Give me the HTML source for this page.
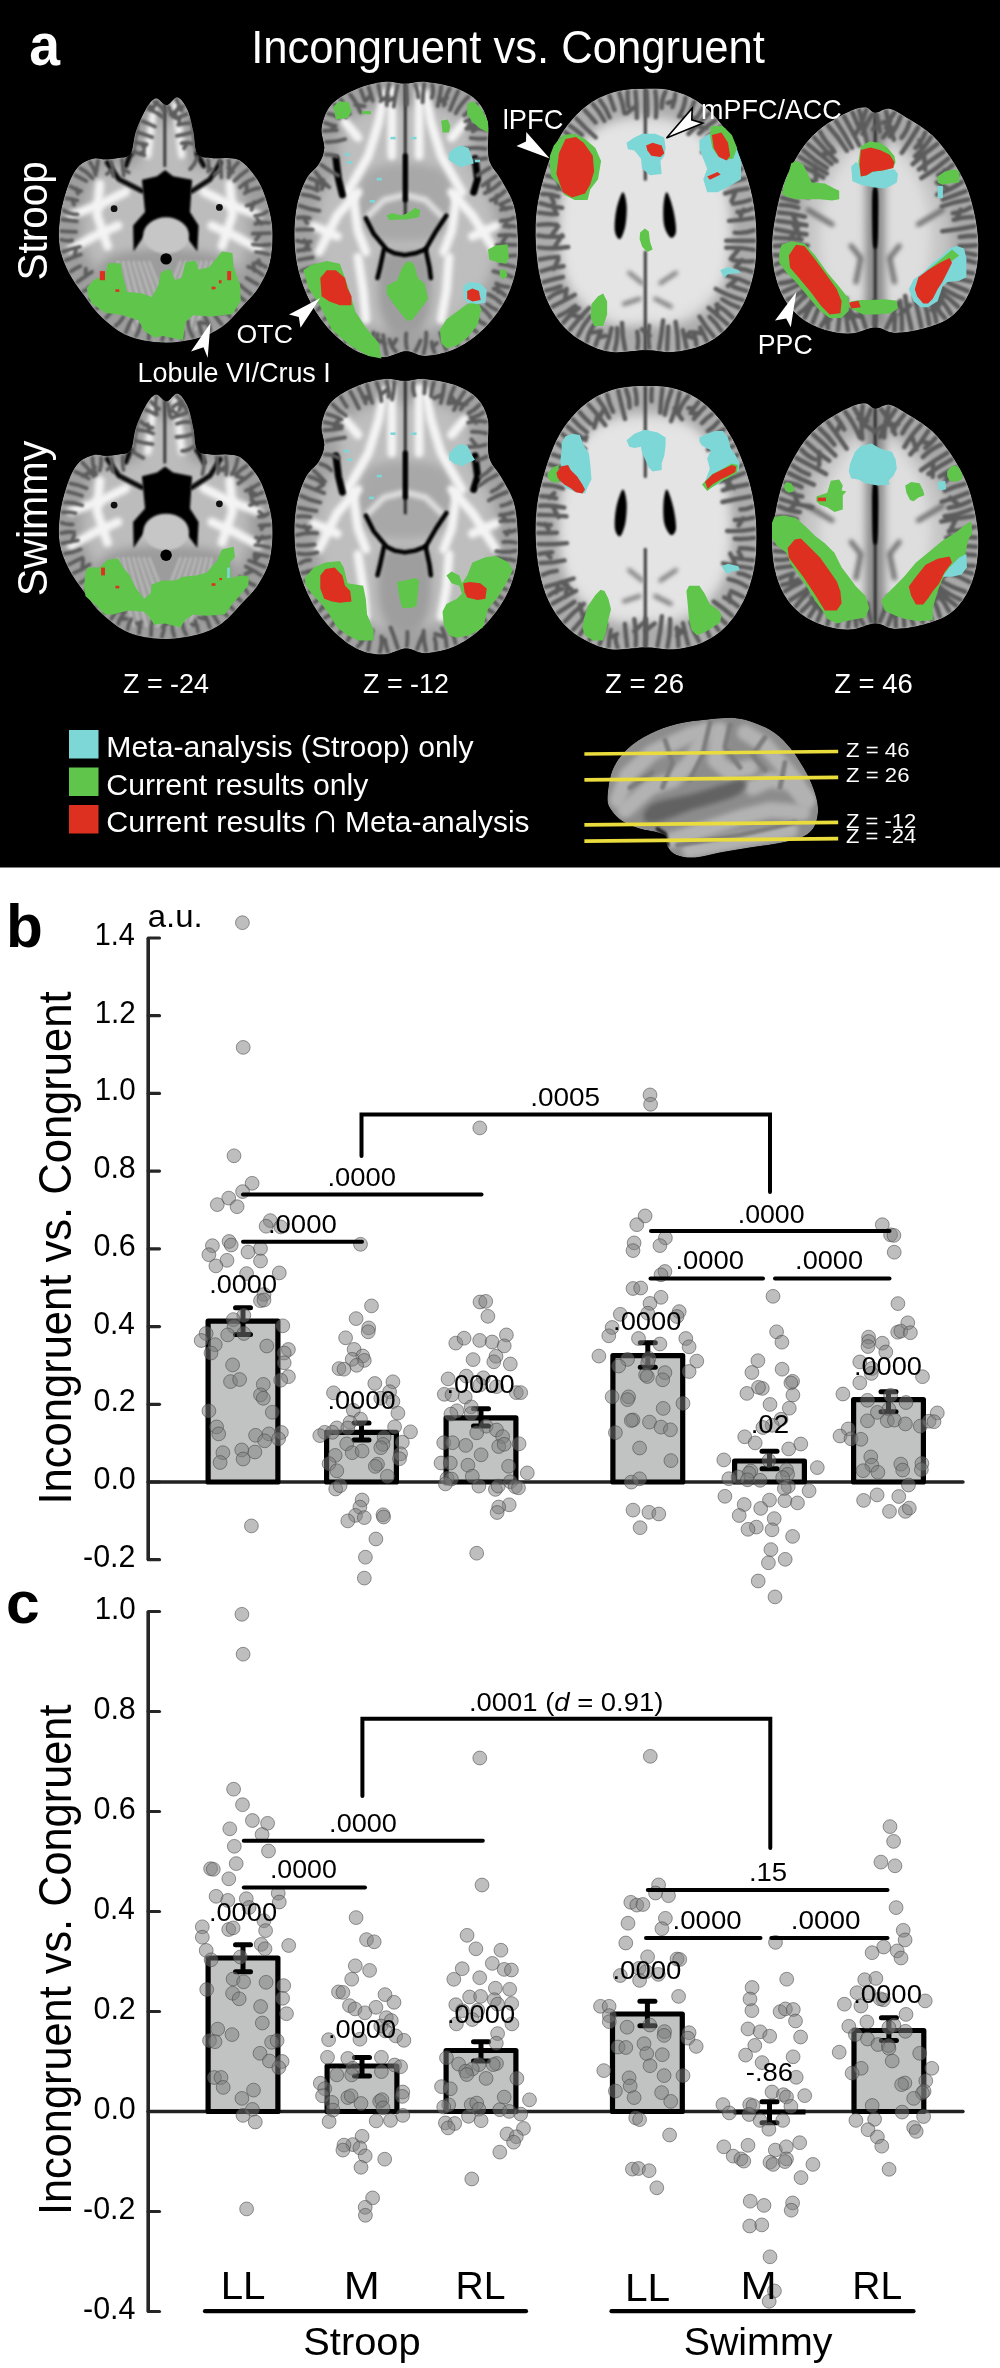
<!DOCTYPE html>
<html><head><meta charset="utf-8">
<style>
html,body{margin:0;padding:0;background:#fff;}
body{width:1000px;height:2368px;overflow:hidden;}
svg{display:block;font-family:"Liberation Sans", sans-serif;}
text{opacity:0.999;}
</style></head><body>
<svg width="1000" height="2368" viewBox="0 0 1000 2368">
<rect x="0" y="0" width="1000" height="867.5" fill="#000"/>
<defs><filter id="blur1" filterUnits="userSpaceOnUse" x="0" y="0" width="1000" height="900"><feGaussianBlur stdDeviation="1"/></filter>
<filter id="blur2" filterUnits="userSpaceOnUse" x="0" y="0" width="1000" height="900"><feGaussianBlur stdDeviation="2"/></filter>
<filter id="blur4" filterUnits="userSpaceOnUse" x="0" y="0" width="1000" height="900"><feGaussianBlur stdDeviation="4"/></filter>
<filter id="blur5" filterUnits="userSpaceOnUse" x="0" y="0" width="1000" height="900"><feGaussianBlur stdDeviation="6"/></filter></defs>
<clipPath id="clip1_0"><path d="M155.7,98.2 C159.3,97.4 163.0,105.1 166.6,105.0 C170.3,104.8 174.0,96.3 177.5,97.2 C181.1,98.0 185.0,104.1 187.7,109.9 C190.3,115.7 191.8,124.7 193.4,132.0 C195.0,139.3 194.3,149.5 197.3,153.8 C200.3,158.2 206.6,157.3 211.6,158.0 C216.6,158.7 222.4,157.6 227.2,158.0 C232.0,158.4 235.9,158.0 240.2,160.6 C244.5,163.2 249.3,168.4 253.2,173.6 C257.1,178.8 260.4,183.1 263.6,191.8 C266.8,200.5 271.1,213.9 272.2,225.6 C273.3,237.3 272.4,251.6 270.1,262.0 C267.8,272.4 263.0,280.6 258.4,288.0 C253.9,295.4 248.9,299.7 242.8,306.2 C236.7,312.7 229.8,321.6 222.0,327.0 C214.2,332.4 206.0,336.1 196.0,338.7 C186.0,341.3 173.5,343.0 162.2,342.6 C150.9,342.2 138.4,340.2 128.4,336.1 C118.4,332.0 109.8,324.6 102.4,317.9 C95.0,311.2 89.8,303.4 84.2,295.8 C78.6,288.2 72.7,280.6 68.6,272.4 C64.5,264.2 60.9,255.9 59.5,246.4 C58.1,236.9 58.8,225.6 60.3,215.2 C61.8,204.8 65.5,192.2 68.6,184.0 C71.7,175.8 74.8,170.1 79.0,165.8 C83.2,161.6 89.2,159.6 93.6,158.5 C97.9,157.4 100.9,159.4 105.0,159.3 C109.1,159.2 113.8,158.9 118.0,158.0 C122.2,157.1 127.5,158.2 130.5,153.8 C133.4,149.5 133.2,139.3 135.7,132.0 C138.2,124.7 142.0,115.5 145.3,109.9 C148.6,104.3 152.2,99.0 155.7,98.2 Z"/></clipPath>
<g clip-path="url(#clip1_0)">
<path d="M155.7,98.2 C159.3,97.4 163.0,105.1 166.6,105.0 C170.3,104.8 174.0,96.3 177.5,97.2 C181.1,98.0 185.0,104.1 187.7,109.9 C190.3,115.7 191.8,124.7 193.4,132.0 C195.0,139.3 194.3,149.5 197.3,153.8 C200.3,158.2 206.6,157.3 211.6,158.0 C216.6,158.7 222.4,157.6 227.2,158.0 C232.0,158.4 235.9,158.0 240.2,160.6 C244.5,163.2 249.3,168.4 253.2,173.6 C257.1,178.8 260.4,183.1 263.6,191.8 C266.8,200.5 271.1,213.9 272.2,225.6 C273.3,237.3 272.4,251.6 270.1,262.0 C267.8,272.4 263.0,280.6 258.4,288.0 C253.9,295.4 248.9,299.7 242.8,306.2 C236.7,312.7 229.8,321.6 222.0,327.0 C214.2,332.4 206.0,336.1 196.0,338.7 C186.0,341.3 173.5,343.0 162.2,342.6 C150.9,342.2 138.4,340.2 128.4,336.1 C118.4,332.0 109.8,324.6 102.4,317.9 C95.0,311.2 89.8,303.4 84.2,295.8 C78.6,288.2 72.7,280.6 68.6,272.4 C64.5,264.2 60.9,255.9 59.5,246.4 C58.1,236.9 58.8,225.6 60.3,215.2 C61.8,204.8 65.5,192.2 68.6,184.0 C71.7,175.8 74.8,170.1 79.0,165.8 C83.2,161.6 89.2,159.6 93.6,158.5 C97.9,157.4 100.9,159.4 105.0,159.3 C109.1,159.2 113.8,158.9 118.0,158.0 C122.2,157.1 127.5,158.2 130.5,153.8 C133.4,149.5 133.2,139.3 135.7,132.0 C138.2,124.7 142.0,115.5 145.3,109.9 C148.6,104.3 152.2,99.0 155.7,98.2 Z" fill="#9e9e9e"/>
<path d="M157.7,119.4 C160.5,118.7 163.4,124.9 166.2,124.8 C169.1,124.7 172.0,117.9 174.8,118.6 C177.5,119.2 180.6,124.1 182.7,128.8 C184.7,133.4 185.9,140.6 187.1,146.4 C188.4,152.3 187.8,160.4 190.2,163.9 C192.5,167.4 197.4,166.7 201.3,167.2 C205.2,167.8 209.8,166.9 213.5,167.2 C217.2,167.6 220.3,167.2 223.6,169.3 C227.0,171.4 230.7,175.6 233.8,179.7 C236.8,183.9 239.4,187.3 241.9,194.3 C244.4,201.2 247.7,212.0 248.6,221.3 C249.4,230.7 248.8,242.1 247.0,250.4 C245.2,258.8 241.4,265.3 237.8,271.2 C234.3,277.1 230.4,280.6 225.7,285.8 C220.9,291.0 215.5,298.1 209.4,302.4 C203.4,306.8 196.9,309.7 189.2,311.8 C181.4,313.9 171.6,315.3 162.8,314.9 C154.0,314.6 144.2,313.0 136.4,309.7 C128.7,306.4 121.9,300.5 116.2,295.2 C110.4,289.8 106.4,283.5 102.0,277.5 C97.6,271.4 93.0,265.3 89.8,258.8 C86.6,252.2 83.8,245.6 82.7,238.0 C81.6,230.3 82.1,221.3 83.3,213.0 C84.5,204.7 87.4,194.6 89.8,188.0 C92.2,181.5 94.7,176.9 97.9,173.5 C101.1,170.1 105.9,168.5 109.3,167.7 C112.6,166.8 115.0,168.3 118.2,168.3 C121.4,168.2 125.0,168.0 128.3,167.2 C131.6,166.5 135.8,167.4 138.1,163.9 C140.4,160.4 140.2,152.3 142.1,146.4 C144.0,140.6 147.0,133.3 149.6,128.8 C152.2,124.2 155.0,120.1 157.7,119.4 Z" fill="#bcbcbc" filter="url(#blur5)"/>
<polyline points="154.4,104.7 150.5,132.0 147.9,155.4" fill="none" stroke="#f4f4f4" stroke-width="7" stroke-linecap="round" stroke-linejoin="round" opacity="1.0" filter="url(#blur2)"/>
<polyline points="175.2,104.7 179.1,132.0 181.7,155.4" fill="none" stroke="#f4f4f4" stroke-width="7" stroke-linecap="round" stroke-linejoin="round" opacity="1.0" filter="url(#blur2)"/>
<polyline points="164.8,100.8 164.8,165.8" fill="none" stroke="#3a3a3a" stroke-width="3" stroke-linecap="round" stroke-linejoin="round" opacity="1.0" filter="url(#blur1)"/>
<polyline points="138.8,119.0 133.6,155.4" fill="none" stroke="#6a6a6a" stroke-width="3" stroke-linecap="round" stroke-linejoin="round" opacity="1.0" filter="url(#blur1)"/>
<polyline points="190.8,119.0 196.0,155.4" fill="none" stroke="#6a6a6a" stroke-width="3" stroke-linecap="round" stroke-linejoin="round" opacity="1.0" filter="url(#blur1)"/>
<polyline points="125.8,191.8 99.8,204.8 71.2,215.2" fill="none" stroke="#f4f4f4" stroke-width="9" stroke-linecap="round" stroke-linejoin="round" opacity="1.0" filter="url(#blur2)"/>
<polyline points="118.0,225.6 94.6,236.0 71.2,249.0" fill="none" stroke="#f4f4f4" stroke-width="9" stroke-linecap="round" stroke-linejoin="round" opacity="1.0" filter="url(#blur2)"/>
<polyline points="99.8,184.0 97.2,215.2 107.6,246.4" fill="none" stroke="#f4f4f4" stroke-width="9" stroke-linecap="round" stroke-linejoin="round" opacity="1.0" filter="url(#blur2)"/>
<polyline points="203.8,191.8 229.8,204.8 258.4,215.2" fill="none" stroke="#f4f4f4" stroke-width="9" stroke-linecap="round" stroke-linejoin="round" opacity="1.0" filter="url(#blur2)"/>
<polyline points="211.6,225.6 235.0,236.0 258.4,249.0" fill="none" stroke="#f4f4f4" stroke-width="9" stroke-linecap="round" stroke-linejoin="round" opacity="1.0" filter="url(#blur2)"/>
<polyline points="229.8,184.0 232.4,215.2 222.0,246.4" fill="none" stroke="#f4f4f4" stroke-width="9" stroke-linecap="round" stroke-linejoin="round" opacity="1.0" filter="url(#blur2)"/>
<path d="M105.0,259.4 C117.6,250.3 144.4,249.0 164.8,249.0 C185.2,249.0 214.6,250.7 227.2,259.4 C239.8,268.1 244.5,288.4 240.2,301.0 C235.9,313.6 214.2,328.3 201.2,334.8 C188.2,341.3 174.8,340.2 162.2,340.0 C149.6,339.8 137.9,339.6 125.8,333.5 C113.7,327.4 92.9,316.0 89.4,303.6 C85.9,291.3 92.4,268.5 105.0,259.4 Z" fill="#9c9c9c" filter="url(#blur4)"/>
<polyline points="118.0,262.0 125.8,301.0 133.6,329.6" fill="none" stroke="#bdbdbd" stroke-width="3" stroke-linecap="round" stroke-linejoin="round" opacity="0.8" filter="url(#blur1)"/>
<polyline points="211.6,262.0 203.8,301.0 196.0,329.6" fill="none" stroke="#bdbdbd" stroke-width="3" stroke-linecap="round" stroke-linejoin="round" opacity="0.8" filter="url(#blur1)"/>
<polyline points="123.2,262.0 132.3,301.0 140.1,329.6" fill="none" stroke="#bdbdbd" stroke-width="3" stroke-linecap="round" stroke-linejoin="round" opacity="0.8" filter="url(#blur1)"/>
<polyline points="206.4,262.0 197.3,301.0 189.5,329.6" fill="none" stroke="#bdbdbd" stroke-width="3" stroke-linecap="round" stroke-linejoin="round" opacity="0.8" filter="url(#blur1)"/>
<polyline points="128.4,262.0 138.8,301.0 146.6,329.6" fill="none" stroke="#bdbdbd" stroke-width="3" stroke-linecap="round" stroke-linejoin="round" opacity="0.8" filter="url(#blur1)"/>
<polyline points="201.2,262.0 190.8,301.0 183.0,329.6" fill="none" stroke="#bdbdbd" stroke-width="3" stroke-linecap="round" stroke-linejoin="round" opacity="0.8" filter="url(#blur1)"/>
<polyline points="133.6,262.0 145.3,301.0 153.1,329.6" fill="none" stroke="#bdbdbd" stroke-width="3" stroke-linecap="round" stroke-linejoin="round" opacity="0.8" filter="url(#blur1)"/>
<polyline points="196.0,262.0 184.3,301.0 176.5,329.6" fill="none" stroke="#bdbdbd" stroke-width="3" stroke-linecap="round" stroke-linejoin="round" opacity="0.8" filter="url(#blur1)"/>
<polyline points="138.8,262.0 151.8,301.0 159.6,329.6" fill="none" stroke="#bdbdbd" stroke-width="3" stroke-linecap="round" stroke-linejoin="round" opacity="0.8" filter="url(#blur1)"/>
<polyline points="190.8,262.0 177.8,301.0 170.0,329.6" fill="none" stroke="#bdbdbd" stroke-width="3" stroke-linecap="round" stroke-linejoin="round" opacity="0.8" filter="url(#blur1)"/>
<polyline points="144.0,262.0 158.3,301.0 166.1,329.6" fill="none" stroke="#bdbdbd" stroke-width="3" stroke-linecap="round" stroke-linejoin="round" opacity="0.8" filter="url(#blur1)"/>
<polyline points="185.6,262.0 171.3,301.0 163.5,329.6" fill="none" stroke="#bdbdbd" stroke-width="3" stroke-linecap="round" stroke-linejoin="round" opacity="0.8" filter="url(#blur1)"/>
<polyline points="149.2,262.0 164.8,301.0 172.6,329.6" fill="none" stroke="#bdbdbd" stroke-width="3" stroke-linecap="round" stroke-linejoin="round" opacity="0.8" filter="url(#blur1)"/>
<polyline points="180.4,262.0 164.8,301.0 157.0,329.6" fill="none" stroke="#bdbdbd" stroke-width="3" stroke-linecap="round" stroke-linejoin="round" opacity="0.8" filter="url(#blur1)"/>
<polygon points="141.9,179.8 157.0,176.2 165.1,170.0 173.1,176.2 192.1,179.8 190.0,212.1 198.6,225.6 197.3,251.6 185.6,236.0 166.1,225.6 144.0,236.0 133.6,251.6 133.1,225.6 145.0,212.1" fill="#050505" filter="url(#blur1)"/>
<ellipse cx="166.1" cy="235.5" rx="22.9" ry="18.2" fill="#c6c6c6" filter="url(#blur1)"/>
<circle cx="166.1" cy="258.9" r="5.7" fill="#000"/>
<circle cx="114.1" cy="208.7" r="3.4" fill="#111"/>
<circle cx="219.4" cy="207.4" r="3.4" fill="#111"/>
<polyline points="107.3,162.7 119.0,179.3 141.9,191.0" fill="none" stroke="#111" stroke-width="5" stroke-linecap="round" stroke-linejoin="round" opacity="1.0" filter="url(#blur1)"/>
<polyline points="220.2,162.7 210.0,179.3 192.1,191.0" fill="none" stroke="#111" stroke-width="5" stroke-linecap="round" stroke-linejoin="round" opacity="1.0" filter="url(#blur1)"/>
<polyline points="130.5,153.8 125.8,165.8" fill="none" stroke="#111" stroke-width="5" stroke-linecap="round" stroke-linejoin="round" opacity="1.0" filter="url(#blur1)"/>
<polyline points="197.3,153.8 203.8,165.8" fill="none" stroke="#111" stroke-width="5" stroke-linecap="round" stroke-linejoin="round" opacity="1.0" filter="url(#blur1)"/>
<path d="M157.5,101.4 Q154.9,106.4 151.2,110.6 M153.8,106.3 L148.8,106.3 M168.5,107.0 Q170.6,111.8 172.6,116.7 M170.8,112.3 L175.3,113.5 M176.6,99.8 Q179.4,105.1 181.7,110.6 M179.3,105.8 L176.8,110.5 M183.1,106.5 Q176.9,110.7 170.3,114.3 M176.0,110.7 L175.2,117.4 M186.7,114.3 Q181.2,116.5 175.6,118.3 M180.6,116.4 L179.0,121.4 M189.0,123.2 Q183.4,123.2 178.2,124.9 M191.0,132.6 Q183.9,134.8 176.7,135.8 M192.3,143.8 Q186.8,141.6 181.7,143.4 M186.5,144.3 L184.1,148.4 M197.2,157.3 Q195.2,164.3 190.1,169.1 M208.0,160.2 Q209.3,166.0 208.2,171.7 M207.6,166.5 L211.6,169.8 M219.7,160.6 Q221.5,169.0 221.3,177.5 M220.2,169.9 L214.3,174.8 M228.8,160.6 Q229.9,167.4 228.7,174.0 M228.3,167.9 L232.8,171.9 M238.3,162.4 Q231.8,168.9 228.5,177.2 M247.2,170.2 Q240.4,174.9 234.5,180.8 M254.0,178.8 Q245.8,181.5 240.0,187.4 M246.7,184.1 L246.6,191.5 M259.4,188.0 Q251.3,188.9 244.9,193.3 M263.5,199.0 Q255.6,203.6 246.7,205.6 M254.1,202.1 L251.5,209.8 M267.1,211.5 Q261.5,215.6 255.0,215.8 M269.3,222.8 Q262.2,222.1 255.4,223.9 M261.7,223.8 L257.3,219.4 M270.1,233.2 Q261.4,233.4 252.8,233.6 M260.6,233.4 L256.0,239.8 M269.9,244.5 Q261.3,245.9 252.8,244.4 M268.9,254.5 Q262.4,252.7 255.8,252.2 M266.1,267.2 Q261.4,263.5 255.8,262.6 M260.2,265.2 L258.7,260.4 M262.8,275.1 Q256.2,269.7 248.3,266.8 M254.6,271.0 L253.3,263.7 M257.7,284.4 Q251.9,281.4 246.5,277.9 M250.9,294.0 Q245.1,289.9 240.0,285.0 M244.8,300.6 Q237.4,295.8 231.8,289.2 M236.0,310.0 Q231.5,305.2 226.4,301.0 M230.6,305.2 L224.8,306.4 M229.9,316.7 Q227.3,311.8 222.9,308.8 M225.7,312.7 L221.1,313.5 M221.6,324.2 Q218.1,320.1 215.0,315.6 M210.3,330.9 Q209.4,323.1 204.9,317.0 M206.7,323.6 L200.1,322.3 M201.8,334.4 Q200.8,328.4 198.4,322.8 M193.0,336.9 Q188.2,329.4 187.8,320.9 M182.2,338.9 Q183.8,333.3 181.8,328.2 M181.4,333.1 L177.1,330.8 M171.3,340.0 Q170.8,332.3 170.4,324.5 M170.8,331.5 L165.0,327.6 M162.1,340.1 Q165.2,333.1 164.1,325.8 M148.7,338.9 Q148.8,330.3 150.7,322.0 M150.1,329.7 L144.8,324.2 M136.1,336.1 Q139.5,330.4 140.5,324.0 M125.9,332.2 Q128.6,325.1 132.2,318.5 M115.7,325.8 Q120.5,322.2 123.3,317.1 M106.1,317.8 Q109.9,313.5 113.8,309.2 M96.8,308.3 Q103.2,303.3 109.5,298.0 M103.7,302.6 L103.4,295.3 M90.1,299.7 Q95.5,292.2 103.4,288.2 M83.8,291.1 Q89.5,288.9 93.8,284.8 M89.0,287.3 L94.1,288.8 M77.4,282.1 Q84.4,276.6 91.9,271.8 M85.5,276.6 L85.8,268.6 M70.9,271.5 Q75.2,268.2 80.2,266.2 M65.8,260.2 Q73.3,257.5 80.8,254.6 M74.0,257.1 L76.0,250.1 M63.1,251.7 Q71.3,248.3 80.0,246.8 M61.4,239.8 Q66.8,241.6 72.1,240.3 M61.3,231.2 Q68.7,231.7 76.0,231.9 M62.2,219.5 Q69.5,220.5 76.9,221.3 M63.7,210.3 Q70.2,214.5 77.5,214.4 M66.5,198.4 Q72.1,198.5 77.2,200.6 M72.3,200.0 L74.0,204.6 M70.4,186.4 Q75.4,189.8 81.1,191.1 M76.4,188.6 L77.9,193.6 M75.3,175.2 Q80.9,178.0 86.4,181.1 M80.1,168.3 Q87.6,172.0 92.5,178.3 M89.9,162.2 Q94.2,168.2 95.7,175.1 M97.9,160.8 Q97.2,166.4 96.3,171.9 M111.1,161.5 Q113.4,168.8 113.2,176.2 M111.8,169.6 L106.8,174.1 M122.1,160.0 Q123.1,167.9 123.6,175.8 M122.8,168.7 L128.8,172.5 M134.1,152.0 Q139.3,153.5 144.4,155.4 M139.7,154.0 L143.8,151.3 M136.0,142.7 Q141.3,143.8 146.6,144.5 M141.9,143.6 L144.1,147.9 M138.2,132.4 Q145.2,134.8 152.3,137.2 M142.5,121.2 Q148.8,123.7 155.0,126.6 M148.5,109.5 Q156.3,111.6 162.4,116.7 M154.1,102.0 Q161.0,105.3 165.1,111.5" fill="none" stroke="#5c5c5c" stroke-width="3.8" stroke-linecap="round" stroke-linejoin="round" filter="url(#blur1)"/>
</g>
<clipPath id="clip1_296"><path d="M155.7,394.6 C159.3,393.8 163.0,401.5 166.6,401.4 C170.3,401.2 174.0,392.7 177.5,393.6 C181.1,394.4 185.0,400.5 187.7,406.3 C190.3,412.1 191.8,421.1 193.4,428.4 C195.0,435.7 194.3,445.9 197.3,450.2 C200.3,454.6 206.6,453.7 211.6,454.4 C216.6,455.1 222.4,454.0 227.2,454.4 C232.0,454.8 235.9,454.4 240.2,457.0 C244.5,459.6 249.3,464.8 253.2,470.0 C257.1,475.2 260.4,479.5 263.6,488.2 C266.8,496.9 271.1,510.3 272.2,522.0 C273.3,533.7 272.4,548.0 270.1,558.4 C267.8,568.8 263.0,577.0 258.4,584.4 C253.9,591.8 248.9,596.1 242.8,602.6 C236.7,609.1 229.8,618.0 222.0,623.4 C214.2,628.8 206.0,632.5 196.0,635.1 C186.0,637.7 173.5,639.4 162.2,639.0 C150.9,638.6 138.4,636.6 128.4,632.5 C118.4,628.4 109.8,621.0 102.4,614.3 C95.0,607.6 89.8,599.8 84.2,592.2 C78.6,584.6 72.7,577.0 68.6,568.8 C64.5,560.6 60.9,552.3 59.5,542.8 C58.1,533.3 58.8,522.0 60.3,511.6 C61.8,501.2 65.5,488.6 68.6,480.4 C71.7,472.2 74.8,466.5 79.0,462.2 C83.2,458.0 89.2,456.0 93.6,454.9 C97.9,453.8 100.9,455.8 105.0,455.7 C109.1,455.6 113.8,455.3 118.0,454.4 C122.2,453.5 127.5,454.6 130.5,450.2 C133.4,445.9 133.2,435.7 135.7,428.4 C138.2,421.1 142.0,411.9 145.3,406.3 C148.6,400.7 152.2,395.4 155.7,394.6 Z"/></clipPath>
<g clip-path="url(#clip1_296)">
<path d="M155.7,394.6 C159.3,393.8 163.0,401.5 166.6,401.4 C170.3,401.2 174.0,392.7 177.5,393.6 C181.1,394.4 185.0,400.5 187.7,406.3 C190.3,412.1 191.8,421.1 193.4,428.4 C195.0,435.7 194.3,445.9 197.3,450.2 C200.3,454.6 206.6,453.7 211.6,454.4 C216.6,455.1 222.4,454.0 227.2,454.4 C232.0,454.8 235.9,454.4 240.2,457.0 C244.5,459.6 249.3,464.8 253.2,470.0 C257.1,475.2 260.4,479.5 263.6,488.2 C266.8,496.9 271.1,510.3 272.2,522.0 C273.3,533.7 272.4,548.0 270.1,558.4 C267.8,568.8 263.0,577.0 258.4,584.4 C253.9,591.8 248.9,596.1 242.8,602.6 C236.7,609.1 229.8,618.0 222.0,623.4 C214.2,628.8 206.0,632.5 196.0,635.1 C186.0,637.7 173.5,639.4 162.2,639.0 C150.9,638.6 138.4,636.6 128.4,632.5 C118.4,628.4 109.8,621.0 102.4,614.3 C95.0,607.6 89.8,599.8 84.2,592.2 C78.6,584.6 72.7,577.0 68.6,568.8 C64.5,560.6 60.9,552.3 59.5,542.8 C58.1,533.3 58.8,522.0 60.3,511.6 C61.8,501.2 65.5,488.6 68.6,480.4 C71.7,472.2 74.8,466.5 79.0,462.2 C83.2,458.0 89.2,456.0 93.6,454.9 C97.9,453.8 100.9,455.8 105.0,455.7 C109.1,455.6 113.8,455.3 118.0,454.4 C122.2,453.5 127.5,454.6 130.5,450.2 C133.4,445.9 133.2,435.7 135.7,428.4 C138.2,421.1 142.0,411.9 145.3,406.3 C148.6,400.7 152.2,395.4 155.7,394.6 Z" fill="#9e9e9e"/>
<path d="M157.7,415.8 C160.5,415.1 163.4,421.3 166.2,421.2 C169.1,421.1 172.0,414.3 174.8,415.0 C177.5,415.6 180.6,420.5 182.7,425.2 C184.7,429.8 185.9,437.0 187.1,442.8 C188.4,448.7 187.8,456.8 190.2,460.3 C192.5,463.8 197.4,463.1 201.3,463.6 C205.2,464.2 209.8,463.3 213.5,463.6 C217.2,464.0 220.3,463.6 223.6,465.7 C227.0,467.8 230.7,472.0 233.8,476.1 C236.8,480.3 239.4,483.7 241.9,490.7 C244.4,497.6 247.7,508.4 248.6,517.7 C249.4,527.1 248.8,538.5 247.0,546.8 C245.2,555.2 241.4,561.7 237.8,567.6 C234.3,573.5 230.4,577.0 225.7,582.2 C220.9,587.4 215.5,594.5 209.4,598.8 C203.4,603.2 196.9,606.1 189.2,608.2 C181.4,610.3 171.6,611.7 162.8,611.3 C154.0,611.0 144.2,609.4 136.4,606.1 C128.7,602.8 121.9,596.9 116.2,591.6 C110.4,586.2 106.4,579.9 102.0,573.9 C97.6,567.8 93.0,561.7 89.8,555.2 C86.6,548.6 83.8,542.0 82.7,534.4 C81.6,526.7 82.1,517.7 83.3,509.4 C84.5,501.1 87.4,491.0 89.8,484.4 C92.2,477.9 94.7,473.3 97.9,469.9 C101.1,466.5 105.9,464.9 109.3,464.1 C112.6,463.2 115.0,464.7 118.2,464.7 C121.4,464.6 125.0,464.4 128.3,463.6 C131.6,462.9 135.8,463.8 138.1,460.3 C140.4,456.8 140.2,448.7 142.1,442.8 C144.0,437.0 147.0,429.7 149.6,425.2 C152.2,420.6 155.0,416.5 157.7,415.8 Z" fill="#bcbcbc" filter="url(#blur5)"/>
<polyline points="154.4,401.1 150.5,428.4 147.9,451.8" fill="none" stroke="#f4f4f4" stroke-width="7" stroke-linecap="round" stroke-linejoin="round" opacity="1.0" filter="url(#blur2)"/>
<polyline points="175.2,401.1 179.1,428.4 181.7,451.8" fill="none" stroke="#f4f4f4" stroke-width="7" stroke-linecap="round" stroke-linejoin="round" opacity="1.0" filter="url(#blur2)"/>
<polyline points="164.8,397.2 164.8,462.2" fill="none" stroke="#3a3a3a" stroke-width="3" stroke-linecap="round" stroke-linejoin="round" opacity="1.0" filter="url(#blur1)"/>
<polyline points="138.8,415.4 133.6,451.8" fill="none" stroke="#6a6a6a" stroke-width="3" stroke-linecap="round" stroke-linejoin="round" opacity="1.0" filter="url(#blur1)"/>
<polyline points="190.8,415.4 196.0,451.8" fill="none" stroke="#6a6a6a" stroke-width="3" stroke-linecap="round" stroke-linejoin="round" opacity="1.0" filter="url(#blur1)"/>
<polyline points="125.8,488.2 99.8,501.2 71.2,511.6" fill="none" stroke="#f4f4f4" stroke-width="9" stroke-linecap="round" stroke-linejoin="round" opacity="1.0" filter="url(#blur2)"/>
<polyline points="118.0,522.0 94.6,532.4 71.2,545.4" fill="none" stroke="#f4f4f4" stroke-width="9" stroke-linecap="round" stroke-linejoin="round" opacity="1.0" filter="url(#blur2)"/>
<polyline points="99.8,480.4 97.2,511.6 107.6,542.8" fill="none" stroke="#f4f4f4" stroke-width="9" stroke-linecap="round" stroke-linejoin="round" opacity="1.0" filter="url(#blur2)"/>
<polyline points="203.8,488.2 229.8,501.2 258.4,511.6" fill="none" stroke="#f4f4f4" stroke-width="9" stroke-linecap="round" stroke-linejoin="round" opacity="1.0" filter="url(#blur2)"/>
<polyline points="211.6,522.0 235.0,532.4 258.4,545.4" fill="none" stroke="#f4f4f4" stroke-width="9" stroke-linecap="round" stroke-linejoin="round" opacity="1.0" filter="url(#blur2)"/>
<polyline points="229.8,480.4 232.4,511.6 222.0,542.8" fill="none" stroke="#f4f4f4" stroke-width="9" stroke-linecap="round" stroke-linejoin="round" opacity="1.0" filter="url(#blur2)"/>
<path d="M105.0,555.8 C117.6,546.7 144.4,545.4 164.8,545.4 C185.2,545.4 214.6,547.1 227.2,555.8 C239.8,564.5 244.5,584.8 240.2,597.4 C235.9,610.0 214.2,624.7 201.2,631.2 C188.2,637.7 174.8,636.6 162.2,636.4 C149.6,636.2 137.9,636.0 125.8,629.9 C113.7,623.8 92.9,612.4 89.4,600.0 C85.9,587.7 92.4,564.9 105.0,555.8 Z" fill="#9c9c9c" filter="url(#blur4)"/>
<polyline points="118.0,558.4 125.8,597.4 133.6,626.0" fill="none" stroke="#bdbdbd" stroke-width="3" stroke-linecap="round" stroke-linejoin="round" opacity="0.8" filter="url(#blur1)"/>
<polyline points="211.6,558.4 203.8,597.4 196.0,626.0" fill="none" stroke="#bdbdbd" stroke-width="3" stroke-linecap="round" stroke-linejoin="round" opacity="0.8" filter="url(#blur1)"/>
<polyline points="123.2,558.4 132.3,597.4 140.1,626.0" fill="none" stroke="#bdbdbd" stroke-width="3" stroke-linecap="round" stroke-linejoin="round" opacity="0.8" filter="url(#blur1)"/>
<polyline points="206.4,558.4 197.3,597.4 189.5,626.0" fill="none" stroke="#bdbdbd" stroke-width="3" stroke-linecap="round" stroke-linejoin="round" opacity="0.8" filter="url(#blur1)"/>
<polyline points="128.4,558.4 138.8,597.4 146.6,626.0" fill="none" stroke="#bdbdbd" stroke-width="3" stroke-linecap="round" stroke-linejoin="round" opacity="0.8" filter="url(#blur1)"/>
<polyline points="201.2,558.4 190.8,597.4 183.0,626.0" fill="none" stroke="#bdbdbd" stroke-width="3" stroke-linecap="round" stroke-linejoin="round" opacity="0.8" filter="url(#blur1)"/>
<polyline points="133.6,558.4 145.3,597.4 153.1,626.0" fill="none" stroke="#bdbdbd" stroke-width="3" stroke-linecap="round" stroke-linejoin="round" opacity="0.8" filter="url(#blur1)"/>
<polyline points="196.0,558.4 184.3,597.4 176.5,626.0" fill="none" stroke="#bdbdbd" stroke-width="3" stroke-linecap="round" stroke-linejoin="round" opacity="0.8" filter="url(#blur1)"/>
<polyline points="138.8,558.4 151.8,597.4 159.6,626.0" fill="none" stroke="#bdbdbd" stroke-width="3" stroke-linecap="round" stroke-linejoin="round" opacity="0.8" filter="url(#blur1)"/>
<polyline points="190.8,558.4 177.8,597.4 170.0,626.0" fill="none" stroke="#bdbdbd" stroke-width="3" stroke-linecap="round" stroke-linejoin="round" opacity="0.8" filter="url(#blur1)"/>
<polyline points="144.0,558.4 158.3,597.4 166.1,626.0" fill="none" stroke="#bdbdbd" stroke-width="3" stroke-linecap="round" stroke-linejoin="round" opacity="0.8" filter="url(#blur1)"/>
<polyline points="185.6,558.4 171.3,597.4 163.5,626.0" fill="none" stroke="#bdbdbd" stroke-width="3" stroke-linecap="round" stroke-linejoin="round" opacity="0.8" filter="url(#blur1)"/>
<polyline points="149.2,558.4 164.8,597.4 172.6,626.0" fill="none" stroke="#bdbdbd" stroke-width="3" stroke-linecap="round" stroke-linejoin="round" opacity="0.8" filter="url(#blur1)"/>
<polyline points="180.4,558.4 164.8,597.4 157.0,626.0" fill="none" stroke="#bdbdbd" stroke-width="3" stroke-linecap="round" stroke-linejoin="round" opacity="0.8" filter="url(#blur1)"/>
<polygon points="141.9,476.2 157.0,472.6 165.1,466.4 173.1,472.6 192.1,476.2 190.0,508.5 198.6,522.0 197.3,548.0 185.6,532.4 166.1,522.0 144.0,532.4 133.6,548.0 133.1,522.0 145.0,508.5" fill="#050505" filter="url(#blur1)"/>
<ellipse cx="166.1" cy="531.9" rx="22.9" ry="18.2" fill="#c6c6c6" filter="url(#blur1)"/>
<circle cx="166.1" cy="555.3" r="5.7" fill="#000"/>
<circle cx="114.1" cy="505.1" r="3.4" fill="#111"/>
<circle cx="219.4" cy="503.8" r="3.4" fill="#111"/>
<polyline points="107.3,459.1 119.0,475.7 141.9,487.4" fill="none" stroke="#111" stroke-width="5" stroke-linecap="round" stroke-linejoin="round" opacity="1.0" filter="url(#blur1)"/>
<polyline points="220.2,459.1 210.0,475.7 192.1,487.4" fill="none" stroke="#111" stroke-width="5" stroke-linecap="round" stroke-linejoin="round" opacity="1.0" filter="url(#blur1)"/>
<polyline points="130.5,450.2 125.8,462.2" fill="none" stroke="#111" stroke-width="5" stroke-linecap="round" stroke-linejoin="round" opacity="1.0" filter="url(#blur1)"/>
<polyline points="197.3,450.2 203.8,462.2" fill="none" stroke="#111" stroke-width="5" stroke-linecap="round" stroke-linejoin="round" opacity="1.0" filter="url(#blur1)"/>
<path d="M156.3,397.1 Q155.2,406.1 156.9,414.8 M167.6,403.7 Q168.8,409.6 169.9,415.6 M176.6,396.2 Q182.8,402.0 186.5,409.3 M181.6,403.7 L179.1,410.6 M182.1,401.2 Q177.2,403.7 172.8,407.0 M187.3,412.6 Q179.6,416.0 171.5,417.8 M178.5,415.2 L172.6,410.7 M189.5,422.1 Q182.9,421.4 176.9,423.7 M191.8,434.4 Q184.2,437.2 176.3,437.0 M193.2,446.7 Q188.1,450.9 182.0,451.0 M203.8,456.2 Q204.8,465.4 202.5,474.2 M216.7,457.1 Q218.1,465.3 217.8,473.6 M217.0,466.2 L223.1,470.5 M225.7,456.8 Q227.7,465.8 226.2,474.7 M225.4,466.6 L218.8,471.2 M237.6,458.5 Q236.6,467.3 231.7,474.2 M246.7,466.0 Q240.3,469.3 235.8,474.7 M252.2,472.8 Q245.6,478.7 238.3,483.6 M244.4,478.6 L236.8,476.3 M259.1,483.8 Q252.8,488.1 245.7,490.7 M251.6,487.3 L250.2,493.9 M262.4,492.4 Q257.1,495.3 251.3,496.8 M256.2,494.6 L251.7,491.6 M265.5,501.9 Q257.2,501.6 250.0,505.1 M257.2,504.3 L251.5,500.1 M268.4,513.5 Q263.9,517.2 258.6,516.9 M262.8,514.6 L259.3,511.6 M269.9,525.0 Q264.7,525.2 259.4,525.6 M264.1,525.3 L261.5,529.3 M270.1,536.9 Q263.0,538.9 256.0,537.5 M262.4,536.6 L258.4,541.6 M269.3,547.5 Q262.4,545.5 255.3,545.2 M268.0,556.4 Q261.3,555.0 254.6,553.6 M260.6,554.9 L256.0,558.9 M264.9,566.9 Q256.9,563.9 249.1,560.6 M256.2,563.4 L254.3,556.0 M260.9,575.3 Q253.7,570.3 245.9,566.6 M252.5,570.7 L245.4,574.0 M254.8,585.4 Q246.4,582.5 240.0,576.8 M247.0,580.1 L239.8,582.6 M248.0,593.6 Q243.9,586.0 237.0,581.3 M241.0,600.9 Q235.7,597.3 231.4,592.6 M233.3,609.5 Q229.0,604.8 224.2,600.8 M227.2,615.8 Q223.1,612.7 219.9,608.7 M223.4,611.7 L218.8,612.2 M218.2,623.0 Q214.6,616.5 210.3,610.4 M209.9,627.5 Q207.5,619.4 203.4,612.0 M206.0,619.1 L198.6,617.5 M198.1,631.9 Q197.5,626.2 195.4,620.8 M196.3,625.9 L191.5,624.1 M186.3,634.7 Q182.5,629.1 182.8,622.9 M174.3,636.2 Q171.7,629.7 172.2,622.9 M162.0,636.5 Q165.0,628.0 164.1,619.3 M162.4,627.0 L168.9,622.6 M151.0,635.6 Q150.9,627.3 152.6,619.4 M139.1,633.3 Q138.9,627.3 141.0,621.7 M140.6,627.1 L137.2,623.0 M127.6,629.4 Q128.4,623.7 131.3,619.0 M118.2,624.0 Q119.5,618.2 123.6,614.2 M121.7,619.0 L126.7,618.8 M111.3,618.8 Q115.7,611.0 121.9,604.6 M117.4,611.2 L125.4,611.5 M104.4,612.7 Q108.6,609.2 112.0,604.9 M97.4,605.4 Q105.5,601.5 111.5,595.0 M91.8,598.3 Q97.8,592.9 104.4,588.4 M98.9,593.0 L98.9,585.8 M85.8,590.2 Q92.4,586.5 98.2,581.6 M92.5,585.3 L98.9,587.2 M80.4,582.9 Q87.7,578.9 94.1,573.6 M87.8,577.6 L94.9,579.8 M73.8,573.0 Q82.3,569.9 89.6,564.5 M82.2,567.9 L83.1,559.9 M69.2,564.3 Q75.8,560.7 82.6,557.7 M64.8,553.7 Q73.2,552.9 80.7,549.4 M62.1,543.3 Q69.9,541.2 77.9,540.3 M70.9,541.9 L74.2,535.5 M61.3,533.1 Q67.7,531.5 74.1,532.2 M61.6,522.8 Q67.1,524.9 72.7,524.4 M62.7,512.4 Q69.3,511.4 75.5,513.2 M64.6,502.6 Q73.8,502.0 82.2,505.2 M67.4,491.7 Q74.8,493.4 81.9,495.8 M70.2,483.3 Q78.8,484.5 86.6,488.2 M75.2,471.7 Q82.3,474.5 88.7,478.5 M82.5,475.7 L88.7,472.9 M82.4,462.5 Q88.7,468.8 93.6,476.2 M92.5,457.8 Q92.5,466.7 96.1,474.6 M95.1,466.9 L90.5,473.1 M101.1,457.8 Q101.5,464.4 99.6,470.6 M111.4,457.9 Q112.5,464.7 112.8,471.7 M112.0,465.5 L107.4,469.6 M122.9,456.4 Q122.2,463.3 123.5,470.0 M132.7,451.4 Q137.8,455.2 143.3,458.0 M135.7,440.8 Q144.0,443.5 152.6,444.2 M137.9,429.8 Q146.1,430.2 153.3,433.5 M140.9,421.6 Q146.0,426.8 152.7,427.9 M147.7,424.3 L149.2,430.1 M146.1,410.0 Q151.0,411.5 155.3,414.3 M151.2,401.8 Q154.4,406.4 159.2,408.9" fill="none" stroke="#5c5c5c" stroke-width="3.8" stroke-linecap="round" stroke-linejoin="round" filter="url(#blur1)"/>
</g>
<clipPath id="clip2_0"><path d="M404.8,83.5 C411.7,83.5 416.9,80.9 425.6,81.7 C434.3,82.5 448.1,85.0 456.8,88.2 C465.5,91.5 472.4,95.6 477.6,101.2 C482.8,106.8 486.3,114.2 488.0,122.0 C489.7,129.8 487.6,141.1 488.0,148.0 C488.4,154.9 488.4,158.4 490.6,163.6 C492.8,168.8 497.1,172.3 501.0,179.2 C504.9,186.1 511.2,195.7 514.0,205.2 C516.8,214.7 517.5,226.0 517.9,236.4 C518.3,246.8 518.6,257.2 516.6,267.6 C514.7,278.0 511.4,288.8 506.2,298.8 C501.0,308.8 493.6,319.2 485.4,327.4 C477.2,335.6 466.8,343.4 456.8,348.2 C446.8,353.0 434.1,355.5 425.6,356.0 C417.2,356.5 413.0,351.1 406.1,351.3 C399.2,351.5 392.0,357.2 384.0,357.3 C376.0,357.4 366.7,356.2 358.0,352.1 C349.3,348.0 339.8,340.6 332.0,332.6 C324.2,324.6 316.8,314.4 311.2,304.0 C305.6,293.6 301.0,281.5 298.2,270.2 C295.4,258.9 294.5,247.2 294.3,236.4 C294.1,225.6 295.0,214.7 296.9,205.2 C298.9,195.7 302.3,186.1 306.0,179.2 C309.7,172.3 316.0,168.8 319.0,163.6 C322.0,158.4 323.8,154.1 324.2,148.0 C324.6,141.9 320.3,134.6 321.6,127.2 C322.9,119.8 325.9,110.3 332.0,103.8 C338.1,97.3 349.3,91.9 358.0,88.2 C366.7,84.5 376.2,82.5 384.0,81.7 C391.8,80.9 397.9,83.5 404.8,83.5 Z"/></clipPath>
<g clip-path="url(#clip2_0)">
<path d="M404.8,83.5 C411.7,83.5 416.9,80.9 425.6,81.7 C434.3,82.5 448.1,85.0 456.8,88.2 C465.5,91.5 472.4,95.6 477.6,101.2 C482.8,106.8 486.3,114.2 488.0,122.0 C489.7,129.8 487.6,141.1 488.0,148.0 C488.4,154.9 488.4,158.4 490.6,163.6 C492.8,168.8 497.1,172.3 501.0,179.2 C504.9,186.1 511.2,195.7 514.0,205.2 C516.8,214.7 517.5,226.0 517.9,236.4 C518.3,246.8 518.6,257.2 516.6,267.6 C514.7,278.0 511.4,288.8 506.2,298.8 C501.0,308.8 493.6,319.2 485.4,327.4 C477.2,335.6 466.8,343.4 456.8,348.2 C446.8,353.0 434.1,355.5 425.6,356.0 C417.2,356.5 413.0,351.1 406.1,351.3 C399.2,351.5 392.0,357.2 384.0,357.3 C376.0,357.4 366.7,356.2 358.0,352.1 C349.3,348.0 339.8,340.6 332.0,332.6 C324.2,324.6 316.8,314.4 311.2,304.0 C305.6,293.6 301.0,281.5 298.2,270.2 C295.4,258.9 294.5,247.2 294.3,236.4 C294.1,225.6 295.0,214.7 296.9,205.2 C298.9,195.7 302.3,186.1 306.0,179.2 C309.7,172.3 316.0,168.8 319.0,163.6 C322.0,158.4 323.8,154.1 324.2,148.0 C324.6,141.9 320.3,134.6 321.6,127.2 C322.9,119.8 325.9,110.3 332.0,103.8 C338.1,97.3 349.3,91.9 358.0,88.2 C366.7,84.5 376.2,82.5 384.0,81.7 C391.8,80.9 397.9,83.5 404.8,83.5 Z" fill="#a2a2a2"/>
<path d="M405.0,106.3 C410.6,106.3 414.8,104.2 421.7,104.8 C428.6,105.5 439.7,107.5 446.6,110.2 C453.6,112.8 459.1,116.2 463.3,120.8 C467.5,125.5 470.2,131.5 471.6,137.9 C473.0,144.3 471.3,153.5 471.6,159.2 C472.0,164.9 472.0,167.7 473.7,172.0 C475.4,176.3 478.9,179.1 482.0,184.8 C485.1,190.5 490.2,198.3 492.4,206.1 C494.7,213.9 495.2,223.2 495.5,231.7 C495.9,240.2 496.1,248.8 494.5,257.3 C492.9,265.8 490.3,274.7 486.2,282.9 C482.0,291.0 476.1,299.6 469.5,306.3 C462.9,313.1 454.6,319.5 446.6,323.4 C438.7,327.3 428.4,329.4 421.7,329.8 C414.9,330.2 411.6,325.8 406.1,325.9 C400.5,326.1 394.8,330.7 388.4,330.8 C382.0,331.0 374.5,330.0 367.6,326.6 C360.7,323.2 353.0,317.2 346.8,310.6 C340.6,304.0 334.7,295.7 330.2,287.1 C325.7,278.6 322.0,268.7 319.8,259.4 C317.5,250.2 316.8,240.6 316.6,231.7 C316.5,222.8 317.2,213.9 318.7,206.1 C320.3,198.3 323.1,190.5 326.0,184.8 C329.0,179.1 334.0,176.3 336.4,172.0 C338.8,167.7 340.2,164.2 340.6,159.2 C340.9,154.2 337.4,148.2 338.5,142.2 C339.5,136.1 342.0,128.3 346.8,123.0 C351.7,117.6 360.7,113.2 367.6,110.2 C374.5,107.2 382.2,105.5 388.4,104.8 C394.6,104.2 399.5,106.3 405.0,106.3 Z" fill="#bebebe" filter="url(#blur5)"/>
<path d="M365.8,174.0 C373.6,165.3 391.4,163.6 404.8,163.6 C418.2,163.6 438.6,165.3 446.4,174.0 C454.2,182.7 453.3,205.2 451.6,215.6 C449.9,226.0 443.8,232.1 436.0,236.4 C428.2,240.7 415.2,241.6 404.8,241.6 C394.4,241.6 381.4,240.7 373.6,236.4 C365.8,232.1 359.3,226.0 358.0,215.6 C356.7,205.2 358.0,182.7 365.8,174.0 Z" fill="#a8a8a8" filter="url(#blur4)"/>
<path d="M381.4,257.2 C385.7,248.5 397.0,252.0 404.8,252.0 C412.6,252.0 423.9,248.5 428.2,257.2 C432.5,265.9 432.1,291.9 430.8,304.0 C429.5,316.1 424.7,324.8 420.4,330.0 C416.1,335.2 410.0,335.2 404.8,335.2 C399.6,335.2 393.5,335.2 389.2,330.0 C384.9,324.8 380.1,316.1 378.8,304.0 C377.5,291.9 377.1,265.9 381.4,257.2 Z" fill="#9e9e9e" filter="url(#blur4)"/>
<polyline points="384.0,93.4 378.8,122.0 368.4,155.8 347.6,192.2" fill="none" stroke="#f4f4f4" stroke-width="9" stroke-linecap="round" stroke-linejoin="round" opacity="1.0" filter="url(#blur2)"/>
<polyline points="425.6,93.4 430.8,122.0 441.2,155.8 462.0,192.2" fill="none" stroke="#f4f4f4" stroke-width="9" stroke-linecap="round" stroke-linejoin="round" opacity="1.0" filter="url(#blur2)"/>
<polyline points="391.8,90.8 391.8,155.8" fill="none" stroke="#f4f4f4" stroke-width="9" stroke-linecap="round" stroke-linejoin="round" opacity="1.0" filter="url(#blur2)"/>
<polyline points="419.1,90.8 419.1,155.8" fill="none" stroke="#f4f4f4" stroke-width="9" stroke-linecap="round" stroke-linejoin="round" opacity="1.0" filter="url(#blur2)"/>
<polyline points="358.0,192.2 337.2,215.6 319.0,252.0" fill="none" stroke="#f4f4f4" stroke-width="9" stroke-linecap="round" stroke-linejoin="round" opacity="1.0" filter="url(#blur2)"/>
<polyline points="451.6,192.2 472.4,215.6 495.8,252.0" fill="none" stroke="#f4f4f4" stroke-width="9" stroke-linecap="round" stroke-linejoin="round" opacity="1.0" filter="url(#blur2)"/>
<polyline points="352.8,194.8 358.0,231.2 365.8,252.0" fill="none" stroke="#f4f4f4" stroke-width="9" stroke-linecap="round" stroke-linejoin="round" opacity="1.0" filter="url(#blur2)"/>
<polyline points="456.8,194.8 451.6,231.2 443.8,252.0" fill="none" stroke="#f4f4f4" stroke-width="9" stroke-linecap="round" stroke-linejoin="round" opacity="1.0" filter="url(#blur2)"/>
<polyline points="358.0,257.2 363.2,291.0 365.8,319.6" fill="none" stroke="#f4f4f4" stroke-width="9" stroke-linecap="round" stroke-linejoin="round" opacity="1.0" filter="url(#blur2)"/>
<polyline points="449.0,257.2 446.4,291.0 441.2,319.6" fill="none" stroke="#f4f4f4" stroke-width="9" stroke-linecap="round" stroke-linejoin="round" opacity="1.0" filter="url(#blur2)"/>
<polyline points="345.0,122.0 358.0,137.6" fill="none" stroke="#f4f4f4" stroke-width="9" stroke-linecap="round" stroke-linejoin="round" opacity="1.0" filter="url(#blur2)"/>
<polyline points="464.6,122.0 451.6,137.6" fill="none" stroke="#f4f4f4" stroke-width="9" stroke-linecap="round" stroke-linejoin="round" opacity="1.0" filter="url(#blur2)"/>
<polyline points="313.8,226.0 337.2,236.4" fill="none" stroke="#f4f4f4" stroke-width="9" stroke-linecap="round" stroke-linejoin="round" opacity="1.0" filter="url(#blur2)"/>
<polyline points="495.8,226.0 472.4,236.4" fill="none" stroke="#f4f4f4" stroke-width="9" stroke-linecap="round" stroke-linejoin="round" opacity="1.0" filter="url(#blur2)"/>
<polyline points="368.4,215.6 384.0,200.0 404.8,194.8 425.6,200.0 441.2,215.6" fill="none" stroke="#e0e0e0" stroke-width="6" stroke-linecap="round" stroke-linejoin="round" opacity="1.0" filter="url(#blur2)"/>
<polyline points="405.3,84.3 405.3,215.6" fill="none" stroke="#2a2a2a" stroke-width="3" stroke-linecap="round" stroke-linejoin="round" opacity="1.0" filter="url(#blur1)"/>
<polyline points="405.3,155.8 405.3,200.0" fill="none" stroke="#000" stroke-width="5" stroke-linecap="round" stroke-linejoin="round" opacity="1.0" filter="url(#blur1)"/>
<polyline points="365.8,218.2 373.6,233.8 386.6,249.4 394.4,253.3 404.8,255.1 415.2,253.3 425.6,249.4 436.0,231.2 446.4,215.6" fill="none" stroke="#000" stroke-width="4.5" stroke-linecap="round" stroke-linejoin="round" opacity="1.0" filter="url(#blur1)"/>
<polyline points="384.0,249.4 380.1,267.6 377.5,278.0" fill="none" stroke="#000" stroke-width="4.5" stroke-linecap="round" stroke-linejoin="round" opacity="1.0" filter="url(#blur1)"/>
<polyline points="425.6,249.4 429.5,267.6 430.8,278.0" fill="none" stroke="#000" stroke-width="4.5" stroke-linecap="round" stroke-linejoin="round" opacity="1.0" filter="url(#blur1)"/>
<polyline points="335.9,158.4 338.5,179.2 342.4,194.8" fill="none" stroke="#000" stroke-width="7" stroke-linecap="round" stroke-linejoin="round" opacity="1.0" filter="url(#blur1)"/>
<polyline points="475.0,158.4 477.6,179.2 473.7,192.2" fill="none" stroke="#000" stroke-width="7" stroke-linecap="round" stroke-linejoin="round" opacity="1.0" filter="url(#blur1)"/>
<path d="M405.9,86.0 Q407.1,95.2 406.8,104.4 M415.4,84.7 Q417.8,90.9 418.2,97.5 M424.2,84.1 Q422.9,93.1 422.6,102.3 M432.4,85.0 Q433.9,91.7 431.9,97.8 M441.3,86.6 Q440.1,96.4 437.7,105.9 M439.1,97.2 L445.0,103.8 M449.7,88.6 Q445.1,96.6 443.9,105.5 M447.1,98.0 L439.6,101.0 M458.1,91.4 Q453.6,100.5 450.1,110.0 M468.5,96.8 Q460.6,104.0 455.8,113.2 M476.9,104.2 Q470.9,110.2 464.1,115.3 M482.7,113.7 Q474.0,117.4 465.3,121.3 M485.5,122.1 Q476.9,124.0 468.4,126.1 M476.1,124.3 L473.0,131.5 M486.2,129.9 Q476.3,127.5 466.4,128.8 M475.3,130.0 L469.9,122.9 M485.8,138.4 Q478.3,139.1 470.8,138.0 M485.5,148.7 Q474.6,147.3 463.8,149.0 M486.4,158.3 Q478.7,159.2 471.1,160.8 M489.9,167.7 Q483.6,171.4 477.4,175.5 M496.0,176.1 Q489.1,180.8 482.2,185.7 M488.4,181.4 L488.2,188.9 M500.2,182.7 Q493.5,189.7 484.9,193.2 M504.9,191.0 Q498.8,197.3 490.8,200.3 M496.8,195.4 L495.8,202.9 M509.5,200.0 Q504.8,202.5 499.9,204.4 M512.1,207.7 Q506.2,207.4 501.1,209.8 M506.2,209.3 L502.2,206.3 M514.0,217.8 Q507.7,221.2 500.9,220.8 M514.9,226.7 Q509.5,224.9 504.4,226.3 M509.2,227.1 L506.1,223.5 M515.4,235.8 Q507.3,234.2 499.3,235.5 M506.6,236.1 L502.5,242.1 M515.7,245.0 Q506.1,244.4 496.5,244.9 M515.5,255.5 Q504.8,256.5 494.2,255.2 M514.2,266.9 Q507.2,265.0 500.1,264.1 M511.9,276.9 Q503.0,273.2 493.5,271.2 M508.7,286.9 Q501.8,287.0 496.2,283.5 M505.1,295.5 Q500.2,290.5 493.7,288.7 M498.6,292.3 L497.4,286.5 M500.9,303.2 Q495.2,297.2 487.8,294.2 M496.6,309.9 Q491.2,307.8 486.9,304.1 M490.8,317.7 Q486.5,310.9 479.8,306.9 M485.1,324.1 Q479.7,322.4 476.8,318.1 M476.7,332.0 Q468.0,326.4 462.8,317.8 M467.6,339.0 Q462.0,331.7 456.9,323.9 M457.3,345.2 Q456.5,337.8 452.3,332.2 M446.1,349.6 Q442.6,341.5 440.3,332.9 M434.6,352.4 Q431.7,347.4 431.7,341.9 M433.6,346.5 L436.9,343.0 M423.6,353.5 Q426.8,343.1 426.2,332.5 M415.4,351.1 Q418.4,346.1 420.4,340.6 M406.8,348.8 Q405.3,341.1 406.2,333.4 M395.9,351.5 Q390.7,346.3 389.5,339.4 M393.1,344.6 L396.3,339.4 M386.5,354.6 Q383.9,345.1 383.2,335.3 M385.1,343.9 L377.4,339.6 M375.1,354.4 Q376.8,344.4 377.7,334.3 M366.2,352.5 Q371.9,343.1 373.5,332.6 M369.5,341.3 L363.7,333.7 M355.4,347.9 Q357.7,339.8 362.6,333.3 M345.6,341.4 Q349.3,337.4 352.4,333.0 M337.0,334.1 Q341.4,327.8 346.9,322.7 M330.3,327.1 Q336.8,325.1 340.6,320.0 M324.1,319.4 Q329.9,315.0 335.8,310.7 M330.5,314.6 L336.9,316.5 M317.6,309.9 Q321.7,304.9 327.5,302.5 M323.3,306.4 L328.5,308.4 M312.6,301.4 Q321.8,299.6 329.1,294.2 M321.4,296.8 L322.6,288.8 M307.8,291.2 Q315.4,289.7 322.0,286.0 M304.1,281.2 Q313.4,280.1 321.8,276.2 M300.9,270.8 Q307.9,268.4 315.0,266.8 M298.7,259.9 Q305.7,258.7 312.7,257.6 M297.6,250.7 Q303.5,249.4 309.6,249.3 M304.2,250.2 L307.1,245.5 M296.9,240.7 Q303.9,243.1 310.6,241.5 M304.4,240.4 L308.3,245.2 M296.8,229.8 Q304.7,229.2 312.6,229.8 M297.5,217.7 Q303.7,216.5 309.7,218.1 M304.2,218.4 L307.0,223.1 M299.4,205.6 Q309.1,209.4 319.3,210.7 M302.3,194.5 Q311.1,195.3 318.9,198.8 M305.3,186.4 Q312.2,186.9 317.7,190.5 M309.4,178.3 Q317.8,180.4 323.9,186.0 M316.9,183.2 L317.4,190.5 M315.3,171.8 Q321.2,180.5 329.2,187.2 M323.3,179.9 L321.9,189.1 M321.2,164.8 Q329.2,171.2 338.3,175.5 M325.7,154.4 Q331.6,154.2 336.9,156.4 M326.1,141.9 Q336.0,142.4 345.1,139.2 M323.9,130.9 Q330.3,130.2 336.8,130.3 M331.0,130.7 L334.3,126.0 M325.1,122.9 Q330.2,125.0 335.6,126.0 M328.4,113.8 Q334.2,114.7 339.1,117.9 M334.6,104.7 Q339.5,111.8 346.1,117.2 M341.0,99.7 Q344.6,107.3 349.6,114.0 M350.2,94.5 Q356.9,102.7 360.5,112.4 M355.3,104.7 L364.5,106.3 M360.8,89.8 Q362.8,95.4 365.0,101.0 M368.6,87.2 Q370.8,93.9 372.7,100.8 M370.8,94.7 L366.9,99.8 M378.4,85.0 Q379.6,91.1 380.5,97.2 M389.0,84.1 Q386.4,94.6 386.8,105.2 M388.3,95.8 L380.4,101.1 M397.5,85.3 Q395.3,95.9 393.8,106.6 M395.5,97.0 L387.0,101.5" fill="none" stroke="#5c5c5c" stroke-width="4.0" stroke-linecap="round" stroke-linejoin="round" filter="url(#blur1)"/>
</g>
<clipPath id="clip2_297"><path d="M404.8,380.8 C411.7,380.8 416.9,378.2 425.6,379.0 C434.3,379.8 448.1,382.3 456.8,385.5 C465.5,388.8 472.4,392.9 477.6,398.5 C482.8,404.1 486.3,411.5 488.0,419.3 C489.7,427.1 487.6,438.4 488.0,445.3 C488.4,452.2 488.4,455.7 490.6,460.9 C492.8,466.1 497.1,469.6 501.0,476.5 C504.9,483.4 511.2,493.0 514.0,502.5 C516.8,512.0 517.5,523.3 517.9,533.7 C518.3,544.1 518.6,554.5 516.6,564.9 C514.7,575.3 511.4,586.1 506.2,596.1 C501.0,606.1 493.6,616.5 485.4,624.7 C477.2,632.9 466.8,640.7 456.8,645.5 C446.8,650.3 434.1,652.8 425.6,653.3 C417.2,653.8 413.0,648.4 406.1,648.6 C399.2,648.8 392.0,654.5 384.0,654.6 C376.0,654.7 366.7,653.5 358.0,649.4 C349.3,645.3 339.8,637.9 332.0,629.9 C324.2,621.9 316.8,611.7 311.2,601.3 C305.6,590.9 301.0,578.8 298.2,567.5 C295.4,556.2 294.5,544.5 294.3,533.7 C294.1,522.9 295.0,512.0 296.9,502.5 C298.9,493.0 302.3,483.4 306.0,476.5 C309.7,469.6 316.0,466.1 319.0,460.9 C322.0,455.7 323.8,451.4 324.2,445.3 C324.6,439.2 320.3,431.9 321.6,424.5 C322.9,417.1 325.9,407.6 332.0,401.1 C338.1,394.6 349.3,389.2 358.0,385.5 C366.7,381.8 376.2,379.8 384.0,379.0 C391.8,378.2 397.9,380.8 404.8,380.8 Z"/></clipPath>
<g clip-path="url(#clip2_297)">
<path d="M404.8,380.8 C411.7,380.8 416.9,378.2 425.6,379.0 C434.3,379.8 448.1,382.3 456.8,385.5 C465.5,388.8 472.4,392.9 477.6,398.5 C482.8,404.1 486.3,411.5 488.0,419.3 C489.7,427.1 487.6,438.4 488.0,445.3 C488.4,452.2 488.4,455.7 490.6,460.9 C492.8,466.1 497.1,469.6 501.0,476.5 C504.9,483.4 511.2,493.0 514.0,502.5 C516.8,512.0 517.5,523.3 517.9,533.7 C518.3,544.1 518.6,554.5 516.6,564.9 C514.7,575.3 511.4,586.1 506.2,596.1 C501.0,606.1 493.6,616.5 485.4,624.7 C477.2,632.9 466.8,640.7 456.8,645.5 C446.8,650.3 434.1,652.8 425.6,653.3 C417.2,653.8 413.0,648.4 406.1,648.6 C399.2,648.8 392.0,654.5 384.0,654.6 C376.0,654.7 366.7,653.5 358.0,649.4 C349.3,645.3 339.8,637.9 332.0,629.9 C324.2,621.9 316.8,611.7 311.2,601.3 C305.6,590.9 301.0,578.8 298.2,567.5 C295.4,556.2 294.5,544.5 294.3,533.7 C294.1,522.9 295.0,512.0 296.9,502.5 C298.9,493.0 302.3,483.4 306.0,476.5 C309.7,469.6 316.0,466.1 319.0,460.9 C322.0,455.7 323.8,451.4 324.2,445.3 C324.6,439.2 320.3,431.9 321.6,424.5 C322.9,417.1 325.9,407.6 332.0,401.1 C338.1,394.6 349.3,389.2 358.0,385.5 C366.7,381.8 376.2,379.8 384.0,379.0 C391.8,378.2 397.9,380.8 404.8,380.8 Z" fill="#a2a2a2"/>
<path d="M405.0,403.6 C410.6,403.6 414.8,401.5 421.7,402.1 C428.6,402.8 439.7,404.8 446.6,407.5 C453.6,410.1 459.1,413.5 463.3,418.1 C467.5,422.8 470.2,428.8 471.6,435.2 C473.0,441.6 471.3,450.8 471.6,456.5 C472.0,462.2 472.0,465.0 473.7,469.3 C475.4,473.6 478.9,476.4 482.0,482.1 C485.1,487.8 490.2,495.6 492.4,503.4 C494.7,511.2 495.2,520.5 495.5,529.0 C495.9,537.5 496.1,546.1 494.5,554.6 C492.9,563.1 490.3,572.0 486.2,580.2 C482.0,588.3 476.1,596.9 469.5,603.6 C462.9,610.4 454.6,616.8 446.6,620.7 C438.7,624.6 428.4,626.7 421.7,627.1 C414.9,627.5 411.6,623.1 406.1,623.2 C400.5,623.4 394.8,628.0 388.4,628.1 C382.0,628.3 374.5,627.3 367.6,623.9 C360.7,620.5 353.0,614.5 346.8,607.9 C340.6,601.3 334.7,593.0 330.2,584.4 C325.7,575.9 322.0,566.0 319.8,556.7 C317.5,547.5 316.8,537.9 316.6,529.0 C316.5,520.1 317.2,511.2 318.7,503.4 C320.3,495.6 323.1,487.8 326.0,482.1 C329.0,476.4 334.0,473.6 336.4,469.3 C338.8,465.0 340.2,461.5 340.6,456.5 C340.9,451.5 337.4,445.5 338.5,439.5 C339.5,433.4 342.0,425.6 346.8,420.3 C351.7,414.9 360.7,410.5 367.6,407.5 C374.5,404.5 382.2,402.8 388.4,402.1 C394.6,401.5 399.5,403.6 405.0,403.6 Z" fill="#bebebe" filter="url(#blur5)"/>
<path d="M365.8,471.3 C373.6,462.6 391.4,460.9 404.8,460.9 C418.2,460.9 438.6,462.6 446.4,471.3 C454.2,480.0 453.3,502.5 451.6,512.9 C449.9,523.3 443.8,529.4 436.0,533.7 C428.2,538.0 415.2,538.9 404.8,538.9 C394.4,538.9 381.4,538.0 373.6,533.7 C365.8,529.4 359.3,523.3 358.0,512.9 C356.7,502.5 358.0,480.0 365.8,471.3 Z" fill="#a8a8a8" filter="url(#blur4)"/>
<path d="M381.4,554.5 C385.7,545.8 397.0,549.3 404.8,549.3 C412.6,549.3 423.9,545.8 428.2,554.5 C432.5,563.2 432.1,589.2 430.8,601.3 C429.5,613.4 424.7,622.1 420.4,627.3 C416.1,632.5 410.0,632.5 404.8,632.5 C399.6,632.5 393.5,632.5 389.2,627.3 C384.9,622.1 380.1,613.4 378.8,601.3 C377.5,589.2 377.1,563.2 381.4,554.5 Z" fill="#9e9e9e" filter="url(#blur4)"/>
<polyline points="384.0,390.7 378.8,419.3 368.4,453.1 347.6,489.5" fill="none" stroke="#f4f4f4" stroke-width="9" stroke-linecap="round" stroke-linejoin="round" opacity="1.0" filter="url(#blur2)"/>
<polyline points="425.6,390.7 430.8,419.3 441.2,453.1 462.0,489.5" fill="none" stroke="#f4f4f4" stroke-width="9" stroke-linecap="round" stroke-linejoin="round" opacity="1.0" filter="url(#blur2)"/>
<polyline points="391.8,388.1 391.8,453.1" fill="none" stroke="#f4f4f4" stroke-width="9" stroke-linecap="round" stroke-linejoin="round" opacity="1.0" filter="url(#blur2)"/>
<polyline points="419.1,388.1 419.1,453.1" fill="none" stroke="#f4f4f4" stroke-width="9" stroke-linecap="round" stroke-linejoin="round" opacity="1.0" filter="url(#blur2)"/>
<polyline points="358.0,489.5 337.2,512.9 319.0,549.3" fill="none" stroke="#f4f4f4" stroke-width="9" stroke-linecap="round" stroke-linejoin="round" opacity="1.0" filter="url(#blur2)"/>
<polyline points="451.6,489.5 472.4,512.9 495.8,549.3" fill="none" stroke="#f4f4f4" stroke-width="9" stroke-linecap="round" stroke-linejoin="round" opacity="1.0" filter="url(#blur2)"/>
<polyline points="352.8,492.1 358.0,528.5 365.8,549.3" fill="none" stroke="#f4f4f4" stroke-width="9" stroke-linecap="round" stroke-linejoin="round" opacity="1.0" filter="url(#blur2)"/>
<polyline points="456.8,492.1 451.6,528.5 443.8,549.3" fill="none" stroke="#f4f4f4" stroke-width="9" stroke-linecap="round" stroke-linejoin="round" opacity="1.0" filter="url(#blur2)"/>
<polyline points="358.0,554.5 363.2,588.3 365.8,616.9" fill="none" stroke="#f4f4f4" stroke-width="9" stroke-linecap="round" stroke-linejoin="round" opacity="1.0" filter="url(#blur2)"/>
<polyline points="449.0,554.5 446.4,588.3 441.2,616.9" fill="none" stroke="#f4f4f4" stroke-width="9" stroke-linecap="round" stroke-linejoin="round" opacity="1.0" filter="url(#blur2)"/>
<polyline points="345.0,419.3 358.0,434.9" fill="none" stroke="#f4f4f4" stroke-width="9" stroke-linecap="round" stroke-linejoin="round" opacity="1.0" filter="url(#blur2)"/>
<polyline points="464.6,419.3 451.6,434.9" fill="none" stroke="#f4f4f4" stroke-width="9" stroke-linecap="round" stroke-linejoin="round" opacity="1.0" filter="url(#blur2)"/>
<polyline points="313.8,523.3 337.2,533.7" fill="none" stroke="#f4f4f4" stroke-width="9" stroke-linecap="round" stroke-linejoin="round" opacity="1.0" filter="url(#blur2)"/>
<polyline points="495.8,523.3 472.4,533.7" fill="none" stroke="#f4f4f4" stroke-width="9" stroke-linecap="round" stroke-linejoin="round" opacity="1.0" filter="url(#blur2)"/>
<polyline points="368.4,512.9 384.0,497.3 404.8,492.1 425.6,497.3 441.2,512.9" fill="none" stroke="#e0e0e0" stroke-width="6" stroke-linecap="round" stroke-linejoin="round" opacity="1.0" filter="url(#blur2)"/>
<polyline points="405.3,381.6 405.3,512.9" fill="none" stroke="#2a2a2a" stroke-width="3" stroke-linecap="round" stroke-linejoin="round" opacity="1.0" filter="url(#blur1)"/>
<polyline points="405.3,453.1 405.3,497.3" fill="none" stroke="#000" stroke-width="5" stroke-linecap="round" stroke-linejoin="round" opacity="1.0" filter="url(#blur1)"/>
<polyline points="365.8,515.5 373.6,531.1 386.6,546.7 394.4,550.6 404.8,552.4 415.2,550.6 425.6,546.7 436.0,528.5 446.4,512.9" fill="none" stroke="#000" stroke-width="4.5" stroke-linecap="round" stroke-linejoin="round" opacity="1.0" filter="url(#blur1)"/>
<polyline points="384.0,546.7 380.1,564.9 377.5,575.3" fill="none" stroke="#000" stroke-width="4.5" stroke-linecap="round" stroke-linejoin="round" opacity="1.0" filter="url(#blur1)"/>
<polyline points="425.6,546.7 429.5,564.9 430.8,575.3" fill="none" stroke="#000" stroke-width="4.5" stroke-linecap="round" stroke-linejoin="round" opacity="1.0" filter="url(#blur1)"/>
<polyline points="335.9,455.7 338.5,476.5 342.4,492.1" fill="none" stroke="#000" stroke-width="7" stroke-linecap="round" stroke-linejoin="round" opacity="1.0" filter="url(#blur1)"/>
<polyline points="475.0,455.7 477.6,476.5 473.7,489.5" fill="none" stroke="#000" stroke-width="7" stroke-linecap="round" stroke-linejoin="round" opacity="1.0" filter="url(#blur1)"/>
<path d="M413.4,382.4 Q412.0,389.3 414.4,395.5 M425.1,381.5 Q425.0,387.4 424.4,393.3 M433.8,382.6 Q431.6,389.2 431.1,396.2 M444.2,384.5 Q443.4,393.9 440.8,403.0 M442.0,394.6 L434.3,398.1 M454.2,387.2 Q450.2,395.0 448.2,403.5 M451.3,396.3 L455.8,402.6 M464.4,391.6 Q458.2,400.2 454.0,409.9 M459.0,401.8 L449.7,403.3 M472.5,397.1 Q465.3,402.0 460.8,409.3 M466.6,404.2 L459.0,403.8 M479.4,404.9 Q474.8,410.3 468.6,413.1 M483.3,412.4 Q479.0,415.9 473.7,417.1 M485.9,421.7 Q476.9,420.2 468.3,422.6 M476.3,422.9 L470.8,417.3 M486.0,433.2 Q479.0,431.5 471.9,431.7 M485.5,444.9 Q477.2,447.5 468.7,446.7 M476.2,445.3 L471.5,439.4 M486.6,456.7 Q482.0,459.6 476.7,459.8 M491.8,467.7 Q487.0,473.3 480.7,476.8 M497.0,474.8 Q487.6,479.1 479.5,485.5 M502.6,484.2 Q497.9,489.2 491.7,491.7 M506.9,492.0 Q497.4,495.3 488.9,500.4 M511.3,502.2 Q506.6,504.7 501.4,505.8 M513.6,512.5 Q506.9,514.6 500.0,515.1 M514.6,520.6 Q507.5,520.0 500.6,521.2 M507.0,521.2 L502.8,516.5 M515.3,530.4 Q510.0,532.7 504.6,531.9 M509.4,530.7 L506.7,534.7 M515.7,542.6 Q509.5,541.3 503.4,542.1 M515.6,550.7 Q505.9,552.9 496.3,551.3 M514.8,560.7 Q506.0,558.6 497.0,557.9 M505.0,559.4 L499.3,565.2 M512.5,572.2 Q505.8,573.2 500.1,570.5 M509.9,581.0 Q505.4,576.8 499.8,576.2 M506.6,589.6 Q498.8,586.8 491.4,583.1 M498.3,585.9 L491.8,589.4 M502.2,598.2 Q495.7,594.8 489.2,591.1 M497.9,605.3 Q490.4,596.9 480.5,592.2 M487.9,598.8 L487.3,589.0 M492.9,612.3 Q486.5,609.5 481.7,604.8 M485.6,620.9 Q477.9,614.1 470.5,607.0 M477.4,613.2 L478.4,604.0 M479.9,626.5 Q472.0,621.2 466.6,613.6 M473.0,619.0 L474.6,610.8 M472.7,632.5 Q471.8,626.9 467.6,623.7 M465.9,637.4 Q464.4,630.7 459.9,626.1 M455.5,643.4 Q453.6,633.1 448.2,624.3 M450.8,633.2 L455.2,625.2 M446.6,646.8 Q446.3,636.8 442.0,628.0 M443.4,636.7 L435.2,633.8 M435.9,649.4 Q436.3,643.5 434.6,638.0 M426.0,650.8 Q423.4,640.9 423.6,630.8 M417.1,649.1 Q419.9,640.6 423.7,632.5 M406.9,646.1 Q407.6,639.1 407.4,632.1 M397.8,648.1 Q394.6,637.7 390.6,627.6 M387.8,651.6 Q385.8,645.6 384.9,639.5 M379.9,652.1 Q382.2,644.3 381.5,636.5 M368.2,650.4 Q369.3,640.1 372.6,630.4 M357.7,646.5 Q363.0,642.1 364.5,635.8 M360.8,640.3 L358.2,635.2 M347.7,640.3 Q351.4,632.9 356.9,626.7 M339.2,633.3 Q345.5,626.2 351.9,619.2 M346.2,625.5 L344.5,617.1 M331.5,625.8 Q334.8,620.3 339.9,616.9 M336.5,621.2 L341.9,622.2 M324.9,617.8 Q330.8,615.0 335.5,610.5 M319.9,610.8 Q322.8,605.3 328.1,603.5 M324.8,607.5 L325.1,602.6 M314.7,602.4 Q322.3,595.2 331.7,591.2 M309.3,591.9 Q314.9,586.2 322.2,584.6 M304.9,580.9 Q313.1,579.3 320.6,575.9 M313.4,577.9 L315.6,570.8 M302.3,572.9 Q307.9,572.6 313.1,570.4 M308.1,571.2 L312.1,574.1 M299.8,563.5 Q304.6,560.0 310.1,560.0 M298.2,553.6 Q308.0,555.1 317.3,552.5 M297.3,545.3 Q306.0,545.8 314.5,544.6 M296.8,535.2 Q306.9,532.1 317.0,533.3 M296.8,525.5 Q303.4,528.1 310.1,527.2 M304.2,525.8 L307.6,530.7 M297.4,516.5 Q304.0,515.6 310.3,516.9 M298.5,507.8 Q307.4,509.7 316.4,510.9 M301.1,495.9 Q310.3,500.6 320.3,502.5 M304.7,485.3 Q314.4,489.2 324.1,493.1 M315.4,489.6 L323.4,484.7 M308.9,476.5 Q317.3,478.6 323.4,484.3 M313.7,470.6 Q319.6,475.8 324.9,481.5 M320.2,463.7 Q326.9,465.5 331.4,470.4 M324.9,454.4 Q332.4,454.3 338.5,458.0 M326.4,440.9 Q335.6,438.7 345.0,437.4 M324.1,430.3 Q332.9,430.1 341.5,428.3 M333.6,429.0 L337.4,422.1 M324.6,422.2 Q333.2,424.0 341.8,426.1 M334.1,424.4 L340.2,419.3 M327.1,414.1 Q334.6,415.9 341.6,419.2 M332.6,404.3 Q338.6,410.8 345.9,415.6 M340.8,397.1 Q343.4,402.1 346.7,406.6 M350.3,391.8 Q354.8,399.9 358.8,408.3 M358.6,388.0 Q363.0,395.3 365.8,403.3 M362.3,396.5 L369.7,398.3 M367.0,384.9 Q369.5,393.9 372.1,402.8 M369.9,394.7 L364.9,401.4 M376.6,382.6 Q380.7,391.5 381.4,401.1 M386.6,381.4 Q389.6,389.0 388.4,396.8 M386.8,389.9 L381.3,394.2 M394.3,382.1 Q394.2,390.9 392.1,399.4" fill="none" stroke="#5c5c5c" stroke-width="4.0" stroke-linecap="round" stroke-linejoin="round" filter="url(#blur1)"/>
</g>
<clipPath id="clip3_0"><path d="M644.8,88.7 C653.5,88.6 662.1,88.3 670.8,90.3 C679.5,92.3 689.0,95.8 696.8,100.7 C704.6,105.5 711.5,112.4 717.6,119.4 C723.7,126.4 728.4,133.7 733.2,142.8 C738.0,151.9 742.7,163.6 746.2,174.0 C749.7,184.4 752.3,194.4 754.0,205.2 C755.7,216.0 756.6,227.7 756.6,239.0 C756.6,250.3 756.2,262.0 754.0,272.8 C751.8,283.6 748.4,294.5 743.6,304.0 C738.8,313.5 732.3,323.1 725.4,330.0 C718.5,336.9 710.7,341.9 702.0,345.6 C693.3,349.3 682.7,351.3 673.4,352.1 C664.1,352.9 656.5,350.3 646.1,350.3 C635.7,350.3 621.2,353.3 611.0,352.1 C600.8,350.9 592.8,347.1 585.0,343.0 C577.2,338.9 570.3,333.9 564.2,327.4 C558.1,320.9 552.7,312.7 548.6,304.0 C544.5,295.3 541.7,285.8 539.5,275.4 C537.3,265.0 536.0,252.9 535.6,241.6 C535.2,230.3 535.4,219.1 536.9,207.8 C538.4,196.5 541.5,184.8 544.7,174.0 C548.0,163.2 551.9,151.9 556.4,142.8 C561.0,133.7 565.9,126.3 572.0,119.4 C578.1,112.5 585.0,106.0 592.8,101.2 C600.6,96.4 610.1,92.9 618.8,90.8 C627.5,88.7 636.1,88.8 644.8,88.7 Z"/></clipPath>
<g clip-path="url(#clip3_0)">
<path d="M644.8,88.7 C653.5,88.6 662.1,88.3 670.8,90.3 C679.5,92.3 689.0,95.8 696.8,100.7 C704.6,105.5 711.5,112.4 717.6,119.4 C723.7,126.4 728.4,133.7 733.2,142.8 C738.0,151.9 742.7,163.6 746.2,174.0 C749.7,184.4 752.3,194.4 754.0,205.2 C755.7,216.0 756.6,227.7 756.6,239.0 C756.6,250.3 756.2,262.0 754.0,272.8 C751.8,283.6 748.4,294.5 743.6,304.0 C738.8,313.5 732.3,323.1 725.4,330.0 C718.5,336.9 710.7,341.9 702.0,345.6 C693.3,349.3 682.7,351.3 673.4,352.1 C664.1,352.9 656.5,350.3 646.1,350.3 C635.7,350.3 621.2,353.3 611.0,352.1 C600.8,350.9 592.8,347.1 585.0,343.0 C577.2,338.9 570.3,333.9 564.2,327.4 C558.1,320.9 552.7,312.7 548.6,304.0 C544.5,295.3 541.7,285.8 539.5,275.4 C537.3,265.0 536.0,252.9 535.6,241.6 C535.2,230.3 535.4,219.1 536.9,207.8 C538.4,196.5 541.5,184.8 544.7,174.0 C548.0,163.2 551.9,151.9 556.4,142.8 C561.0,133.7 565.9,126.3 572.0,119.4 C578.1,112.5 585.0,106.0 592.8,101.2 C600.6,96.4 610.1,92.9 618.8,90.8 C627.5,88.7 636.1,88.8 644.8,88.7 Z" fill="#acacac"/>
<path d="M644.9,116.9 C651.4,116.8 658.0,116.5 664.6,118.1 C671.2,119.7 678.4,122.5 684.4,126.3 C690.3,130.2 695.6,135.6 700.2,141.1 C704.8,146.7 708.4,152.4 712.0,159.6 C715.7,166.8 719.3,176.0 721.9,184.3 C724.6,192.5 726.5,200.4 727.8,208.9 C729.2,217.5 729.8,226.7 729.8,235.6 C729.8,244.5 729.5,253.8 727.8,262.3 C726.2,270.9 723.6,279.4 719.9,287.0 C716.3,294.5 711.4,302.0 706.1,307.5 C700.8,313.0 694.9,316.9 688.3,319.8 C681.7,322.7 673.7,324.4 666.6,325.0 C659.5,325.6 653.7,323.5 645.8,323.5 C637.9,323.5 626.9,325.9 619.2,325.0 C611.4,324.0 605.3,321.0 599.4,317.8 C593.5,314.5 588.2,310.6 583.6,305.5 C579.0,300.3 574.9,293.8 571.7,287.0 C568.6,280.1 566.5,272.6 564.8,264.4 C563.2,256.2 562.2,246.6 561.9,237.7 C561.5,228.8 561.7,219.9 562.8,211.0 C564.0,202.1 566.3,192.8 568.8,184.3 C571.2,175.7 574.2,166.8 577.7,159.6 C581.1,152.4 584.9,146.6 589.5,141.1 C594.1,135.7 599.4,130.5 605.3,126.8 C611.3,123.0 618.5,120.2 625.1,118.5 C631.7,116.9 638.3,117.0 644.9,116.9 Z" fill="#dadada" filter="url(#blur5)"/>
<path d="M644.8,124.6 C663.0,124.6 686.0,125.0 699.4,137.6 C712.8,150.2 721.9,176.6 725.4,200.0 C728.9,223.4 728.4,258.5 720.2,278.0 C712.0,297.5 688.6,310.1 676.0,317.0 C663.4,323.9 655.2,319.6 644.8,319.6 C634.4,319.6 626.2,323.9 613.6,317.0 C601.0,310.1 577.6,297.5 569.4,278.0 C561.2,258.5 560.7,223.4 564.2,200.0 C567.7,176.6 576.8,150.2 590.2,137.6 C603.6,125.0 626.6,124.6 644.8,124.6 Z" fill="#e4e4e4" filter="url(#blur5)"/>
<polyline points="645.3,89.5 645.3,179.2" fill="none" stroke="#3c3c3c" stroke-width="3" stroke-linecap="round" stroke-linejoin="round" opacity="1.0" filter="url(#blur1)"/>
<polyline points="645.3,252.0 645.3,350.8" fill="none" stroke="#3c3c3c" stroke-width="3" stroke-linecap="round" stroke-linejoin="round" opacity="1.0" filter="url(#blur1)"/>
<path d="M622.7,192.2 C624.4,191.3 626.2,199.6 626.6,205.2 C627.0,210.8 626.4,220.4 625.3,226.0 C624.2,231.6 621.8,238.1 620.1,239.0 C618.4,239.9 615.6,236.0 614.9,231.2 C614.3,226.4 614.9,216.9 616.2,210.4 C617.5,203.9 621.0,193.1 622.7,192.2 Z" fill="#000" filter="url(#blur1)"/>
<path d="M666.9,192.2 C668.6,193.1 671.9,203.9 673.4,210.4 C674.9,216.9 676.4,226.7 676.0,231.2 C675.6,235.8 672.8,238.6 670.8,237.7 C668.9,236.8 665.5,231.4 664.3,226.0 C663.1,220.6 663.1,210.8 663.5,205.2 C664.0,199.6 665.3,191.3 666.9,192.2 Z" fill="#000" filter="url(#blur1)"/>
<polyline points="629.2,272.8 642.2,283.2" fill="none" stroke="#777" stroke-width="4" stroke-linecap="round" stroke-linejoin="round" opacity="1.0" filter="url(#blur2)"/>
<polyline points="660.4,283.2 676.0,272.8" fill="none" stroke="#777" stroke-width="4" stroke-linecap="round" stroke-linejoin="round" opacity="1.0" filter="url(#blur2)"/>
<polyline points="624.0,304.0 639.6,298.8" fill="none" stroke="#777" stroke-width="4" stroke-linecap="round" stroke-linejoin="round" opacity="1.0" filter="url(#blur2)"/>
<polyline points="655.2,298.8 670.8,306.6" fill="none" stroke="#777" stroke-width="4" stroke-linecap="round" stroke-linejoin="round" opacity="1.0" filter="url(#blur2)"/>
<path d="M646.5,91.2 Q647.5,103.4 647.2,115.6 M655.4,91.2 Q657.0,104.3 655.9,117.4 M665.4,91.8 Q661.4,99.5 661.8,107.8 M675.3,94.0 Q675.1,100.9 672.4,107.0 M673.2,101.0 L667.6,103.1 M685.5,97.7 Q684.4,108.0 679.1,116.5 M694.1,101.9 Q691.5,112.0 685.4,120.0 M702.8,108.1 Q697.2,118.9 688.6,127.1 M694.4,118.1 L683.8,117.6 M708.9,113.7 Q698.6,123.7 688.5,133.9 M715.3,120.6 Q706.3,126.0 699.1,133.5 M706.7,128.1 L697.6,126.1 M720.4,126.9 Q714.8,132.4 708.3,136.6 M726.4,135.8 Q715.3,145.4 702.2,152.0 M730.4,142.9 Q720.9,148.4 711.0,153.4 M734.6,151.3 Q728.0,154.6 721.3,157.5 M727.3,154.7 L725.9,161.1 M738.6,160.7 Q730.4,163.9 722.2,167.3 M729.6,164.3 L722.8,160.3 M741.7,168.7 Q731.0,175.7 718.9,178.7 M728.9,173.4 L719.5,167.4 M745.0,178.5 Q732.4,180.8 720.5,185.5 M747.9,188.5 Q736.2,189.5 725.2,193.4 M735.6,191.7 L731.6,201.3 M750.5,199.8 Q742.0,203.0 733.0,203.9 M752.0,208.6 Q744.9,212.2 737.3,212.0 M743.8,209.8 L740.6,215.7 M753.1,218.1 Q741.1,220.3 729.0,220.9 M753.9,230.3 Q744.4,233.6 734.7,232.6 M754.1,240.8 Q740.2,240.8 726.2,240.7 M753.9,249.9 Q740.1,247.3 726.2,247.7 M738.7,249.3 L730.8,258.9 M753.2,261.2 Q742.7,262.1 732.5,260.1 M741.9,260.0 L735.6,266.9 M751.7,271.8 Q745.7,269.1 739.4,268.7 M748.9,283.2 Q738.2,277.9 726.5,275.6 M736.4,279.6 L728.0,286.0 M746.5,290.8 Q739.3,289.2 732.7,286.4 M742.7,300.0 Q728.5,296.1 715.8,288.9 M738.9,307.6 Q729.9,304.5 722.2,299.2 M732.6,317.6 Q725.4,309.8 716.4,304.8 M727.4,324.2 Q718.3,315.6 708.5,307.8 M716.9,315.4 L717.5,304.1 M721.2,330.6 Q716.2,323.0 709.6,316.9 M713.7,336.4 Q705.7,327.2 699.5,316.7 M706.6,340.7 Q703.8,333.9 700.2,327.6 M702.9,333.6 L696.4,332.5 M696.3,345.1 Q696.3,338.1 693.1,332.1 M693.9,338.2 L688.2,336.3 M686.6,347.7 Q684.8,338.9 682.9,330.2 M684.6,338.1 L689.9,332.1 M678.1,349.1 Q678.2,335.3 675.6,321.8 M667.1,349.7 Q667.6,338.2 668.2,326.8 M659.1,348.8 Q661.6,334.7 663.1,320.4 M649.2,347.9 Q647.5,336.7 649.1,325.6 M649.7,335.7 L642.0,329.3 M637.5,348.3 Q638.9,339.9 637.2,331.8 M625.1,349.5 Q622.2,336.3 622.0,322.9 M614.9,349.9 Q618.0,339.1 617.1,328.1 M606.0,348.7 Q609.6,338.6 611.5,328.1 M595.5,345.3 Q597.8,337.9 601.1,331.0 M598.8,337.5 L605.5,335.8 M587.1,341.3 Q588.5,332.0 594.0,324.9 M591.6,332.6 L599.4,331.3 M577.9,335.9 Q583.0,325.2 590.4,316.2 M570.1,329.7 Q579.1,318.2 589.3,307.9 M563.4,322.7 Q570.1,314.1 578.9,308.2 M572.3,315.2 L581.6,317.4 M558.5,316.3 Q567.6,312.0 575.4,305.8 M552.7,306.5 Q563.8,300.9 574.8,294.9 M564.8,300.1 L566.6,289.0 M548.8,298.2 Q555.2,292.8 563.1,290.8 M546.0,290.7 Q553.5,289.1 560.6,286.4 M543.6,282.2 Q553.2,279.0 563.0,277.0 M541.3,271.3 Q552.2,267.3 563.6,266.2 M553.6,269.0 L558.2,259.8 M539.5,259.5 Q548.8,257.7 558.3,256.9 M538.4,247.4 Q553.5,249.4 568.2,247.0 M554.8,246.4 L562.1,235.2 M537.9,235.5 Q550.4,237.8 562.8,236.3 M551.6,235.3 L558.2,226.2 M538.0,224.9 Q547.4,223.7 556.8,224.7 M538.8,212.6 Q546.3,213.8 553.7,214.3 M540.1,203.2 Q550.9,207.0 562.1,207.9 M552.3,205.3 L556.9,214.3 M542.0,194.1 Q550.5,193.8 558.4,196.6 M550.9,196.0 L553.9,202.8 M544.1,185.3 Q556.2,187.2 567.8,190.9 M557.1,188.7 L565.7,181.9 M546.8,175.7 Q556.5,177.9 565.9,181.0 M557.3,178.8 L560.4,187.2 M550.1,165.3 Q560.3,171.2 571.7,173.7 M553.0,156.9 Q561.9,159.4 570.3,163.0 M556.7,148.1 Q562.9,150.4 568.9,153.4 M561.0,139.4 Q571.3,141.6 579.4,147.7 M565.4,132.1 Q576.7,141.8 589.6,149.1 M570.0,125.8 Q576.1,130.1 581.9,134.9 M576.3,118.4 Q585.4,128.5 595.7,137.4 M584.7,110.3 Q590.4,116.1 595.6,122.5 M592.9,104.1 Q599.8,111.8 604.5,120.9 M599.9,100.2 Q606.1,108.1 609.7,117.5 M609.7,96.1 Q612.1,103.1 614.5,110.0 M619.4,93.2 Q622.8,103.2 624.5,113.4 M627.7,91.8 Q627.2,99.3 628.5,106.6 M635.5,91.4 Q636.9,104.6 636.8,117.9 M636.0,105.9 L626.6,113.4" fill="none" stroke="#5c5c5c" stroke-width="4.4" stroke-linecap="round" stroke-linejoin="round" filter="url(#blur1)"/>
</g>
<clipPath id="clip3_297"><path d="M644.8,386.0 C653.5,385.9 662.1,385.6 670.8,387.6 C679.5,389.6 689.0,393.1 696.8,398.0 C704.6,402.8 711.5,409.7 717.6,416.7 C723.7,423.7 728.4,431.0 733.2,440.1 C738.0,449.2 742.7,460.9 746.2,471.3 C749.7,481.7 752.3,491.7 754.0,502.5 C755.7,513.3 756.6,525.0 756.6,536.3 C756.6,547.6 756.2,559.3 754.0,570.1 C751.8,580.9 748.4,591.8 743.6,601.3 C738.8,610.8 732.3,620.4 725.4,627.3 C718.5,634.2 710.7,639.2 702.0,642.9 C693.3,646.6 682.7,648.6 673.4,649.4 C664.1,650.2 656.5,647.6 646.1,647.6 C635.7,647.6 621.2,650.6 611.0,649.4 C600.8,648.2 592.8,644.4 585.0,640.3 C577.2,636.2 570.3,631.2 564.2,624.7 C558.1,618.2 552.7,610.0 548.6,601.3 C544.5,592.6 541.7,583.1 539.5,572.7 C537.3,562.3 536.0,550.2 535.6,538.9 C535.2,527.6 535.4,516.4 536.9,505.1 C538.4,493.8 541.5,482.1 544.7,471.3 C548.0,460.5 551.9,449.2 556.4,440.1 C561.0,431.0 565.9,423.6 572.0,416.7 C578.1,409.8 585.0,403.3 592.8,398.5 C600.6,393.7 610.1,390.2 618.8,388.1 C627.5,386.0 636.1,386.1 644.8,386.0 Z"/></clipPath>
<g clip-path="url(#clip3_297)">
<path d="M644.8,386.0 C653.5,385.9 662.1,385.6 670.8,387.6 C679.5,389.6 689.0,393.1 696.8,398.0 C704.6,402.8 711.5,409.7 717.6,416.7 C723.7,423.7 728.4,431.0 733.2,440.1 C738.0,449.2 742.7,460.9 746.2,471.3 C749.7,481.7 752.3,491.7 754.0,502.5 C755.7,513.3 756.6,525.0 756.6,536.3 C756.6,547.6 756.2,559.3 754.0,570.1 C751.8,580.9 748.4,591.8 743.6,601.3 C738.8,610.8 732.3,620.4 725.4,627.3 C718.5,634.2 710.7,639.2 702.0,642.9 C693.3,646.6 682.7,648.6 673.4,649.4 C664.1,650.2 656.5,647.6 646.1,647.6 C635.7,647.6 621.2,650.6 611.0,649.4 C600.8,648.2 592.8,644.4 585.0,640.3 C577.2,636.2 570.3,631.2 564.2,624.7 C558.1,618.2 552.7,610.0 548.6,601.3 C544.5,592.6 541.7,583.1 539.5,572.7 C537.3,562.3 536.0,550.2 535.6,538.9 C535.2,527.6 535.4,516.4 536.9,505.1 C538.4,493.8 541.5,482.1 544.7,471.3 C548.0,460.5 551.9,449.2 556.4,440.1 C561.0,431.0 565.9,423.6 572.0,416.7 C578.1,409.8 585.0,403.3 592.8,398.5 C600.6,393.7 610.1,390.2 618.8,388.1 C627.5,386.0 636.1,386.1 644.8,386.0 Z" fill="#acacac"/>
<path d="M644.9,414.2 C651.4,414.1 658.0,413.8 664.6,415.4 C671.2,417.0 678.4,419.8 684.4,423.6 C690.3,427.5 695.6,432.9 700.2,438.4 C704.8,444.0 708.4,449.7 712.0,456.9 C715.7,464.1 719.3,473.3 721.9,481.6 C724.6,489.8 726.5,497.7 727.8,506.2 C729.2,514.8 729.8,524.0 729.8,532.9 C729.8,541.8 729.5,551.1 727.8,559.6 C726.2,568.2 723.6,576.7 719.9,584.3 C716.3,591.8 711.4,599.3 706.1,604.8 C700.8,610.3 694.9,614.2 688.3,617.1 C681.7,620.0 673.7,621.7 666.6,622.3 C659.5,622.9 653.7,620.8 645.8,620.8 C637.9,620.8 626.9,623.2 619.2,622.3 C611.4,621.3 605.3,618.3 599.4,615.1 C593.5,611.8 588.2,607.9 583.6,602.8 C579.0,597.6 574.9,591.1 571.7,584.3 C568.6,577.4 566.5,569.9 564.8,561.7 C563.2,553.5 562.2,543.9 561.9,535.0 C561.5,526.1 561.7,517.2 562.8,508.3 C564.0,499.4 566.3,490.1 568.8,481.6 C571.2,473.0 574.2,464.1 577.7,456.9 C581.1,449.7 584.9,443.9 589.5,438.4 C594.1,433.0 599.4,427.8 605.3,424.1 C611.3,420.3 618.5,417.5 625.1,415.8 C631.7,414.2 638.3,414.3 644.9,414.2 Z" fill="#dadada" filter="url(#blur5)"/>
<path d="M644.8,421.9 C663.0,421.9 686.0,422.3 699.4,434.9 C712.8,447.5 721.9,473.9 725.4,497.3 C728.9,520.7 728.4,555.8 720.2,575.3 C712.0,594.8 688.6,607.4 676.0,614.3 C663.4,621.2 655.2,616.9 644.8,616.9 C634.4,616.9 626.2,621.2 613.6,614.3 C601.0,607.4 577.6,594.8 569.4,575.3 C561.2,555.8 560.7,520.7 564.2,497.3 C567.7,473.9 576.8,447.5 590.2,434.9 C603.6,422.3 626.6,421.9 644.8,421.9 Z" fill="#e4e4e4" filter="url(#blur5)"/>
<polyline points="645.3,386.8 645.3,476.5" fill="none" stroke="#3c3c3c" stroke-width="3" stroke-linecap="round" stroke-linejoin="round" opacity="1.0" filter="url(#blur1)"/>
<polyline points="645.3,549.3 645.3,648.1" fill="none" stroke="#3c3c3c" stroke-width="3" stroke-linecap="round" stroke-linejoin="round" opacity="1.0" filter="url(#blur1)"/>
<path d="M622.7,489.5 C624.4,488.6 626.2,496.9 626.6,502.5 C627.0,508.1 626.4,517.7 625.3,523.3 C624.2,528.9 621.8,535.4 620.1,536.3 C618.4,537.2 615.6,533.3 614.9,528.5 C614.3,523.7 614.9,514.2 616.2,507.7 C617.5,501.2 621.0,490.4 622.7,489.5 Z" fill="#000" filter="url(#blur1)"/>
<path d="M666.9,489.5 C668.6,490.4 671.9,501.2 673.4,507.7 C674.9,514.2 676.4,524.0 676.0,528.5 C675.6,533.1 672.8,535.9 670.8,535.0 C668.9,534.1 665.5,528.7 664.3,523.3 C663.1,517.9 663.1,508.1 663.5,502.5 C664.0,496.9 665.3,488.6 666.9,489.5 Z" fill="#000" filter="url(#blur1)"/>
<polyline points="629.2,570.1 642.2,580.5" fill="none" stroke="#777" stroke-width="4" stroke-linecap="round" stroke-linejoin="round" opacity="1.0" filter="url(#blur2)"/>
<polyline points="660.4,580.5 676.0,570.1" fill="none" stroke="#777" stroke-width="4" stroke-linecap="round" stroke-linejoin="round" opacity="1.0" filter="url(#blur2)"/>
<polyline points="624.0,601.3 639.6,596.1" fill="none" stroke="#777" stroke-width="4" stroke-linecap="round" stroke-linejoin="round" opacity="1.0" filter="url(#blur2)"/>
<polyline points="655.2,596.1 670.8,603.9" fill="none" stroke="#777" stroke-width="4" stroke-linecap="round" stroke-linejoin="round" opacity="1.0" filter="url(#blur2)"/>
<path d="M651.8,388.4 Q651.2,394.9 651.5,401.3 M662.4,388.8 Q660.9,400.7 660.2,412.6 M671.5,390.3 Q666.8,402.2 664.8,414.7 M679.7,392.7 Q676.8,407.4 671.1,421.1 M674.5,408.2 L682.0,419.2 M688.3,396.2 Q681.2,404.1 678.2,413.8 M698.4,402.1 Q694.5,407.5 690.6,412.9 M694.1,408.0 L688.1,408.1 M704.7,407.1 Q698.8,412.5 693.9,418.8 M699.0,413.7 L691.8,413.2 M712.0,414.2 Q706.4,418.1 701.8,423.2 M718.4,421.6 Q713.9,427.3 707.8,431.1 M724.0,429.3 Q713.8,434.5 704.5,441.3 M713.5,436.2 L712.8,446.4 M729.5,438.5 Q718.5,443.6 708.1,449.7 M717.9,444.9 L716.3,455.6 M733.4,446.1 Q724.4,450.2 715.5,454.6 M737.4,454.9 Q731.4,458.5 724.8,460.7 M730.4,457.8 L728.8,463.8 M741.4,465.3 Q730.6,470.1 719.3,473.8 M744.1,473.0 Q732.4,478.3 720.0,481.6 M730.7,477.4 L727.0,488.3 M747.6,484.5 Q734.8,486.2 722.8,490.3 M734.1,488.1 L725.0,481.1 M750.4,496.5 Q736.4,499.1 722.4,502.0 M752.1,506.9 Q746.4,509.6 740.3,509.5 M753.3,517.6 Q744.2,520.2 734.8,520.0 M743.1,518.4 L738.6,525.5 M754.0,529.1 Q740.6,531.6 727.1,531.0 M754.1,537.9 Q744.4,539.5 734.8,538.7 M753.8,549.3 Q746.9,548.1 739.8,548.2 M753.0,560.3 Q743.8,559.1 734.5,558.1 M742.8,559.1 L738.6,551.9 M751.8,568.4 Q737.3,566.4 723.0,563.3 M736.0,565.4 L730.2,553.6 M749.9,577.0 Q744.4,574.0 738.4,573.3 M746.9,586.8 Q738.4,581.0 728.6,579.1 M743.0,596.9 Q737.1,593.7 730.9,591.1 M738.0,606.4 Q731.9,600.7 724.3,597.4 M730.2,601.9 L729.3,594.6 M732.0,615.6 Q723.3,608.0 713.8,601.6 M725.7,623.3 Q718.6,617.2 711.8,610.7 M718.6,630.1 Q712.1,620.4 704.3,611.9 M710.5,620.3 L700.1,620.9 M709.5,636.4 Q706.6,628.1 701.5,621.0 M704.8,628.1 L707.8,620.9 M699.0,641.4 Q693.3,632.4 690.6,622.2 M688.2,644.6 Q685.0,634.0 683.0,623.2 M685.5,632.8 L676.5,628.8 M678.4,646.4 Q678.6,636.9 676.8,627.6 M677.1,636.1 L683.2,630.3 M667.5,647.0 Q670.6,633.0 670.1,618.9 M657.5,645.9 Q660.6,631.2 661.9,616.3 M645.6,645.1 Q646.7,632.0 645.8,618.9 M645.4,630.7 L654.7,623.5 M635.7,645.7 Q636.6,632.3 634.3,619.2 M634.3,631.2 L643.2,623.1 M627.1,646.6 Q625.8,635.2 624.9,623.9 M617.5,647.2 Q614.9,641.2 616.0,635.0 M608.7,646.5 Q608.6,638.1 610.7,630.0 M610.2,637.5 L616.9,634.1 M599.7,644.2 Q602.9,634.3 606.3,624.5 M589.5,639.8 Q595.4,632.8 598.4,624.4 M580.0,634.5 Q587.1,624.3 593.6,613.7 M573.2,629.7 Q583.2,619.0 591.8,607.2 M583.1,617.1 L579.8,604.4 M564.9,621.7 Q573.4,611.7 583.8,603.9 M558.0,612.8 Q566.4,607.7 574.4,601.9 M552.6,603.6 Q564.1,596.9 576.1,590.9 M565.5,596.7 L567.4,584.9 M548.8,595.6 Q554.7,590.7 562.0,588.9 M556.3,592.5 L557.9,586.1 M545.7,586.8 Q559.7,583.0 573.6,578.5 M561.0,582.1 L571.6,589.8 M542.6,575.0 Q549.4,571.7 556.8,570.9 M540.3,563.0 Q552.6,563.1 564.5,560.4 M539.2,554.0 Q545.6,552.7 552.2,552.3 M546.3,553.3 L550.4,557.6 M538.4,544.1 Q552.7,544.7 566.9,543.1 M537.9,533.0 Q547.4,533.1 556.9,532.8 M538.0,523.9 Q544.4,525.3 550.9,524.9 M545.1,524.1 L548.5,528.9 M538.4,514.9 Q552.4,514.8 566.4,516.4 M539.3,505.7 Q552.0,504.9 564.3,507.6 M553.0,507.4 L558.5,517.2 M540.9,496.2 Q548.8,496.0 556.1,498.3 M549.2,497.8 L554.3,493.2 M543.5,485.0 Q553.8,484.7 563.1,488.5 M546.4,474.5 Q557.3,478.2 568.4,481.2 M549.5,464.4 Q562.3,467.8 574.8,472.2 M552.9,454.6 Q564.6,457.9 575.8,462.6 M557.6,443.3 Q562.9,448.2 569.5,450.1 M562.5,434.2 Q572.9,443.1 585.1,448.9 M575.3,441.7 L586.5,437.0 M567.5,426.5 Q576.0,434.2 585.7,440.2 M573.0,419.4 Q579.2,426.5 586.8,432.2 M579.7,412.2 Q584.9,418.3 590.9,423.8 M588.5,404.5 Q597.7,414.2 605.3,425.2 M597.4,416.1 L594.2,427.7 M597.8,398.6 Q604.8,407.4 609.1,417.7 M603.5,409.4 L599.2,418.4 M607.1,394.4 Q609.2,403.4 613.1,411.8 M618.2,390.8 Q621.4,404.9 625.0,418.9 M626.0,389.3 Q629.8,398.4 629.6,407.8 M635.1,388.7 Q637.1,396.4 636.5,404.3" fill="none" stroke="#5c5c5c" stroke-width="4.4" stroke-linecap="round" stroke-linejoin="round" filter="url(#blur1)"/>
</g>
<clipPath id="clip4_0"><path d="M875.2,112.8 C879.2,113.0 884.0,107.7 889.6,108.7 C895.2,109.7 901.6,114.3 908.8,118.8 C916.0,123.3 925.6,128.8 932.8,135.6 C940.0,142.4 946.4,151.2 952.0,159.6 C957.6,168.0 962.6,176.8 966.4,186.0 C970.2,195.2 972.8,205.2 974.8,214.8 C976.8,224.4 978.2,234.0 978.4,243.6 C978.6,253.2 978.0,263.2 976.0,272.4 C974.0,281.6 970.8,291.2 966.4,298.8 C962.0,306.4 956.8,313.0 949.6,318.0 C942.4,323.0 932.4,326.3 923.2,328.8 C914.0,331.3 902.4,333.1 894.4,332.9 C886.4,332.7 882.4,327.5 875.2,327.6 C868.0,327.7 859.6,333.2 851.2,333.6 C842.8,334.0 833.2,332.6 824.8,330.0 C816.4,327.4 807.6,323.2 800.8,318.0 C794.0,312.8 788.4,306.4 784.0,298.8 C779.6,291.2 776.4,281.6 774.4,272.4 C772.4,263.2 771.8,253.2 772.0,243.6 C772.2,234.0 773.8,224.4 775.6,214.8 C777.4,205.2 779.8,194.8 782.8,186.0 C785.8,177.2 789.4,169.6 793.6,162.0 C797.8,154.4 802.4,146.8 808.0,140.4 C813.6,134.0 820.0,128.6 827.2,123.6 C834.4,118.6 844.8,113.1 851.2,110.4 C857.6,107.7 861.6,106.9 865.6,107.3 C869.6,107.7 871.2,112.6 875.2,112.8 Z"/></clipPath>
<g clip-path="url(#clip4_0)">
<path d="M875.2,112.8 C879.2,113.0 884.0,107.7 889.6,108.7 C895.2,109.7 901.6,114.3 908.8,118.8 C916.0,123.3 925.6,128.8 932.8,135.6 C940.0,142.4 946.4,151.2 952.0,159.6 C957.6,168.0 962.6,176.8 966.4,186.0 C970.2,195.2 972.8,205.2 974.8,214.8 C976.8,224.4 978.2,234.0 978.4,243.6 C978.6,253.2 978.0,263.2 976.0,272.4 C974.0,281.6 970.8,291.2 966.4,298.8 C962.0,306.4 956.8,313.0 949.6,318.0 C942.4,323.0 932.4,326.3 923.2,328.8 C914.0,331.3 902.4,333.1 894.4,332.9 C886.4,332.7 882.4,327.5 875.2,327.6 C868.0,327.7 859.6,333.2 851.2,333.6 C842.8,334.0 833.2,332.6 824.8,330.0 C816.4,327.4 807.6,323.2 800.8,318.0 C794.0,312.8 788.4,306.4 784.0,298.8 C779.6,291.2 776.4,281.6 774.4,272.4 C772.4,263.2 771.8,253.2 772.0,243.6 C772.2,234.0 773.8,224.4 775.6,214.8 C777.4,205.2 779.8,194.8 782.8,186.0 C785.8,177.2 789.4,169.6 793.6,162.0 C797.8,154.4 802.4,146.8 808.0,140.4 C813.6,134.0 820.0,128.6 827.2,123.6 C834.4,118.6 844.8,113.1 851.2,110.4 C857.6,107.7 861.6,106.9 865.6,107.3 C869.6,107.7 871.2,112.6 875.2,112.8 Z" fill="#a8a8a8"/>
<path d="M874.6,139.1 C877.6,139.2 881.2,135.2 885.3,136.0 C889.4,136.7 894.2,140.2 899.5,143.6 C904.8,147.0 911.9,151.2 917.3,156.4 C922.6,161.5 927.3,168.2 931.5,174.6 C935.6,181.0 939.3,187.7 942.1,194.7 C944.9,201.7 946.9,209.3 948.3,216.6 C949.8,223.9 950.9,231.2 951.0,238.5 C951.2,245.7 950.7,253.3 949.2,260.3 C947.8,267.3 945.4,274.6 942.1,280.4 C938.9,286.2 935.0,291.2 929.7,295.0 C924.4,298.8 917.0,301.3 910.2,303.2 C903.4,305.1 894.8,306.5 888.9,306.3 C882.9,306.1 880.0,302.2 874.6,302.3 C869.3,302.4 863.1,306.5 856.9,306.8 C850.7,307.1 843.6,306.1 837.4,304.1 C831.1,302.1 824.6,298.9 819.6,295.0 C814.6,291.0 810.4,286.2 807.2,280.4 C803.9,274.6 801.5,267.3 800.1,260.3 C798.6,253.3 798.1,245.7 798.3,238.5 C798.4,231.2 799.6,223.9 800.9,216.6 C802.3,209.3 804.1,201.4 806.3,194.7 C808.5,188.0 811.2,182.2 814.3,176.4 C817.4,170.7 820.8,164.9 824.9,160.0 C829.1,155.2 833.8,151.1 839.1,147.3 C844.5,143.5 852.2,139.3 856.9,137.2 C861.6,135.2 864.6,134.6 867.5,134.9 C870.5,135.2 871.7,138.9 874.6,139.1 Z" fill="#c6c6c6" filter="url(#blur5)"/>
<path d="M865.6,152.4 C860.8,131.6 844.4,160.0 836.8,171.6 C829.2,183.2 822.0,204.4 820.0,222.0 C818.0,239.6 820.4,264.0 824.8,277.2 C829.2,290.4 839.6,298.0 846.4,301.2 C853.2,304.4 862.4,321.2 865.6,296.4 C868.8,271.6 870.4,173.2 865.6,152.4 Z" fill="#dedede" filter="url(#blur5)"/>
<path d="M884.8,152.4 C889.6,131.6 906.0,160.0 913.6,171.6 C921.2,183.2 928.4,204.4 930.4,222.0 C932.4,239.6 930.0,264.0 925.6,277.2 C921.2,290.4 910.8,298.0 904.0,301.2 C897.2,304.4 888.0,321.2 884.8,296.4 C881.6,271.6 880.0,173.2 884.8,152.4 Z" fill="#dedede" filter="url(#blur5)"/>
<polyline points="875.2,121.2 875.2,318.0" fill="none" stroke="#8a8a8a" stroke-width="18" stroke-linecap="round" stroke-linejoin="round" opacity="1.0" filter="url(#blur4)"/>
<polyline points="875.2,112.8 875.2,327.6" fill="none" stroke="#2e2e2e" stroke-width="3" stroke-linecap="round" stroke-linejoin="round" opacity="1.0" filter="url(#blur1)"/>
<path d="M872.8,190.8 C873.7,185.6 876.7,185.6 877.6,190.8 C878.5,196.0 878.2,212.8 878.1,222.0 C878.0,231.2 877.9,242.0 877.1,246.0 C876.3,250.0 874.1,250.0 873.3,246.0 C872.5,242.0 872.4,231.2 872.3,222.0 C872.2,212.8 871.9,196.0 872.8,190.8 Z" fill="#000" filter="url(#blur1)"/>
<polyline points="851.2,246.0 860.8,258.0 856.0,282.0" fill="none" stroke="#6e6e6e" stroke-width="5" stroke-linecap="round" stroke-linejoin="round" opacity="1.0" filter="url(#blur2)"/>
<polyline points="899.2,246.0 889.6,258.0 894.4,282.0" fill="none" stroke="#6e6e6e" stroke-width="5" stroke-linecap="round" stroke-linejoin="round" opacity="1.0" filter="url(#blur2)"/>
<polyline points="808.0,210.0 832.0,224.4" fill="none" stroke="#6e6e6e" stroke-width="5" stroke-linecap="round" stroke-linejoin="round" opacity="1.0" filter="url(#blur2)"/>
<polyline points="942.4,210.0 918.4,224.4" fill="none" stroke="#6e6e6e" stroke-width="5" stroke-linecap="round" stroke-linejoin="round" opacity="1.0" filter="url(#blur2)"/>
<path d="M876.6,115.2 Q878.6,123.3 879.6,131.5 M878.1,124.2 L873.0,129.6 M886.0,111.4 Q888.7,125.9 893.9,139.6 M890.8,126.8 L883.1,137.5 M894.3,113.0 Q889.0,119.6 886.1,127.5 M890.3,121.2 L882.9,122.6 M900.6,116.6 Q896.7,127.4 889.8,136.3 M909.5,122.2 Q907.2,131.0 901.5,137.8 M918.1,127.5 Q910.4,140.4 901.9,152.8 M925.3,132.6 Q922.0,141.4 915.6,147.8 M919.4,140.5 L921.7,148.3 M930.9,137.3 Q924.4,148.0 915.2,156.3 M937.3,144.0 Q924.2,153.1 912.8,164.2 M924.1,155.4 L925.2,169.7 M943.5,151.9 Q930.9,160.2 919.0,169.4 M948.3,158.5 Q935.8,169.7 921.5,178.1 M952.6,165.1 Q946.0,171.1 938.2,175.1 M944.4,170.2 L943.8,178.0 M958.1,174.4 Q948.7,176.5 941.2,182.1 M961.9,182.0 Q950.2,190.0 937.1,194.7 M948.0,188.4 L936.9,182.4 M965.7,191.2 Q954.3,195.6 942.8,199.7 M968.4,199.5 Q954.8,201.8 941.9,206.4 M970.6,207.5 Q962.2,212.4 952.8,213.3 M960.6,209.9 L957.3,217.6 M972.7,217.1 Q962.9,216.8 953.8,219.7 M974.3,226.2 Q958.4,229.4 942.3,231.3 M975.5,235.9 Q967.6,236.0 959.8,237.0 M975.9,245.4 Q967.7,246.4 959.6,246.1 M975.7,254.9 Q964.4,252.2 952.9,252.6 M975.1,262.6 Q963.2,258.7 950.9,258.6 M973.2,273.2 Q961.4,272.0 950.0,268.7 M971.0,281.5 Q956.4,279.2 942.7,273.9 M955.6,276.8 L951.1,264.4 M967.5,291.0 Q957.8,287.2 948.3,282.9 M963.4,298.9 Q949.0,292.9 936.5,283.8 M958.0,306.7 Q950.0,299.2 941.3,292.5 M950.8,313.9 Q943.5,301.3 933.4,291.0 M940.7,301.8 L943.7,289.2 M944.8,318.0 Q936.6,309.1 932.0,298.1 M938.4,306.7 L942.7,296.9 M936.3,322.0 Q934.6,310.0 928.9,299.6 M931.5,309.9 L937.0,300.9 M929.3,324.4 Q926.9,307.4 920.6,291.7 M921.4,326.7 Q918.5,311.5 914.1,296.8 M911.5,328.8 Q907.1,312.6 905.2,296.0 M901.8,330.1 Q902.4,315.4 900.2,300.9 M900.4,314.1 L910.2,305.3 M894.5,330.4 Q894.4,322.6 895.2,314.9 M886.3,328.2 Q892.5,315.8 897.9,303.1 M874.6,325.1 Q875.8,312.9 874.1,300.8 M865.5,327.2 Q863.0,318.0 859.6,309.1 M862.0,317.3 L853.9,314.7 M856.8,330.1 Q852.9,320.0 850.3,309.6 M853.5,318.8 L844.4,315.4 M848.3,331.1 Q845.3,314.9 846.6,298.6 M848.1,313.3 L836.4,304.6 M838.0,330.4 Q839.2,315.5 841.9,300.9 M827.8,328.2 Q827.5,319.2 831.1,311.2 M830.3,319.1 L825.6,312.9 M821.1,326.1 Q827.6,316.9 829.9,306.3 M812.8,322.5 Q816.5,311.0 822.8,300.8 M804.8,317.8 Q811.1,303.7 821.0,292.2 M814.4,304.2 L810.2,291.2 M799.1,313.4 Q806.7,308.6 811.4,301.2 M793.4,307.7 Q802.6,297.2 813.5,288.6 M804.7,297.5 L803.6,285.1 M787.5,299.7 Q795.7,296.2 802.8,291.0 M783.3,291.8 Q793.5,287.3 803.7,282.5 M780.0,283.4 Q790.0,282.6 799.0,278.4 M777.3,273.7 Q785.3,268.7 794.5,268.0 M786.9,271.4 L790.1,263.9 M775.6,264.5 Q784.4,260.5 793.7,260.7 M774.7,255.1 Q786.9,256.0 799.0,254.6 M774.5,246.1 Q791.1,244.6 807.6,245.5 M774.8,237.8 Q788.2,238.3 801.6,239.6 M789.5,239.0 L797.5,229.9 M775.7,229.3 Q790.9,232.9 806.5,234.4 M777.1,220.7 Q791.8,222.3 806.4,225.3 M793.1,223.5 L799.2,235.4 M778.6,212.5 Q792.0,213.2 804.8,216.7 M792.9,215.3 L798.1,226.0 M780.2,205.0 Q789.6,204.5 798.2,207.7 M781.9,197.7 Q789.9,199.5 797.8,201.7 M784.0,190.4 Q796.5,192.7 808.4,197.1 M786.9,182.1 Q800.1,190.0 814.7,194.1 M802.4,188.0 L813.9,180.7 M790.9,172.7 Q802.1,176.9 812.6,182.4 M795.4,163.8 Q810.3,169.0 823.3,177.6 M799.5,156.7 Q812.8,165.7 826.7,173.5 M814.6,165.7 L816.2,180.0 M803.4,150.5 Q814.3,160.5 826.9,167.8 M807.9,144.3 Q819.6,154.3 831.6,163.9 M821.0,155.0 L834.4,151.7 M814.1,137.5 Q824.6,149.8 836.3,161.1 M820.2,132.0 Q825.0,141.6 832.6,148.9 M828.2,125.9 Q838.7,137.5 846.9,150.7 M835.9,121.0 Q844.7,134.0 852.0,147.7 M844.1,116.5 Q852.2,130.7 859.3,145.4 M852.5,112.6 Q856.0,120.7 859.3,128.8 M859.2,110.3 Q863.7,126.3 867.1,142.7 M866.2,110.0 Q862.7,122.2 856.5,133.1 M872.3,114.6 Q865.9,123.5 862.7,133.9" fill="none" stroke="#5c5c5c" stroke-width="4.6" stroke-linecap="round" stroke-linejoin="round" filter="url(#blur1)"/>
</g>
<clipPath id="clip4_296"><path d="M875.2,408.8 C879.2,409.0 884.0,403.7 889.6,404.7 C895.2,405.7 901.6,410.3 908.8,414.8 C916.0,419.3 925.6,424.8 932.8,431.6 C940.0,438.4 946.4,447.2 952.0,455.6 C957.6,464.0 962.6,472.8 966.4,482.0 C970.2,491.2 972.8,501.2 974.8,510.8 C976.8,520.4 978.2,530.0 978.4,539.6 C978.6,549.2 978.0,559.2 976.0,568.4 C974.0,577.6 970.8,587.2 966.4,594.8 C962.0,602.4 956.8,609.0 949.6,614.0 C942.4,619.0 932.4,622.3 923.2,624.8 C914.0,627.3 902.4,629.1 894.4,628.9 C886.4,628.7 882.4,623.5 875.2,623.6 C868.0,623.7 859.6,629.2 851.2,629.6 C842.8,630.0 833.2,628.6 824.8,626.0 C816.4,623.4 807.6,619.2 800.8,614.0 C794.0,608.8 788.4,602.4 784.0,594.8 C779.6,587.2 776.4,577.6 774.4,568.4 C772.4,559.2 771.8,549.2 772.0,539.6 C772.2,530.0 773.8,520.4 775.6,510.8 C777.4,501.2 779.8,490.8 782.8,482.0 C785.8,473.2 789.4,465.6 793.6,458.0 C797.8,450.4 802.4,442.8 808.0,436.4 C813.6,430.0 820.0,424.6 827.2,419.6 C834.4,414.6 844.8,409.1 851.2,406.4 C857.6,403.7 861.6,402.9 865.6,403.3 C869.6,403.7 871.2,408.6 875.2,408.8 Z"/></clipPath>
<g clip-path="url(#clip4_296)">
<path d="M875.2,408.8 C879.2,409.0 884.0,403.7 889.6,404.7 C895.2,405.7 901.6,410.3 908.8,414.8 C916.0,419.3 925.6,424.8 932.8,431.6 C940.0,438.4 946.4,447.2 952.0,455.6 C957.6,464.0 962.6,472.8 966.4,482.0 C970.2,491.2 972.8,501.2 974.8,510.8 C976.8,520.4 978.2,530.0 978.4,539.6 C978.6,549.2 978.0,559.2 976.0,568.4 C974.0,577.6 970.8,587.2 966.4,594.8 C962.0,602.4 956.8,609.0 949.6,614.0 C942.4,619.0 932.4,622.3 923.2,624.8 C914.0,627.3 902.4,629.1 894.4,628.9 C886.4,628.7 882.4,623.5 875.2,623.6 C868.0,623.7 859.6,629.2 851.2,629.6 C842.8,630.0 833.2,628.6 824.8,626.0 C816.4,623.4 807.6,619.2 800.8,614.0 C794.0,608.8 788.4,602.4 784.0,594.8 C779.6,587.2 776.4,577.6 774.4,568.4 C772.4,559.2 771.8,549.2 772.0,539.6 C772.2,530.0 773.8,520.4 775.6,510.8 C777.4,501.2 779.8,490.8 782.8,482.0 C785.8,473.2 789.4,465.6 793.6,458.0 C797.8,450.4 802.4,442.8 808.0,436.4 C813.6,430.0 820.0,424.6 827.2,419.6 C834.4,414.6 844.8,409.1 851.2,406.4 C857.6,403.7 861.6,402.9 865.6,403.3 C869.6,403.7 871.2,408.6 875.2,408.8 Z" fill="#a8a8a8"/>
<path d="M874.6,435.1 C877.6,435.2 881.2,431.2 885.3,432.0 C889.4,432.7 894.2,436.2 899.5,439.6 C904.8,443.0 911.9,447.2 917.3,452.4 C922.6,457.5 927.3,464.2 931.5,470.6 C935.6,477.0 939.3,483.7 942.1,490.7 C944.9,497.7 946.9,505.3 948.3,512.6 C949.8,519.9 950.9,527.2 951.0,534.5 C951.2,541.7 950.7,549.3 949.2,556.3 C947.8,563.3 945.4,570.6 942.1,576.4 C938.9,582.2 935.0,587.2 929.7,591.0 C924.4,594.8 917.0,597.3 910.2,599.2 C903.4,601.1 894.8,602.5 888.9,602.3 C882.9,602.1 880.0,598.2 874.6,598.3 C869.3,598.4 863.1,602.5 856.9,602.8 C850.7,603.1 843.6,602.1 837.4,600.1 C831.1,598.1 824.6,594.9 819.6,591.0 C814.6,587.0 810.4,582.2 807.2,576.4 C803.9,570.6 801.5,563.3 800.1,556.3 C798.6,549.3 798.1,541.7 798.3,534.5 C798.4,527.2 799.6,519.9 800.9,512.6 C802.3,505.3 804.1,497.4 806.3,490.7 C808.5,484.0 811.2,478.2 814.3,472.4 C817.4,466.7 820.8,460.9 824.9,456.0 C829.1,451.2 833.8,447.1 839.1,443.3 C844.5,439.5 852.2,435.3 856.9,433.2 C861.6,431.2 864.6,430.6 867.5,430.9 C870.5,431.2 871.7,434.9 874.6,435.1 Z" fill="#c6c6c6" filter="url(#blur5)"/>
<path d="M865.6,448.4 C860.8,427.6 844.4,456.0 836.8,467.6 C829.2,479.2 822.0,500.4 820.0,518.0 C818.0,535.6 820.4,560.0 824.8,573.2 C829.2,586.4 839.6,594.0 846.4,597.2 C853.2,600.4 862.4,617.2 865.6,592.4 C868.8,567.6 870.4,469.2 865.6,448.4 Z" fill="#dedede" filter="url(#blur5)"/>
<path d="M884.8,448.4 C889.6,427.6 906.0,456.0 913.6,467.6 C921.2,479.2 928.4,500.4 930.4,518.0 C932.4,535.6 930.0,560.0 925.6,573.2 C921.2,586.4 910.8,594.0 904.0,597.2 C897.2,600.4 888.0,617.2 884.8,592.4 C881.6,567.6 880.0,469.2 884.8,448.4 Z" fill="#dedede" filter="url(#blur5)"/>
<polyline points="875.2,417.2 875.2,614.0" fill="none" stroke="#8a8a8a" stroke-width="18" stroke-linecap="round" stroke-linejoin="round" opacity="1.0" filter="url(#blur4)"/>
<polyline points="875.2,408.8 875.2,623.6" fill="none" stroke="#2e2e2e" stroke-width="3" stroke-linecap="round" stroke-linejoin="round" opacity="1.0" filter="url(#blur1)"/>
<path d="M872.8,486.8 C873.7,481.6 876.7,481.6 877.6,486.8 C878.5,492.0 878.2,508.8 878.1,518.0 C878.0,527.2 877.9,538.0 877.1,542.0 C876.3,546.0 874.1,546.0 873.3,542.0 C872.5,538.0 872.4,527.2 872.3,518.0 C872.2,508.8 871.9,492.0 872.8,486.8 Z" fill="#000" filter="url(#blur1)"/>
<polyline points="851.2,542.0 860.8,554.0 856.0,578.0" fill="none" stroke="#6e6e6e" stroke-width="5" stroke-linecap="round" stroke-linejoin="round" opacity="1.0" filter="url(#blur2)"/>
<polyline points="899.2,542.0 889.6,554.0 894.4,578.0" fill="none" stroke="#6e6e6e" stroke-width="5" stroke-linecap="round" stroke-linejoin="round" opacity="1.0" filter="url(#blur2)"/>
<polyline points="808.0,506.0 832.0,520.4" fill="none" stroke="#6e6e6e" stroke-width="5" stroke-linecap="round" stroke-linejoin="round" opacity="1.0" filter="url(#blur2)"/>
<polyline points="942.4,506.0 918.4,520.4" fill="none" stroke="#6e6e6e" stroke-width="5" stroke-linecap="round" stroke-linejoin="round" opacity="1.0" filter="url(#blur2)"/>
<path d="M881.3,409.5 Q890.1,420.9 895.2,434.2 M888.8,407.1 Q884.5,422.1 884.1,437.4 M886.9,423.9 L875.1,430.8 M895.4,409.6 Q886.1,422.5 879.7,436.9 M904.1,414.8 Q897.4,422.3 892.7,431.1 M898.2,424.0 L889.3,424.7 M911.8,419.6 Q906.0,425.7 902.4,433.3 M920.7,425.3 Q910.9,435.1 904.4,447.1 M912.4,437.7 L916.4,449.3 M928.3,430.9 Q920.5,443.6 910.4,454.3 M935.5,438.0 Q931.0,443.6 925.4,447.9 M929.7,443.2 L923.5,442.0 M941.1,444.7 Q930.7,449.2 922.9,457.0 M947.2,453.0 Q933.6,460.8 921.2,470.2 M933.1,462.8 L932.6,476.8 M951.5,459.5 Q939.6,465.9 928.5,473.8 M956.5,467.6 Q947.6,471.3 939.6,476.6 M947.4,472.8 L946.3,481.4 M960.3,474.6 Q952.1,475.9 945.6,480.5 M952.5,478.5 L946.2,475.3 M964.5,484.0 Q954.2,486.3 944.8,491.0 M967.7,492.9 Q955.0,498.3 941.8,501.8 M970.0,501.1 Q959.7,506.3 948.6,507.9 M958.0,504.2 L950.2,497.8 M971.8,509.0 Q958.7,514.6 944.6,516.3 M973.3,516.2 Q957.2,518.0 941.4,521.5 M955.8,519.4 L949.4,532.5 M974.9,526.9 Q962.1,530.5 949.0,531.1 M975.8,537.6 Q961.0,535.9 946.3,537.7 M975.9,546.7 Q963.7,545.5 951.5,545.8 M975.4,555.3 Q963.3,554.0 951.2,553.1 M974.0,565.7 Q960.4,566.1 947.7,562.2 M972.1,573.6 Q955.8,569.5 939.6,564.9 M954.2,568.7 L942.3,578.0 M969.5,582.0 Q959.0,575.9 947.5,572.8 M965.2,591.7 Q949.5,586.7 935.9,577.9 M960.3,599.7 Q948.2,594.5 938.5,585.9 M955.8,605.3 Q945.9,598.7 938.0,590.0 M946.3,596.5 L936.0,598.4 M949.0,611.3 Q944.7,602.5 938.3,595.1 M939.8,616.5 Q937.5,607.4 932.9,599.2 M931.7,619.6 Q926.4,604.7 921.4,589.6 M922.7,622.3 Q921.8,614.8 919.3,607.8 M913.3,624.5 Q907.8,608.6 906.1,592.1 M904.3,625.8 Q904.1,610.3 901.4,595.0 M902.3,608.9 L912.3,599.3 M895.8,626.4 Q895.6,615.2 895.8,604.0 M887.9,624.9 Q892.2,612.3 897.4,600.0 M879.6,621.6 Q885.7,609.5 888.0,596.3 M871.3,621.5 Q868.6,612.7 867.2,603.6 M863.2,624.0 Q857.3,614.4 854.8,603.6 M859.2,612.6 L849.7,609.6 M856.4,626.2 Q855.1,612.7 850.8,600.0 M852.8,611.9 L860.4,602.6 M847.9,627.1 Q851.1,612.0 849.9,596.7 M837.4,626.3 Q838.7,618.9 839.7,611.5 M838.6,618.1 L844.5,614.9 M827.6,624.2 Q830.8,608.7 835.5,593.6 M817.7,620.7 Q820.9,612.7 824.4,604.9 M821.4,612.0 L817.6,605.3 M809.4,616.6 Q815.3,607.7 820.2,598.2 M815.1,606.4 L811.3,597.6 M801.5,611.4 Q811.9,601.9 819.5,590.2 M795.9,606.3 Q801.1,598.7 808.1,593.0 M790.4,600.0 Q803.5,592.2 815.3,582.7 M785.0,591.3 Q792.7,586.3 801.0,582.4 M782.0,584.9 Q790.6,583.6 798.1,579.4 M790.6,581.4 L792.5,574.0 M779.6,578.3 Q786.3,575.2 793.3,573.4 M776.9,568.0 Q792.8,566.7 807.9,562.2 M793.8,564.2 L799.6,551.2 M775.4,559.7 Q783.0,560.5 790.2,558.6 M774.7,551.0 Q789.1,552.5 803.4,550.5 M790.4,550.1 L798.8,560.0 M774.5,543.5 Q783.8,543.9 793.0,543.6 M774.6,536.4 Q781.8,538.1 789.1,537.8 M775.4,527.7 Q786.1,527.3 796.5,529.4 M777.0,517.0 Q787.1,516.2 796.6,519.1 M779.0,506.4 Q789.0,511.2 799.8,512.1 M790.6,508.8 L797.9,502.3 M780.6,499.1 Q796.1,504.5 812.3,507.4 M783.0,489.8 Q792.1,495.0 802.2,496.5 M793.7,492.9 L797.0,501.4 M785.2,482.6 Q794.0,483.1 801.5,487.0 M788.9,473.1 Q801.0,479.6 813.8,484.6 M792.5,465.5 Q800.2,471.2 809.0,474.7 M796.5,458.0 Q811.4,465.8 826.0,474.1 M801.4,449.6 Q807.2,456.1 815.0,459.5 M806.4,442.4 Q816.9,452.6 829.1,460.7 M819.2,452.1 L819.1,465.2 M813.2,434.5 Q824.9,444.3 835.3,455.5 M819.6,428.5 Q827.8,435.9 834.3,444.7 M827.8,422.2 Q837.6,435.1 846.6,448.5 M836.1,416.9 Q841.1,422.7 844.2,429.5 M840.2,424.0 L837.6,430.2 M845.3,411.9 Q854.3,423.8 859.8,437.5 M854.2,407.9 Q860.0,416.7 862.8,426.8 M858.4,418.5 L867.4,421.0 M862.7,405.7 Q860.3,422.4 862.5,438.9 M863.4,423.9 L875.7,432.4 M870.6,409.6 Q868.1,418.0 862.2,424.0" fill="none" stroke="#5c5c5c" stroke-width="4.6" stroke-linecap="round" stroke-linejoin="round" filter="url(#blur1)"/>
</g>
<polygon points="86.8,288.0 93.3,280.2 105.0,275.0 108.1,263.3 120.6,263.3 123.2,277.6 127.1,291.9 141.4,293.2 151.8,297.1 158.3,285.4 160.9,272.4 170.0,268.5 175.2,280.2 181.7,277.6 185.6,262.0 196.0,260.7 198.6,269.8 209.0,267.2 222.0,251.6 232.4,252.9 233.7,267.2 240.2,285.4 240.7,301.0 232.4,314.0 211.6,316.6 193.4,315.3 185.6,321.8 183.0,340.0 162.2,336.1 154.4,337.4 144.0,330.9 138.8,320.5 123.2,315.3 105.0,312.7 92.0,303.6 88.1,295.8" fill="#5fc54b" />
<polygon points="99.8,271.1 105.0,271.1 105.0,280.2 99.8,280.2" fill="#de3020" />
<polygon points="115.4,289.3 119.3,289.3 119.3,291.9 115.4,291.9" fill="#de3020" />
<polygon points="211.6,286.7 215.5,286.7 215.5,289.3 211.6,289.3" fill="#de3020" />
<polygon points="218.9,280.2 221.5,280.2 221.5,283.3 218.9,283.3" fill="#de3020" />
<polygon points="227.2,271.1 231.1,271.1 231.1,280.2 227.2,280.2" fill="#de3020" />
<polygon points="333.3,106.4 339.8,101.2 348.9,102.5 351.5,111.6 347.6,118.1 335.9,119.4" fill="#5fc54b" />
<polygon points="467.2,103.8 473.7,101.2 481.5,109.0 488.0,122.0 488.0,132.4 480.2,128.5 472.4,122.0 467.2,114.2" fill="#5fc54b" />
<polygon points="441.2,120.7 447.7,119.4 450.3,125.9 449.0,132.4 442.5,132.4" fill="#5fc54b" />
<polygon points="361.9,111.1 371.0,111.1 371.0,114.2 361.9,114.2" fill="#5fc54b" />
<polygon points="449.0,153.2 454.2,148.0 460.7,145.4 468.5,148.0 472.4,158.4 473.7,163.6 467.2,164.9 460.7,167.5 454.2,163.6 448.5,159.7" fill="#7dd7d7" />
<polygon points="386.6,215.6 391.8,213.0 402.2,215.6 410.0,211.7 415.2,207.8 420.4,210.4 419.1,216.9 407.4,219.5 399.6,219.5 389.2,220.3" fill="#5fc54b" />
<polygon points="303.4,270.2 311.2,265.0 326.8,261.1 339.8,263.7 345.0,278.0 350.2,293.6 355.4,311.8 365.8,327.4 378.8,343.0 381.4,358.6 368.4,356.0 350.2,345.6 332.0,330.0 319.0,304.0 308.6,288.4" fill="#5fc54b" />
<polygon points="320.3,278.0 326.8,270.2 335.9,270.2 345.0,278.0 347.6,288.4 351.5,296.2 351.5,305.3 339.8,305.3 329.4,301.4 321.6,296.2" fill="#de3020" />
<polygon points="386.6,285.8 397.0,280.6 402.2,267.6 407.4,261.1 413.9,263.7 417.8,278.0 424.3,283.2 428.2,298.8 420.4,309.2 412.6,319.6 407.4,320.9 399.6,311.8 391.8,301.4 386.6,293.6" fill="#5fc54b" />
<polygon points="439.9,330.0 446.4,319.6 456.8,311.8 467.2,304.0 477.6,301.4 481.5,309.2 477.6,324.8 467.2,337.8 456.8,345.6 446.4,348.2 441.2,343.0" fill="#5fc54b" />
<polygon points="463.3,285.8 469.8,281.9 480.2,283.2 486.7,289.7 485.4,302.7 477.6,304.0 467.2,302.7 463.3,296.2" fill="#7dd7d7" />
<polygon points="467.2,291.0 472.4,288.4 478.9,291.0 480.7,300.1 472.4,301.4 467.2,298.8" fill="#de3020" />
<polygon points="488.0,249.4 495.8,245.5 507.5,244.2 508.8,257.2 506.2,263.7 498.4,262.4 489.3,259.8" fill="#5fc54b" />
<polygon points="499.7,270.2 504.9,268.9 507.5,275.4 503.6,279.3 499.7,276.7" fill="#5fc54b" />
<polygon points="390.5,136.8 395.7,136.8 395.7,139.4 390.5,139.4" fill="#7dd7d7" />
<polygon points="411.3,136.8 416.5,136.8 416.5,139.4 411.3,139.4" fill="#7dd7d7" />
<polygon points="344.5,153.2 349.7,153.2 349.7,155.8 344.5,155.8" fill="#7dd7d7" />
<polygon points="347.1,161.0 352.3,161.0 352.3,163.6 347.1,163.6" fill="#7dd7d7" />
<polygon points="376.7,177.9 381.9,177.9 381.9,180.5 376.7,180.5" fill="#7dd7d7" />
<polygon points="369.7,200.0 374.9,200.0 374.9,202.6 369.7,202.6" fill="#7dd7d7" />
<polygon points="475.0,159.7 480.2,159.7 480.2,162.3 475.0,162.3" fill="#7dd7d7" />
<polygon points="549.9,155.8 553.8,145.4 562.9,135.0 574.6,133.7 585.0,138.9 595.4,148.0 601.1,161.0 598.0,179.2 590.2,189.6 587.6,200.0 574.6,200.0 564.2,194.8 559.0,184.4 551.2,176.6 549.9,166.2" fill="#5fc54b" />
<polygon points="556.4,174.0 559.0,153.2 565.5,138.9 575.9,137.1 583.7,142.8 592.8,155.8 594.1,171.4 590.2,184.4 585.0,193.5 572.0,197.4 562.9,192.2" fill="#de3020" />
<polygon points="626.6,142.8 634.4,137.6 642.2,133.7 655.2,133.7 664.3,137.6 665.6,148.0 664.3,155.8 660.4,161.0 661.7,174.0 650.0,175.3 642.2,168.8 640.9,158.4 634.4,150.6 627.9,149.3" fill="#7dd7d7" />
<polygon points="646.1,145.4 652.6,142.8 661.7,145.4 664.3,153.2 660.4,157.1 651.3,155.8 647.4,150.6" fill="#de3020" />
<polygon points="699.4,140.2 707.2,135.0 712.4,132.4 717.6,125.9 725.4,128.5 735.8,145.4 741.0,161.0 741.0,179.2 728.0,187.0 717.6,192.2 707.2,192.2 703.3,179.2 707.2,168.8 702.0,155.8 699.4,148.0" fill="#7dd7d7" />
<polygon points="711.1,125.9 722.8,125.9 731.9,135.0 737.1,148.0 733.2,158.4 725.4,159.7 717.6,155.8 712.4,148.0 709.8,135.0" fill="#5fc54b" />
<polygon points="711.9,135.0 721.5,132.4 728.0,142.8 730.1,155.8 726.7,160.5 718.9,157.1 713.7,148.0" fill="#de3020" />
<polygon points="707.2,176.6 717.6,171.9 720.7,174.5 709.8,179.7" fill="#de3020" />
<polygon points="640.1,232.5 644.8,228.6 648.7,231.2 650.0,241.6 652.6,249.4 647.4,252.0 642.2,246.8 639.6,239.0" fill="#5fc54b" />
<polygon points="591.5,304.0 598.0,296.2 603.2,293.6 607.1,301.4 607.1,314.4 603.2,326.1 594.1,326.1 590.7,317.0" fill="#5fc54b" />
<polygon points="720.2,270.2 728.0,267.1 738.4,270.2 741.0,272.8 728.0,274.1 724.1,278.0" fill="#7dd7d7" />
<polygon points="860.8,176.4 872.8,171.6 894.4,169.2 898.0,174.0 896.8,182.4 890.8,186.0 884.8,188.4 872.8,187.2 860.8,184.8 852.4,181.2 851.2,166.8 856.0,162.0 859.6,164.4" fill="#7dd7d7" />
<polygon points="860.8,146.4 869.2,141.6 880.0,142.8 887.2,147.6 894.4,156.0 895.6,162.0 893.2,168.0 882.4,170.4 872.8,171.6 866.8,175.2 860.8,176.4 858.4,162.0" fill="#5fc54b" />
<polygon points="860.8,150.0 870.4,147.6 880.0,150.0 889.6,154.8 894.4,162.0 893.2,168.0 882.4,170.4 872.8,171.6 866.8,175.2 860.8,176.4 859.6,164.4" fill="#de3020" />
<polygon points="782.8,190.8 785.2,181.2 788.8,172.8 791.2,163.2 797.2,160.8 803.2,164.4 808.0,174.0 811.6,182.4 824.8,183.6 834.4,188.4 839.2,190.8 839.2,199.2 832.0,200.4 820.0,199.2 808.0,199.2 796.0,199.2 786.4,196.8 781.6,193.2" fill="#5fc54b" />
<polygon points="937.6,176.4 944.8,171.6 954.4,169.2 959.2,171.6 959.2,182.4 949.6,183.6 942.4,184.8 937.6,182.4" fill="#5fc54b" />
<polygon points="937.6,186.0 942.9,186.0 942.9,198.0 937.6,198.0" fill="#7dd7d7" />
<polygon points="779.2,253.2 781.6,244.8 791.2,241.2 804.4,243.6 815.2,255.6 827.2,272.4 839.2,286.8 848.8,298.8 848.8,310.8 841.6,318.0 829.6,318.0 820.0,310.8 808.0,296.4 796.0,282.0 786.4,272.4 779.2,262.8" fill="#5fc54b" />
<polygon points="788.8,255.6 796.0,244.8 804.4,246.0 814.0,258.0 824.8,272.4 836.8,289.2 841.6,301.2 840.4,313.2 829.6,314.4 821.2,306.0 810.4,291.6 798.4,277.2 790.0,267.6" fill="#de3020" />
<polygon points="847.6,306.0 851.2,301.2 860.8,300.0 872.8,300.0 884.8,299.3 896.8,300.7 898.0,308.4 890.8,313.2 875.2,314.4 863.2,314.4 852.4,309.6" fill="#5fc54b" />
<polygon points="849.3,302.4 858.4,300.7 860.8,307.2 851.2,308.4" fill="#de3020" />
<polygon points="908.8,289.2 913.6,279.6 923.2,272.4 932.8,262.8 942.4,255.6 949.6,248.4 956.8,246.0 964.0,248.4 966.4,258.0 966.4,277.2 959.2,280.8 947.2,282.0 942.4,286.8 937.6,301.2 928.0,307.2 920.8,307.2 913.6,301.2" fill="#7dd7d7" />
<polygon points="928.0,270.0 942.4,258.0 952.0,249.6 959.2,255.6 949.6,262.8 942.4,272.4 937.6,282.0 932.8,291.6 925.6,289.2" fill="#5fc54b" />
<polygon points="914.8,289.2 918.4,277.2 928.0,270.0 940.0,262.8 949.6,258.0 952.0,262.8 947.2,272.4 942.4,282.0 937.6,289.2 932.8,298.8 928.0,303.6 923.2,303.6 917.2,296.4" fill="#de3020" />
<polygon points="85.5,571.5 88.1,567.6 99.8,567.6 107.6,559.8 118.0,558.5 123.2,567.6 129.7,575.4 136.2,588.4 144.0,598.8 150.5,593.6 151.8,584.5 162.2,580.6 175.2,580.6 183.0,576.7 196.0,575.4 206.4,572.8 216.8,561.1 222.0,549.4 233.7,546.8 235.0,557.2 229.8,562.4 231.1,578.0 240.2,575.4 249.3,576.7 248.0,585.8 241.5,593.6 232.4,604.0 224.6,614.4 206.4,615.7 193.4,614.4 185.6,619.6 180.4,627.4 164.8,623.5 154.4,624.8 149.2,617.0 144.0,611.8 128.4,610.5 112.8,614.4 105.0,614.4 94.6,604.0 85.5,596.2 84.2,585.8" fill="#5fc54b" />
<polygon points="101.1,567.6 105.0,567.6 105.0,575.4 101.1,575.4" fill="#de3020" />
<polygon points="115.4,585.8 119.3,585.8 119.3,588.4 115.4,588.4" fill="#de3020" />
<polygon points="211.6,583.2 215.5,583.2 215.5,585.8 211.6,585.8" fill="#de3020" />
<polygon points="219.4,578.0 222.0,578.0 222.0,580.1 219.4,580.1" fill="#de3020" />
<polygon points="227.2,567.6 229.8,567.6 229.8,578.0 227.2,578.0" fill="#7dd7d7" />
<polygon points="304.7,578.0 313.8,567.6 325.5,562.4 339.8,561.1 343.7,567.6 347.6,583.2 363.2,585.8 365.8,598.8 367.1,614.4 373.6,630.0 373.6,640.4 358.0,640.4 347.6,635.2 337.2,627.4 329.4,614.4 321.6,604.0 313.8,596.2 306.0,585.8" fill="#5fc54b" />
<polygon points="320.3,575.4 325.5,568.9 334.6,567.6 342.4,575.4 345.0,585.8 350.2,591.0 351.5,601.4 339.8,602.7 332.0,601.4 324.2,598.8 320.3,588.4" fill="#de3020" />
<polygon points="397.0,581.9 404.8,580.6 415.2,578.0 419.1,580.6 417.8,593.6 416.5,606.6 410.0,607.9 402.2,607.9 399.6,598.8 398.3,591.0" fill="#5fc54b" />
<polygon points="446.4,575.4 451.6,571.5 459.4,575.4 462.0,583.2 467.2,575.4 472.4,562.4 485.4,557.2 495.8,555.9 508.8,562.4 512.7,570.2 506.2,583.2 498.4,596.2 488.0,609.2 482.8,627.4 469.8,635.2 456.8,637.8 449.0,635.2 443.8,624.8 442.5,611.8 446.4,604.0 456.8,598.8 462.0,593.6 459.4,585.8 451.6,583.2" fill="#5fc54b" />
<polygon points="463.3,583.2 469.8,581.9 480.2,583.2 486.7,588.4 485.4,598.8 477.6,600.1 467.2,597.5 464.6,592.3" fill="#de3020" />
<polygon points="449.0,453.2 454.2,448.0 459.4,444.1 467.2,445.4 472.4,455.8 475.0,459.7 467.2,463.6 462.0,466.2 454.2,463.6 449.0,459.7" fill="#7dd7d7" />
<polygon points="390.5,432.4 395.7,432.4 395.7,435.0 390.5,435.0" fill="#7dd7d7" />
<polygon points="411.3,432.4 416.5,432.4 416.5,435.0 411.3,435.0" fill="#7dd7d7" />
<polygon points="343.7,449.8 348.9,449.8 348.9,452.4 343.7,452.4" fill="#7dd7d7" />
<polygon points="347.1,458.4 352.3,458.4 352.3,461.0 347.1,461.0" fill="#7dd7d7" />
<polygon points="376.7,474.8 381.9,474.8 381.9,477.4 376.7,477.4" fill="#7dd7d7" />
<polygon points="368.9,496.6 374.1,496.6 374.1,499.2 368.9,499.2" fill="#7dd7d7" />
<polygon points="561.6,442.8 565.5,436.3 572.0,433.7 579.8,435.0 583.7,445.4 588.9,453.2 590.2,463.6 591.5,479.2 587.6,487.0 585.0,493.5 575.9,492.2 569.4,489.6 564.2,487.0 562.9,474.0 560.3,461.0 561.6,450.6" fill="#7dd7d7" />
<polygon points="547.3,474.0 552.5,467.5 559.0,464.9 557.7,472.7 559.0,479.2 559.0,483.1 551.2,481.8 548.1,477.9" fill="#5fc54b" />
<polygon points="556.4,472.7 561.6,466.2 568.1,464.9 570.7,470.1 577.2,476.6 582.4,484.4 585.0,489.6 582.4,493.5 575.9,492.2 570.7,488.3 564.2,484.4 557.7,477.9" fill="#de3020" />
<polygon points="626.6,440.2 634.4,433.7 644.8,429.8 657.8,432.4 665.6,437.6 665.6,445.4 664.3,455.8 661.7,463.6 661.7,470.1 652.6,471.4 648.7,467.5 644.8,458.4 642.2,453.2 640.9,446.7 634.4,448.0 629.2,446.7" fill="#7dd7d7" />
<polygon points="699.4,437.6 707.2,433.7 715.0,431.1 722.8,431.1 728.0,437.6 730.6,448.0 735.8,455.8 739.7,463.6 738.4,471.4 728.0,476.6 717.6,484.4 707.2,489.6 703.3,484.4 705.9,479.2 709.8,468.8 707.2,458.4 711.1,450.6 702.0,445.4 699.4,441.5" fill="#7dd7d7" />
<polygon points="702.0,484.4 712.4,474.0 722.8,468.8 731.9,463.6 737.9,464.9 737.1,472.7 728.0,477.9 720.2,481.8 712.4,487.0 707.2,490.9" fill="#5fc54b" />
<polygon points="705.1,481.8 712.4,474.5 722.8,469.3 731.9,464.9 736.3,466.7 735.3,471.9 728.0,476.1 720.2,479.7 712.4,484.4 707.7,489.1" fill="#de3020" />
<polygon points="583.7,619.6 587.6,606.6 595.4,594.9 600.6,589.7 604.5,591.0 608.4,598.8 611.0,609.2 608.4,619.6 605.8,632.6 603.2,640.4 592.8,640.4 585.0,635.2 582.4,627.4" fill="#5fc54b" />
<polygon points="686.4,591.0 689.0,585.8 699.4,585.8 704.6,593.6 709.8,604.0 717.6,609.2 721.5,614.4 720.2,622.2 712.4,627.4 704.6,632.6 696.8,635.2 691.6,630.0 689.0,619.6 687.7,604.0" fill="#5fc54b" />
<polygon points="721.5,566.3 728.0,563.7 738.4,566.3 739.7,570.2 731.9,571.5 726.7,574.1" fill="#7dd7d7" />
<polygon points="850.0,464.0 854.8,452.0 860.8,446.0 871.6,443.6 880.0,448.4 892.0,452.0 895.6,459.2 896.8,468.8 893.2,476.0 888.4,480.8 889.6,484.4 877.6,485.6 865.6,483.2 858.4,479.6 851.2,478.4 848.8,471.2" fill="#7dd7d7" />
<polygon points="816.4,496.4 827.2,492.8 830.8,480.8 839.2,479.6 842.8,485.6 841.6,490.4 846.4,491.6 842.8,495.2 842.8,509.6 834.4,512.0 827.2,507.2 820.0,504.8 816.4,501.2" fill="#5fc54b" />
<polygon points="817.6,497.6 826.0,497.6 826.0,501.2 817.6,501.2" fill="#de3020" />
<polygon points="905.2,485.6 911.2,482.0 919.6,483.2 923.2,490.4 924.4,495.2 918.4,497.6 913.6,501.2 910.0,500.0 906.4,492.8" fill="#5fc54b" />
<polygon points="947.2,471.2 952.0,465.2 958.0,466.4 961.6,472.4 962.8,478.4 956.8,482.0 949.6,480.8 947.2,476.0" fill="#5fc54b" />
<polygon points="937.6,482.0 945.3,480.8 946.0,489.2 938.8,490.4" fill="#7dd7d7" />
<polygon points="784.0,485.6 786.4,482.0 791.2,483.2 794.8,489.2 793.6,491.6 788.8,492.8 785.2,490.4" fill="#5fc54b" />
<polygon points="772.0,522.8 774.4,516.8 784.0,515.6 796.0,518.0 805.6,526.4 815.2,536.0 824.8,543.2 834.4,552.8 841.6,567.2 848.8,576.8 856.0,586.4 865.6,596.0 869.2,608.0 865.6,617.6 851.2,620.0 836.8,623.6 827.2,618.8 822.4,610.4 815.2,600.8 808.0,588.8 798.4,574.4 791.2,564.8 786.4,552.8 776.8,545.6 772.0,538.4" fill="#5fc54b" />
<polygon points="787.6,548.0 794.8,539.6 800.8,538.4 808.0,545.6 820.0,557.6 832.0,574.4 836.8,581.6 840.4,591.2 841.6,603.2 836.8,610.4 824.8,610.4 818.8,600.8 812.8,591.2 803.2,576.8 796.0,567.2 788.8,557.6" fill="#de3020" />
<polygon points="881.2,600.8 884.8,596.0 894.4,586.4 904.0,576.8 916.0,562.4 928.0,552.8 942.4,540.8 954.4,533.6 966.4,524.0 971.2,521.6 972.4,533.6 968.8,538.4 966.4,548.0 965.2,555.2 961.6,564.8 949.6,569.6 942.4,579.2 937.6,591.2 932.8,608.0 932.8,620.0 918.4,621.2 904.0,618.8 894.4,615.2 884.8,610.4" fill="#5fc54b" />
<polygon points="942.4,576.8 949.6,567.2 959.2,557.6 966.4,554.0 966.9,567.2 961.6,574.4 952.0,576.8" fill="#7dd7d7" />
<polygon points="908.8,586.4 916.0,576.8 925.6,564.8 937.6,558.8 949.6,556.4 952.0,562.4 944.8,572.0 938.8,584.0 932.8,591.2 928.0,598.4 923.2,604.4 916.0,604.4 911.2,596.0" fill="#de3020" />
<text transform="translate(29.24,64.50) scale(0.9290,1)" font-size="59.5" fill="#fff" font-weight="bold">a</text>
<text transform="translate(251.21,62.80) scale(0.9476,1)" font-size="46" fill="#fff">Incongruent vs. Congruent</text>
<text transform="translate(47.20,280.58) rotate(-90) scale(0.9415,1)" font-size="43" fill="#fff">Stroop</text>
<text transform="translate(47.20,596.32) rotate(-90) scale(0.9587,1)" font-size="43" fill="#fff">Swimmy</text>
<text transform="translate(502.77,128.80) scale(0.9661,1)" font-size="28.2" fill="#fff">lPFC</text>
<text transform="translate(701.08,118.80) scale(0.9622,1)" font-size="28" fill="#fff">mPFC/ACC</text>
<text transform="translate(236.59,343.40) scale(1.0111,1)" font-size="26.4" fill="#fff">OTC</text>
<text transform="translate(137.53,381.90) scale(0.9844,1)" font-size="27.4" fill="#fff">Lobule VI/Crus I</text>
<text transform="translate(757.83,354.20) scale(0.9849,1)" font-size="27.1" fill="#fff">PPC</text>
<polygon points="549.7,158.6 526.3,131.9 526.0,141.5 516.4,146.0" fill="#fff" stroke="none" stroke-width="1.6" stroke-linejoin="miter"/>
<polygon points="666.5,138.0 692.2,108.2 691.8,119.8 702.8,123.2" fill="#fff" stroke="#000" stroke-width="1.6" stroke-linejoin="miter"/>
<polygon points="320.0,298.2 289.0,314.5 298.8,317.0 300.5,327.8" fill="#fff" stroke="none" stroke-width="1.6" stroke-linejoin="miter"/>
<polygon points="210.5,323.0 191.0,351.4 203.5,347.2 207.7,357.7" fill="#fff" stroke="none" stroke-width="1.6" stroke-linejoin="miter"/>
<polygon points="796.3,292.0 775.0,320.4 786.2,318.4 790.8,327.2" fill="#fff" stroke="none" stroke-width="1.6" stroke-linejoin="miter"/>
<text transform="translate(123.01,692.80) scale(0.9882,1)" font-size="27.2" fill="#fff">Z = -24</text>
<text transform="translate(363.01,692.80) scale(0.9882,1)" font-size="27.2" fill="#fff">Z = -12</text>
<text transform="translate(604.98,692.80) scale(1.0158,1)" font-size="27.2" fill="#fff">Z = 26</text>
<text transform="translate(834.19,692.80) scale(1.0105,1)" font-size="27.2" fill="#fff">Z = 46</text>
<rect x="69" y="730" width="29.5" height="28.5" fill="#7dd7d7"/>
<rect x="69" y="767.5" width="29.5" height="28.5" fill="#5fc54b"/>
<rect x="69" y="805" width="29.5" height="28.5" fill="#de3020"/>
<text transform="translate(106.36,757.40) scale(1.0201,1)" font-size="29.6" fill="#fff">Meta-analysis (Stroop) only</text>
<text transform="translate(106.36,795.00) scale(1.0220,1)" font-size="29.6" fill="#fff">Current results only</text>
<text transform="translate(106.34,832.40) scale(1.0283,1)" font-size="29.6" fill="#fff">Current results</text>
<text transform="translate(344.98,832.40) scale(1.0111,1)" font-size="29.6" fill="#fff">Meta-analysis</text>
<path d="M317,832.3 V820.5 A8,8.6 0 0 1 333,820.5 V832.3" fill="none" stroke="#fff" stroke-width="2.1"/>
<defs><clipPath id="surfclip"><path d="M607.5,797.5 C607.7,790.8 609.2,778.1 612.5,770.0 C615.8,761.9 621.2,754.8 627.5,748.8 C633.8,742.7 641.7,737.9 650.0,733.8 C658.3,729.6 667.9,726.1 677.5,723.8 C687.1,721.4 697.9,720.5 707.5,719.5 C717.1,718.5 727.1,717.4 735.0,718.0 C742.9,718.6 748.3,720.5 755.0,723.0 C761.7,725.5 769.2,728.9 775.0,733.0 C780.8,737.1 785.6,742.4 790.0,747.5 C794.4,752.6 797.9,758.3 801.2,763.8 C804.6,769.2 807.5,774.4 810.0,780.0 C812.5,785.6 814.9,792.1 816.2,797.5 C817.6,802.9 818.4,807.5 818.0,812.5 C817.6,817.5 816.3,823.4 813.8,827.5 C811.2,831.6 808.1,834.4 802.5,837.0 C796.9,839.6 788.8,841.2 780.0,843.0 C771.2,844.8 760.0,845.9 750.0,847.5 C740.0,849.1 729.2,850.8 720.0,852.5 C710.8,854.2 702.3,857.1 695.0,857.5 C687.7,857.9 680.8,856.9 676.2,855.0 C671.7,853.1 669.2,849.4 667.5,846.2 C665.8,843.1 667.9,838.5 666.2,836.2 C664.6,834.0 661.9,833.8 657.5,832.5 C653.1,831.2 645.8,830.6 640.0,828.8 C634.2,826.9 627.3,824.4 622.5,821.2 C617.7,818.1 613.8,814.0 611.2,810.0 C608.8,806.0 607.3,804.2 607.5,797.5 Z"/></clipPath>
<filter id="sblur" filterUnits="userSpaceOnUse" x="0" y="0" width="1000" height="900"><feGaussianBlur stdDeviation="2.5"/></filter>
<filter id="sblur1" filterUnits="userSpaceOnUse" x="0" y="0" width="1000" height="900"><feGaussianBlur stdDeviation="1.2"/></filter></defs>
<g clip-path="url(#surfclip)">
<path d="M607.5,797.5 C607.7,790.8 609.2,778.1 612.5,770.0 C615.8,761.9 621.2,754.8 627.5,748.8 C633.8,742.7 641.7,737.9 650.0,733.8 C658.3,729.6 667.9,726.1 677.5,723.8 C687.1,721.4 697.9,720.5 707.5,719.5 C717.1,718.5 727.1,717.4 735.0,718.0 C742.9,718.6 748.3,720.5 755.0,723.0 C761.7,725.5 769.2,728.9 775.0,733.0 C780.8,737.1 785.6,742.4 790.0,747.5 C794.4,752.6 797.9,758.3 801.2,763.8 C804.6,769.2 807.5,774.4 810.0,780.0 C812.5,785.6 814.9,792.1 816.2,797.5 C817.6,802.9 818.4,807.5 818.0,812.5 C817.6,817.5 816.3,823.4 813.8,827.5 C811.2,831.6 808.1,834.4 802.5,837.0 C796.9,839.6 788.8,841.2 780.0,843.0 C771.2,844.8 760.0,845.9 750.0,847.5 C740.0,849.1 729.2,850.8 720.0,852.5 C710.8,854.2 702.3,857.1 695.0,857.5 C687.7,857.9 680.8,856.9 676.2,855.0 C671.7,853.1 669.2,849.4 667.5,846.2 C665.8,843.1 667.9,838.5 666.2,836.2 C664.6,834.0 661.9,833.8 657.5,832.5 C653.1,831.2 645.8,830.6 640.0,828.8 C634.2,826.9 627.3,824.4 622.5,821.2 C617.7,818.1 613.8,814.0 611.2,810.0 C608.8,806.0 607.3,804.2 607.5,797.5 Z" fill="#8c8c8c"/>
<polyline points="617.5,800.0 627.5,775.0 652.5,752.5 690.0,735.0 707.5,730.0" fill="none" stroke="#b2b2b2" stroke-width="16" stroke-linecap="round" stroke-linejoin="round" filter="url(#sblur)"/>
<polyline points="625.0,810.0 650.0,787.5 672.5,780.0 690.0,762.5 705.0,735.0" fill="none" stroke="#b2b2b2" stroke-width="16" stroke-linecap="round" stroke-linejoin="round" filter="url(#sblur)"/>
<polyline points="720.0,730.0 715.0,760.0 730.0,772.5 750.0,767.5" fill="none" stroke="#b2b2b2" stroke-width="16" stroke-linecap="round" stroke-linejoin="round" filter="url(#sblur)"/>
<polyline points="745.0,732.5 765.0,745.0 780.0,762.5 795.0,780.0 805.0,800.0" fill="none" stroke="#b2b2b2" stroke-width="16" stroke-linecap="round" stroke-linejoin="round" filter="url(#sblur)"/>
<polyline points="672.5,840.0 702.5,830.0 740.0,817.5 770.0,810.0 802.5,812.5" fill="none" stroke="#b2b2b2" stroke-width="16" stroke-linecap="round" stroke-linejoin="round" filter="url(#sblur)"/>
<polyline points="690.0,850.0 740.0,840.0 790.0,830.0" fill="none" stroke="#b2b2b2" stroke-width="16" stroke-linecap="round" stroke-linejoin="round" filter="url(#sblur)"/>
<polyline points="752.5,787.5 770.0,780.0 790.0,782.5 807.5,800.0" fill="none" stroke="#b2b2b2" stroke-width="16" stroke-linecap="round" stroke-linejoin="round" filter="url(#sblur)"/>
<polyline points="665.0,740.0 672.5,762.5 662.5,787.5" fill="none" stroke="#7e7e7e" stroke-width="5" stroke-linecap="round" stroke-linejoin="round" filter="url(#sblur1)"/>
<polyline points="710.0,722.5 702.5,755.0 690.0,780.0" fill="none" stroke="#7e7e7e" stroke-width="5" stroke-linecap="round" stroke-linejoin="round" filter="url(#sblur1)"/>
<polyline points="730.0,725.0 725.0,747.5 740.0,767.5" fill="none" stroke="#7e7e7e" stroke-width="5" stroke-linecap="round" stroke-linejoin="round" filter="url(#sblur1)"/>
<polyline points="765.0,737.5 752.5,755.0 765.0,770.0" fill="none" stroke="#7e7e7e" stroke-width="5" stroke-linecap="round" stroke-linejoin="round" filter="url(#sblur1)"/>
<polyline points="785.0,762.5 780.0,787.5" fill="none" stroke="#7e7e7e" stroke-width="5" stroke-linecap="round" stroke-linejoin="round" filter="url(#sblur1)"/>
<polyline points="630.0,787.5 652.5,772.5" fill="none" stroke="#7e7e7e" stroke-width="5" stroke-linecap="round" stroke-linejoin="round" filter="url(#sblur1)"/>
<polyline points="677.5,845.0 740.0,835.0 795.0,822.5" fill="none" stroke="#7e7e7e" stroke-width="5" stroke-linecap="round" stroke-linejoin="round" filter="url(#sblur1)"/>
<path d="M643.8,813.8 C645.0,811.0 647.7,806.4 652.5,803.8 C657.3,801.1 665.0,799.9 672.5,798.0 C680.0,796.1 689.2,794.8 697.5,792.5 C705.8,790.2 715.4,786.7 722.5,784.5 C729.6,782.3 736.0,779.4 740.0,779.5 C744.0,779.6 746.7,782.4 746.2,785.0 C745.8,787.6 742.7,792.0 737.5,795.0 C732.3,798.0 722.5,800.6 715.0,803.0 C707.5,805.4 700.0,807.0 692.5,809.5 C685.0,812.0 676.7,815.8 670.0,818.0 C663.3,820.2 656.7,822.6 652.5,823.0 C648.3,823.4 646.5,822.0 645.0,820.5 C643.5,819.0 642.5,816.5 643.8,813.8 Z" fill="#626262" filter="url(#sblur)"/>
<polyline points="657.5,828.8 665.0,833.8 667.5,845.0" fill="none" stroke="#222" stroke-width="4" stroke-linecap="round" stroke-linejoin="round" filter="url(#sblur1)"/>
</g>
<line x1="584.4" y1="754.0" x2="838.2" y2="751.5" stroke="#e9dc3c" stroke-width="3.6" stroke-linecap="butt"/>
<line x1="584.4" y1="779.9" x2="838.2" y2="777.4" stroke="#e9dc3c" stroke-width="3.6" stroke-linecap="butt"/>
<line x1="584.4" y1="824.9" x2="838.2" y2="822.4" stroke="#e9dc3c" stroke-width="3.6" stroke-linecap="butt"/>
<line x1="584.4" y1="841.1" x2="838.2" y2="838.6" stroke="#e9dc3c" stroke-width="3.6" stroke-linecap="butt"/>
<text transform="translate(846.09,756.90) scale(1.1127,1)" font-size="19.9" fill="#fff">Z = 46</text>
<text transform="translate(846.09,782.00) scale(1.1127,1)" font-size="19.9" fill="#fff">Z = 26</text>
<text transform="translate(846.10,827.80) scale(1.1032,1)" font-size="19.9" fill="#fff">Z = -12</text>
<text transform="translate(846.10,843.30) scale(1.1032,1)" font-size="19.9" fill="#fff">Z = -24</text>
<text transform="translate(6.00,946.80) scale(1.0000,1)" font-size="60.3" fill="#000" font-weight="bold">b</text>
<text transform="translate(147.77,927.20) scale(1.0300,1)" font-size="32" fill="#000">a.u.</text>
<text transform="translate(71.00,1504.59) rotate(-90) scale(0.9468,1)" font-size="46" fill="#000">Incongruent vs. Congruent</text>
<line x1="148.2" y1="938.0" x2="148.2" y2="1559.7" stroke="#262626" stroke-width="3.6" stroke-linecap="butt"/>
<line x1="148.2" y1="938.0" x2="159.5" y2="938.0" stroke="#262626" stroke-width="3.2" stroke-linecap="round"/>
<text transform="translate(94.70,944.96) scale(0.9024,1)" font-size="32" fill="#000">1.4</text>
<line x1="148.2" y1="1015.7" x2="159.5" y2="1015.7" stroke="#262626" stroke-width="3.2" stroke-linecap="round"/>
<text transform="translate(94.65,1022.68) scale(0.9244,1)" font-size="32" fill="#000">1.2</text>
<line x1="148.2" y1="1093.4" x2="159.5" y2="1093.4" stroke="#262626" stroke-width="3.2" stroke-linecap="round"/>
<text transform="translate(94.65,1100.40) scale(0.9244,1)" font-size="32" fill="#000">1.0</text>
<line x1="148.2" y1="1171.1" x2="159.5" y2="1171.1" stroke="#262626" stroke-width="3.2" stroke-linecap="round"/>
<text transform="translate(93.45,1178.12) scale(0.9524,1)" font-size="32" fill="#000">0.8</text>
<line x1="148.2" y1="1248.8" x2="159.5" y2="1248.8" stroke="#262626" stroke-width="3.2" stroke-linecap="round"/>
<text transform="translate(93.45,1255.84) scale(0.9524,1)" font-size="32" fill="#000">0.6</text>
<line x1="148.2" y1="1326.6" x2="159.5" y2="1326.6" stroke="#262626" stroke-width="3.2" stroke-linecap="round"/>
<text transform="translate(93.47,1333.56) scale(0.9302,1)" font-size="32" fill="#000">0.4</text>
<line x1="148.2" y1="1404.3" x2="159.5" y2="1404.3" stroke="#262626" stroke-width="3.2" stroke-linecap="round"/>
<text transform="translate(93.45,1411.28) scale(0.9524,1)" font-size="32" fill="#000">0.2</text>
<line x1="148.2" y1="1482.0" x2="159.5" y2="1482.0" stroke="#262626" stroke-width="3.2" stroke-linecap="round"/>
<text transform="translate(93.45,1489.00) scale(0.9524,1)" font-size="32" fill="#000">0.0</text>
<line x1="148.2" y1="1559.7" x2="159.5" y2="1559.7" stroke="#262626" stroke-width="3.2" stroke-linecap="round"/>
<text transform="translate(83.05,1566.72) scale(0.9509,1)" font-size="32" fill="#000">-0.2</text>
<line x1="148.2" y1="1482.0" x2="963.0" y2="1482.0" stroke="#222" stroke-width="3.4" stroke-linecap="round"/>
<rect x="208.1" y="1321.1" width="69.8" height="160.9" fill="#c1c2c2" stroke="#000" stroke-width="5.2" stroke-linejoin="round"/>
<line x1="243.0" y1="1307.8" x2="243.0" y2="1334.5" stroke="#000" stroke-width="5" stroke-linecap="butt"/>
<line x1="235.5" y1="1307.8" x2="250.5" y2="1307.8" stroke="#000" stroke-width="5" stroke-linecap="round"/>
<line x1="235.5" y1="1334.5" x2="250.5" y2="1334.5" stroke="#000" stroke-width="5" stroke-linecap="round"/>
<rect x="326.6" y="1432.3" width="69.8" height="49.7" fill="#c1c2c2" stroke="#000" stroke-width="5.2" stroke-linejoin="round"/>
<line x1="361.5" y1="1423.0" x2="361.5" y2="1440.0" stroke="#000" stroke-width="5" stroke-linecap="butt"/>
<line x1="354.0" y1="1423.0" x2="369.0" y2="1423.0" stroke="#000" stroke-width="5" stroke-linecap="round"/>
<line x1="354.0" y1="1440.0" x2="369.0" y2="1440.0" stroke="#000" stroke-width="5" stroke-linecap="round"/>
<rect x="446.1" y="1417.9" width="69.8" height="64.1" fill="#c1c2c2" stroke="#000" stroke-width="5.2" stroke-linejoin="round"/>
<line x1="481.0" y1="1408.8" x2="481.0" y2="1426.0" stroke="#000" stroke-width="5" stroke-linecap="butt"/>
<line x1="473.5" y1="1408.8" x2="488.5" y2="1408.8" stroke="#000" stroke-width="5" stroke-linecap="round"/>
<line x1="473.5" y1="1426.0" x2="488.5" y2="1426.0" stroke="#000" stroke-width="5" stroke-linecap="round"/>
<rect x="612.9" y="1355.7" width="69.8" height="126.3" fill="#c1c2c2" stroke="#000" stroke-width="5.2" stroke-linejoin="round"/>
<line x1="647.8" y1="1342.8" x2="647.8" y2="1367.3" stroke="#000" stroke-width="5" stroke-linecap="butt"/>
<line x1="640.3" y1="1342.8" x2="655.3" y2="1342.8" stroke="#000" stroke-width="5" stroke-linecap="round"/>
<line x1="640.3" y1="1367.3" x2="655.3" y2="1367.3" stroke="#000" stroke-width="5" stroke-linecap="round"/>
<rect x="734.6" y="1461.0" width="69.8" height="21.0" fill="#c1c2c2" stroke="#000" stroke-width="5.2" stroke-linejoin="round"/>
<line x1="769.5" y1="1451.3" x2="769.5" y2="1468.8" stroke="#000" stroke-width="5" stroke-linecap="butt"/>
<line x1="762.0" y1="1451.3" x2="777.0" y2="1451.3" stroke="#000" stroke-width="5" stroke-linecap="round"/>
<line x1="762.0" y1="1468.8" x2="777.0" y2="1468.8" stroke="#000" stroke-width="5" stroke-linecap="round"/>
<rect x="853.6" y="1399.6" width="69.8" height="82.4" fill="#c1c2c2" stroke="#000" stroke-width="5.2" stroke-linejoin="round"/>
<line x1="888.5" y1="1391.8" x2="888.5" y2="1411.7" stroke="#000" stroke-width="5" stroke-linecap="butt"/>
<line x1="881.0" y1="1391.8" x2="896.0" y2="1391.8" stroke="#000" stroke-width="5" stroke-linecap="round"/>
<line x1="881.0" y1="1411.7" x2="896.0" y2="1411.7" stroke="#000" stroke-width="5" stroke-linecap="round"/>
<g fill="rgba(126,126,126,0.5)" stroke="rgba(70,70,70,0.55)" stroke-width="1">
<circle cx="242.4" cy="922.7" r="6.9"/>
<circle cx="243.2" cy="1047.4" r="6.9"/>
<circle cx="234.0" cy="1155.8" r="6.9"/>
<circle cx="252.1" cy="1183.3" r="6.9"/>
<circle cx="242.6" cy="1191.6" r="6.9"/>
<circle cx="228.7" cy="1198.1" r="6.9"/>
<circle cx="217.3" cy="1204.6" r="6.9"/>
<circle cx="237.1" cy="1206.7" r="6.9"/>
<circle cx="270.3" cy="1220.6" r="6.9"/>
<circle cx="266.1" cy="1226.2" r="6.9"/>
<circle cx="280.7" cy="1226.9" r="6.9"/>
<circle cx="212.4" cy="1245.7" r="6.9"/>
<circle cx="208.9" cy="1254.7" r="6.9"/>
<circle cx="229.1" cy="1241.5" r="6.9"/>
<circle cx="231.2" cy="1245.0" r="6.9"/>
<circle cx="248.0" cy="1252.0" r="6.9"/>
<circle cx="260.5" cy="1248.5" r="6.9"/>
<circle cx="227.0" cy="1260.3" r="6.9"/>
<circle cx="260.5" cy="1261.0" r="6.9"/>
<circle cx="215.9" cy="1265.9" r="6.9"/>
<circle cx="246.6" cy="1273.6" r="6.9"/>
<circle cx="279.3" cy="1272.9" r="6.9"/>
<circle cx="264.0" cy="1294.5" r="6.9"/>
<circle cx="260.5" cy="1300.7" r="6.9"/>
<circle cx="264.0" cy="1300.0" r="6.9"/>
<circle cx="243.8" cy="1315.4" r="6.9"/>
<circle cx="233.3" cy="1319.6" r="6.9"/>
<circle cx="234.0" cy="1326.5" r="6.9"/>
<circle cx="282.8" cy="1325.8" r="6.9"/>
<circle cx="206.1" cy="1333.5" r="6.9"/>
<circle cx="201.2" cy="1340.5" r="6.9"/>
<circle cx="227.7" cy="1334.9" r="6.9"/>
<circle cx="243.8" cy="1333.5" r="6.9"/>
<circle cx="215.2" cy="1344.7" r="6.9"/>
<circle cx="211.0" cy="1353.0" r="6.9"/>
<circle cx="266.8" cy="1346.0" r="6.9"/>
<circle cx="288.4" cy="1349.5" r="6.9"/>
<circle cx="284.2" cy="1353.0" r="6.9"/>
<circle cx="284.2" cy="1362.8" r="6.9"/>
<circle cx="232.6" cy="1364.9" r="6.9"/>
<circle cx="230.5" cy="1381.6" r="6.9"/>
<circle cx="239.6" cy="1379.5" r="6.9"/>
<circle cx="263.3" cy="1384.4" r="6.9"/>
<circle cx="288.4" cy="1376.7" r="6.9"/>
<circle cx="280.7" cy="1380.2" r="6.9"/>
<circle cx="260.5" cy="1394.8" r="6.9"/>
<circle cx="263.3" cy="1398.3" r="6.9"/>
<circle cx="208.9" cy="1410.9" r="6.9"/>
<circle cx="272.3" cy="1412.3" r="6.9"/>
<circle cx="216.6" cy="1426.9" r="6.9"/>
<circle cx="218.7" cy="1433.9" r="6.9"/>
<circle cx="255.6" cy="1435.3" r="6.9"/>
<circle cx="268.9" cy="1433.9" r="6.9"/>
<circle cx="264.7" cy="1440.8" r="6.9"/>
<circle cx="281.4" cy="1432.5" r="6.9"/>
<circle cx="278.6" cy="1438.8" r="6.9"/>
<circle cx="222.9" cy="1452.7" r="6.9"/>
<circle cx="241.7" cy="1449.9" r="6.9"/>
<circle cx="254.9" cy="1452.0" r="6.9"/>
<circle cx="220.1" cy="1462.5" r="6.9"/>
<circle cx="243.1" cy="1459.0" r="6.9"/>
<circle cx="251.4" cy="1525.9" r="6.9"/>
<circle cx="360.5" cy="1244.3" r="6.9"/>
<circle cx="371.5" cy="1305.9" r="6.9"/>
<circle cx="356.1" cy="1318.6" r="6.9"/>
<circle cx="368.7" cy="1327.9" r="6.9"/>
<circle cx="368.2" cy="1331.8" r="6.9"/>
<circle cx="345.6" cy="1337.8" r="6.9"/>
<circle cx="354.1" cy="1349.4" r="6.9"/>
<circle cx="362.7" cy="1356.0" r="6.9"/>
<circle cx="364.3" cy="1360.4" r="6.9"/>
<circle cx="352.2" cy="1359.3" r="6.9"/>
<circle cx="356.6" cy="1365.3" r="6.9"/>
<circle cx="339.0" cy="1368.6" r="6.9"/>
<circle cx="344.0" cy="1369.2" r="6.9"/>
<circle cx="374.8" cy="1383.5" r="6.9"/>
<circle cx="392.9" cy="1381.8" r="6.9"/>
<circle cx="333.5" cy="1392.8" r="6.9"/>
<circle cx="389.6" cy="1391.7" r="6.9"/>
<circle cx="380.8" cy="1398.2" r="6.9"/>
<circle cx="392.9" cy="1401.5" r="6.9"/>
<circle cx="353.3" cy="1410.3" r="6.9"/>
<circle cx="397.9" cy="1413.1" r="6.9"/>
<circle cx="360.5" cy="1419.1" r="6.9"/>
<circle cx="350.0" cy="1422.4" r="6.9"/>
<circle cx="336.8" cy="1427.9" r="6.9"/>
<circle cx="347.8" cy="1427.9" r="6.9"/>
<circle cx="324.7" cy="1432.3" r="6.9"/>
<circle cx="319.8" cy="1435.6" r="6.9"/>
<circle cx="332.4" cy="1432.3" r="6.9"/>
<circle cx="394.6" cy="1426.8" r="6.9"/>
<circle cx="410.5" cy="1431.8" r="6.9"/>
<circle cx="384.1" cy="1437.3" r="6.9"/>
<circle cx="383.0" cy="1444.4" r="6.9"/>
<circle cx="380.8" cy="1447.7" r="6.9"/>
<circle cx="402.3" cy="1442.2" r="6.9"/>
<circle cx="346.7" cy="1443.9" r="6.9"/>
<circle cx="352.2" cy="1452.7" r="6.9"/>
<circle cx="362.1" cy="1451.0" r="6.9"/>
<circle cx="335.2" cy="1455.4" r="6.9"/>
<circle cx="400.6" cy="1453.8" r="6.9"/>
<circle cx="399.5" cy="1458.7" r="6.9"/>
<circle cx="329.1" cy="1463.7" r="6.9"/>
<circle cx="377.5" cy="1464.2" r="6.9"/>
<circle cx="375.3" cy="1466.4" r="6.9"/>
<circle cx="336.8" cy="1470.8" r="6.9"/>
<circle cx="387.4" cy="1476.3" r="6.9"/>
<circle cx="335.7" cy="1489.0" r="6.9"/>
<circle cx="340.1" cy="1485.7" r="6.9"/>
<circle cx="362.1" cy="1500.0" r="6.9"/>
<circle cx="359.9" cy="1507.1" r="6.9"/>
<circle cx="355.5" cy="1515.4" r="6.9"/>
<circle cx="364.3" cy="1517.6" r="6.9"/>
<circle cx="347.8" cy="1520.9" r="6.9"/>
<circle cx="383.0" cy="1514.8" r="6.9"/>
<circle cx="383.6" cy="1517.0" r="6.9"/>
<circle cx="375.9" cy="1539.0" r="6.9"/>
<circle cx="365.4" cy="1557.2" r="6.9"/>
<circle cx="364.3" cy="1578.1" r="6.9"/>
<circle cx="479.8" cy="1127.9" r="6.9"/>
<circle cx="480.0" cy="1302.0" r="6.9"/>
<circle cx="485.7" cy="1301.4" r="6.9"/>
<circle cx="487.9" cy="1316.3" r="6.9"/>
<circle cx="455.8" cy="1343.1" r="6.9"/>
<circle cx="464.1" cy="1338.2" r="6.9"/>
<circle cx="479.7" cy="1340.4" r="6.9"/>
<circle cx="492.1" cy="1342.0" r="6.9"/>
<circle cx="506.4" cy="1334.9" r="6.9"/>
<circle cx="504.2" cy="1345.9" r="6.9"/>
<circle cx="473.1" cy="1359.6" r="6.9"/>
<circle cx="496.0" cy="1356.3" r="6.9"/>
<circle cx="493.8" cy="1361.8" r="6.9"/>
<circle cx="510.3" cy="1364.0" r="6.9"/>
<circle cx="448.1" cy="1378.9" r="6.9"/>
<circle cx="466.3" cy="1376.1" r="6.9"/>
<circle cx="483.3" cy="1377.8" r="6.9"/>
<circle cx="480.0" cy="1384.9" r="6.9"/>
<circle cx="496.5" cy="1386.6" r="6.9"/>
<circle cx="444.3" cy="1394.3" r="6.9"/>
<circle cx="452.0" cy="1394.8" r="6.9"/>
<circle cx="465.2" cy="1397.0" r="6.9"/>
<circle cx="516.3" cy="1392.6" r="6.9"/>
<circle cx="520.7" cy="1392.6" r="6.9"/>
<circle cx="471.2" cy="1406.9" r="6.9"/>
<circle cx="456.9" cy="1410.8" r="6.9"/>
<circle cx="450.9" cy="1414.1" r="6.9"/>
<circle cx="471.2" cy="1413.5" r="6.9"/>
<circle cx="486.1" cy="1426.2" r="6.9"/>
<circle cx="476.7" cy="1432.8" r="6.9"/>
<circle cx="496.5" cy="1430.0" r="6.9"/>
<circle cx="502.6" cy="1436.6" r="6.9"/>
<circle cx="443.7" cy="1442.7" r="6.9"/>
<circle cx="452.5" cy="1442.7" r="6.9"/>
<circle cx="465.7" cy="1445.4" r="6.9"/>
<circle cx="498.7" cy="1446.5" r="6.9"/>
<circle cx="504.2" cy="1444.3" r="6.9"/>
<circle cx="519.1" cy="1443.8" r="6.9"/>
<circle cx="481.1" cy="1454.8" r="6.9"/>
<circle cx="441.0" cy="1463.0" r="6.9"/>
<circle cx="450.3" cy="1463.0" r="6.9"/>
<circle cx="467.9" cy="1465.2" r="6.9"/>
<circle cx="508.6" cy="1466.3" r="6.9"/>
<circle cx="527.3" cy="1472.9" r="6.9"/>
<circle cx="472.3" cy="1476.2" r="6.9"/>
<circle cx="447.0" cy="1478.4" r="6.9"/>
<circle cx="451.4" cy="1479.0" r="6.9"/>
<circle cx="445.4" cy="1483.9" r="6.9"/>
<circle cx="478.9" cy="1486.1" r="6.9"/>
<circle cx="495.4" cy="1489.4" r="6.9"/>
<circle cx="498.2" cy="1486.1" r="6.9"/>
<circle cx="510.3" cy="1481.7" r="6.9"/>
<circle cx="515.2" cy="1486.7" r="6.9"/>
<circle cx="518.5" cy="1487.8" r="6.9"/>
<circle cx="509.2" cy="1504.8" r="6.9"/>
<circle cx="498.7" cy="1507.0" r="6.9"/>
<circle cx="497.1" cy="1512.5" r="6.9"/>
<circle cx="476.7" cy="1553.2" r="6.9"/>
<circle cx="650.0" cy="1094.9" r="6.9"/>
<circle cx="650.6" cy="1104.3" r="6.9"/>
<circle cx="645.1" cy="1215.9" r="6.9"/>
<circle cx="636.8" cy="1224.7" r="6.9"/>
<circle cx="634.1" cy="1242.9" r="6.9"/>
<circle cx="633.0" cy="1250.6" r="6.9"/>
<circle cx="665.4" cy="1237.9" r="6.9"/>
<circle cx="659.9" cy="1245.6" r="6.9"/>
<circle cx="664.9" cy="1271.5" r="6.9"/>
<circle cx="661.0" cy="1274.8" r="6.9"/>
<circle cx="633.0" cy="1288.5" r="6.9"/>
<circle cx="640.7" cy="1288.0" r="6.9"/>
<circle cx="661.0" cy="1297.3" r="6.9"/>
<circle cx="650.0" cy="1303.4" r="6.9"/>
<circle cx="620.3" cy="1314.3" r="6.9"/>
<circle cx="647.8" cy="1313.2" r="6.9"/>
<circle cx="679.2" cy="1311.6" r="6.9"/>
<circle cx="677.0" cy="1316.5" r="6.9"/>
<circle cx="612.1" cy="1327.5" r="6.9"/>
<circle cx="608.8" cy="1335.8" r="6.9"/>
<circle cx="638.5" cy="1338.5" r="6.9"/>
<circle cx="659.9" cy="1344.0" r="6.9"/>
<circle cx="685.8" cy="1338.5" r="6.9"/>
<circle cx="689.1" cy="1346.8" r="6.9"/>
<circle cx="598.9" cy="1356.1" r="6.9"/>
<circle cx="627.5" cy="1359.4" r="6.9"/>
<circle cx="648.9" cy="1358.3" r="6.9"/>
<circle cx="647.8" cy="1362.7" r="6.9"/>
<circle cx="618.7" cy="1366.0" r="6.9"/>
<circle cx="696.8" cy="1361.1" r="6.9"/>
<circle cx="689.1" cy="1371.5" r="6.9"/>
<circle cx="645.6" cy="1374.8" r="6.9"/>
<circle cx="647.3" cy="1376.5" r="6.9"/>
<circle cx="664.9" cy="1372.6" r="6.9"/>
<circle cx="662.7" cy="1379.8" r="6.9"/>
<circle cx="612.1" cy="1396.8" r="6.9"/>
<circle cx="628.6" cy="1396.8" r="6.9"/>
<circle cx="627.5" cy="1399.6" r="6.9"/>
<circle cx="683.0" cy="1403.4" r="6.9"/>
<circle cx="663.2" cy="1408.4" r="6.9"/>
<circle cx="633.0" cy="1419.9" r="6.9"/>
<circle cx="631.3" cy="1420.5" r="6.9"/>
<circle cx="649.5" cy="1422.1" r="6.9"/>
<circle cx="661.0" cy="1427.1" r="6.9"/>
<circle cx="670.4" cy="1429.8" r="6.9"/>
<circle cx="615.4" cy="1432.6" r="6.9"/>
<circle cx="639.6" cy="1448.0" r="6.9"/>
<circle cx="670.9" cy="1460.6" r="6.9"/>
<circle cx="631.3" cy="1482.1" r="6.9"/>
<circle cx="639.6" cy="1478.8" r="6.9"/>
<circle cx="633.0" cy="1510.1" r="6.9"/>
<circle cx="648.9" cy="1512.3" r="6.9"/>
<circle cx="658.8" cy="1514.0" r="6.9"/>
<circle cx="640.1" cy="1527.7" r="6.9"/>
<circle cx="773.0" cy="1296.3" r="6.9"/>
<circle cx="776.6" cy="1331.8" r="6.9"/>
<circle cx="781.9" cy="1342.2" r="6.9"/>
<circle cx="757.9" cy="1360.7" r="6.9"/>
<circle cx="751.9" cy="1372.5" r="6.9"/>
<circle cx="782.1" cy="1369.2" r="6.9"/>
<circle cx="792.6" cy="1381.3" r="6.9"/>
<circle cx="790.9" cy="1382.9" r="6.9"/>
<circle cx="762.3" cy="1388.4" r="6.9"/>
<circle cx="758.5" cy="1387.3" r="6.9"/>
<circle cx="746.9" cy="1393.4" r="6.9"/>
<circle cx="792.9" cy="1395.0" r="6.9"/>
<circle cx="770.0" cy="1404.4" r="6.9"/>
<circle cx="789.3" cy="1408.2" r="6.9"/>
<circle cx="781.0" cy="1419.2" r="6.9"/>
<circle cx="772.2" cy="1425.3" r="6.9"/>
<circle cx="762.9" cy="1427.5" r="6.9"/>
<circle cx="744.7" cy="1436.8" r="6.9"/>
<circle cx="755.2" cy="1442.9" r="6.9"/>
<circle cx="788.7" cy="1448.9" r="6.9"/>
<circle cx="800.8" cy="1444.0" r="6.9"/>
<circle cx="723.8" cy="1459.9" r="6.9"/>
<circle cx="768.9" cy="1460.5" r="6.9"/>
<circle cx="817.3" cy="1467.6" r="6.9"/>
<circle cx="750.8" cy="1471.0" r="6.9"/>
<circle cx="749.1" cy="1473.2" r="6.9"/>
<circle cx="786.5" cy="1469.9" r="6.9"/>
<circle cx="787.6" cy="1474.3" r="6.9"/>
<circle cx="728.8" cy="1478.7" r="6.9"/>
<circle cx="738.1" cy="1477.0" r="6.9"/>
<circle cx="747.5" cy="1479.8" r="6.9"/>
<circle cx="760.1" cy="1480.3" r="6.9"/>
<circle cx="782.7" cy="1477.6" r="6.9"/>
<circle cx="788.2" cy="1486.4" r="6.9"/>
<circle cx="784.3" cy="1488.6" r="6.9"/>
<circle cx="809.1" cy="1490.8" r="6.9"/>
<circle cx="724.9" cy="1496.3" r="6.9"/>
<circle cx="769.5" cy="1500.1" r="6.9"/>
<circle cx="784.9" cy="1500.7" r="6.9"/>
<circle cx="797.5" cy="1502.9" r="6.9"/>
<circle cx="744.2" cy="1504.5" r="6.9"/>
<circle cx="760.7" cy="1508.4" r="6.9"/>
<circle cx="739.2" cy="1515.5" r="6.9"/>
<circle cx="774.2" cy="1518.6" r="6.9"/>
<circle cx="756.3" cy="1527.1" r="6.9"/>
<circle cx="748.0" cy="1529.3" r="6.9"/>
<circle cx="772.0" cy="1529.8" r="6.9"/>
<circle cx="792.6" cy="1536.4" r="6.9"/>
<circle cx="770.9" cy="1549.6" r="6.9"/>
<circle cx="785.2" cy="1559.3" r="6.9"/>
<circle cx="768.4" cy="1562.8" r="6.9"/>
<circle cx="758.2" cy="1581.0" r="6.9"/>
<circle cx="775.0" cy="1596.9" r="6.9"/>
<circle cx="882.3" cy="1224.7" r="6.9"/>
<circle cx="890.6" cy="1234.8" r="6.9"/>
<circle cx="893.9" cy="1235.4" r="6.9"/>
<circle cx="894.2" cy="1252.2" r="6.9"/>
<circle cx="897.9" cy="1303.6" r="6.9"/>
<circle cx="907.8" cy="1322.8" r="6.9"/>
<circle cx="897.7" cy="1332.2" r="6.9"/>
<circle cx="900.8" cy="1331.1" r="6.9"/>
<circle cx="910.4" cy="1332.7" r="6.9"/>
<circle cx="868.6" cy="1337.1" r="6.9"/>
<circle cx="868.6" cy="1341.5" r="6.9"/>
<circle cx="868.0" cy="1346.5" r="6.9"/>
<circle cx="882.3" cy="1343.2" r="6.9"/>
<circle cx="885.8" cy="1352.0" r="6.9"/>
<circle cx="859.8" cy="1361.9" r="6.9"/>
<circle cx="871.9" cy="1368.5" r="6.9"/>
<circle cx="871.3" cy="1373.4" r="6.9"/>
<circle cx="922.5" cy="1376.7" r="6.9"/>
<circle cx="859.8" cy="1382.8" r="6.9"/>
<circle cx="842.9" cy="1394.0" r="6.9"/>
<circle cx="867.5" cy="1400.3" r="6.9"/>
<circle cx="890.6" cy="1395.3" r="6.9"/>
<circle cx="888.9" cy="1409.1" r="6.9"/>
<circle cx="906.0" cy="1402.5" r="6.9"/>
<circle cx="877.4" cy="1412.4" r="6.9"/>
<circle cx="867.5" cy="1420.8" r="6.9"/>
<circle cx="887.3" cy="1420.6" r="6.9"/>
<circle cx="894.4" cy="1420.1" r="6.9"/>
<circle cx="905.4" cy="1423.9" r="6.9"/>
<circle cx="920.3" cy="1426.1" r="6.9"/>
<circle cx="929.1" cy="1421.2" r="6.9"/>
<circle cx="937.3" cy="1412.9" r="6.9"/>
<circle cx="934.0" cy="1421.7" r="6.9"/>
<circle cx="848.2" cy="1428.9" r="6.9"/>
<circle cx="840.0" cy="1436.0" r="6.9"/>
<circle cx="851.0" cy="1438.8" r="6.9"/>
<circle cx="860.9" cy="1439.3" r="6.9"/>
<circle cx="870.8" cy="1456.9" r="6.9"/>
<circle cx="871.9" cy="1465.2" r="6.9"/>
<circle cx="863.1" cy="1470.7" r="6.9"/>
<circle cx="877.9" cy="1472.3" r="6.9"/>
<circle cx="900.8" cy="1464.1" r="6.9"/>
<circle cx="902.7" cy="1470.1" r="6.9"/>
<circle cx="921.9" cy="1463.5" r="6.9"/>
<circle cx="921.4" cy="1469.6" r="6.9"/>
<circle cx="908.5" cy="1485.0" r="6.9"/>
<circle cx="877.1" cy="1494.9" r="6.9"/>
<circle cx="863.6" cy="1500.4" r="6.9"/>
<circle cx="898.8" cy="1496.5" r="6.9"/>
<circle cx="889.5" cy="1511.4" r="6.9"/>
<circle cx="905.4" cy="1511.4" r="6.9"/>
<circle cx="909.3" cy="1508.1" r="6.9"/>
</g>
<polyline points="361.5,1156.0 361.5,1114.6 770.0,1114.6 770.0,1192.0" fill="none" stroke="#000" stroke-width="4" stroke-linecap="round"/>
<polyline points="243.0,1194.5 481.5,1194.5" fill="none" stroke="#000" stroke-width="4" stroke-linecap="round"/>
<polyline points="243.0,1241.8 362.0,1241.8" fill="none" stroke="#000" stroke-width="4" stroke-linecap="round"/>
<polyline points="651.0,1231.0 889.5,1231.0" fill="none" stroke="#000" stroke-width="4" stroke-linecap="round"/>
<polyline points="650.5,1278.6 763.0,1278.6" fill="none" stroke="#000" stroke-width="4" stroke-linecap="round"/>
<polyline points="775.0,1278.6 889.5,1278.6" fill="none" stroke="#000" stroke-width="4" stroke-linecap="round"/>
<text transform="translate(530.15,1105.90) scale(1.0758,1)" font-size="26" fill="#000">.0005</text>
<text transform="translate(327.49,1186.40) scale(1.0532,1)" font-size="26" fill="#000">.0000</text>
<text transform="translate(267.88,1233.30) scale(1.0597,1)" font-size="26" fill="#000">.0000</text>
<text transform="translate(737.75,1222.60) scale(1.0274,1)" font-size="26" fill="#000">.0000</text>
<text transform="translate(675.39,1268.80) scale(1.0565,1)" font-size="26" fill="#000">.0000</text>
<text transform="translate(795.11,1268.80) scale(1.0452,1)" font-size="26" fill="#000">.0000</text>
<text transform="translate(209.22,1292.80) scale(1.0419,1)" font-size="26" fill="#000">.0000</text>
<text transform="translate(327.40,1409.00) scale(1.0484,1)" font-size="26" fill="#000">.0000</text>
<text transform="translate(446.40,1393.00) scale(1.0484,1)" font-size="26" fill="#000">.0000</text>
<text transform="translate(613.10,1330.00) scale(1.0500,1)" font-size="26" fill="#000">.0000</text>
<text transform="translate(750.68,1432.70) scale(1.0606,1)" font-size="26" fill="#000">.02</text>
<text transform="translate(853.91,1375.00) scale(1.0452,1)" font-size="26" fill="#000">.0000</text>
<text transform="translate(5.96,1623.00) scale(1.0207,1)" font-size="59.3" fill="#000" font-weight="bold">c</text>
<text transform="translate(71.00,2215.07) rotate(-90) scale(0.9420,1)" font-size="46" fill="#000">Incongruent vs. Congruent</text>
<line x1="148.2" y1="1611.5" x2="148.2" y2="2311.5" stroke="#262626" stroke-width="3.6" stroke-linecap="butt"/>
<line x1="148.2" y1="1611.5" x2="159.5" y2="1611.5" stroke="#262626" stroke-width="3.2" stroke-linecap="round"/>
<text transform="translate(94.65,1618.50) scale(0.9244,1)" font-size="32" fill="#000">1.0</text>
<line x1="148.2" y1="1711.5" x2="159.5" y2="1711.5" stroke="#262626" stroke-width="3.2" stroke-linecap="round"/>
<text transform="translate(93.45,1718.50) scale(0.9524,1)" font-size="32" fill="#000">0.8</text>
<line x1="148.2" y1="1811.5" x2="159.5" y2="1811.5" stroke="#262626" stroke-width="3.2" stroke-linecap="round"/>
<text transform="translate(93.45,1818.50) scale(0.9524,1)" font-size="32" fill="#000">0.6</text>
<line x1="148.2" y1="1911.5" x2="159.5" y2="1911.5" stroke="#262626" stroke-width="3.2" stroke-linecap="round"/>
<text transform="translate(93.47,1918.50) scale(0.9302,1)" font-size="32" fill="#000">0.4</text>
<line x1="148.2" y1="2011.5" x2="159.5" y2="2011.5" stroke="#262626" stroke-width="3.2" stroke-linecap="round"/>
<text transform="translate(93.45,2018.50) scale(0.9524,1)" font-size="32" fill="#000">0.2</text>
<line x1="148.2" y1="2111.5" x2="159.5" y2="2111.5" stroke="#262626" stroke-width="3.2" stroke-linecap="round"/>
<text transform="translate(93.45,2118.50) scale(0.9524,1)" font-size="32" fill="#000">0.0</text>
<line x1="148.2" y1="2211.5" x2="159.5" y2="2211.5" stroke="#262626" stroke-width="3.2" stroke-linecap="round"/>
<text transform="translate(83.05,2218.50) scale(0.9509,1)" font-size="32" fill="#000">-0.2</text>
<line x1="148.2" y1="2311.5" x2="159.5" y2="2311.5" stroke="#262626" stroke-width="3.2" stroke-linecap="round"/>
<text transform="translate(83.05,2318.50) scale(0.9509,1)" font-size="32" fill="#000">-0.4</text>
<line x1="148.2" y1="2111.5" x2="963.0" y2="2111.5" stroke="#222" stroke-width="3.4" stroke-linecap="round"/>
<rect x="208.1" y="1958.0" width="69.8" height="153.5" fill="#c1c2c2" stroke="#000" stroke-width="5.2" stroke-linejoin="round"/>
<line x1="243.0" y1="1944.8" x2="243.0" y2="1971.8" stroke="#000" stroke-width="5" stroke-linecap="butt"/>
<line x1="235.5" y1="1944.8" x2="250.5" y2="1944.8" stroke="#000" stroke-width="5" stroke-linecap="round"/>
<line x1="235.5" y1="1971.8" x2="250.5" y2="1971.8" stroke="#000" stroke-width="5" stroke-linecap="round"/>
<rect x="327.1" y="2066.0" width="69.8" height="45.5" fill="#c1c2c2" stroke="#000" stroke-width="5.2" stroke-linejoin="round"/>
<line x1="362.0" y1="2057.5" x2="362.0" y2="2076.0" stroke="#000" stroke-width="5" stroke-linecap="butt"/>
<line x1="354.5" y1="2057.5" x2="369.5" y2="2057.5" stroke="#000" stroke-width="5" stroke-linecap="round"/>
<line x1="354.5" y1="2076.0" x2="369.5" y2="2076.0" stroke="#000" stroke-width="5" stroke-linecap="round"/>
<rect x="446.1" y="2050.5" width="69.8" height="61.0" fill="#c1c2c2" stroke="#000" stroke-width="5.2" stroke-linejoin="round"/>
<line x1="481.0" y1="2041.8" x2="481.0" y2="2061.0" stroke="#000" stroke-width="5" stroke-linecap="butt"/>
<line x1="473.5" y1="2041.8" x2="488.5" y2="2041.8" stroke="#000" stroke-width="5" stroke-linecap="round"/>
<line x1="473.5" y1="2061.0" x2="488.5" y2="2061.0" stroke="#000" stroke-width="5" stroke-linecap="round"/>
<rect x="612.5" y="2014.0" width="69.8" height="97.5" fill="#c1c2c2" stroke="#000" stroke-width="5.2" stroke-linejoin="round"/>
<line x1="647.4" y1="2001.3" x2="647.4" y2="2025.8" stroke="#000" stroke-width="5" stroke-linecap="butt"/>
<line x1="639.9" y1="2001.3" x2="654.9" y2="2001.3" stroke="#000" stroke-width="5" stroke-linecap="round"/>
<line x1="639.9" y1="2025.8" x2="654.9" y2="2025.8" stroke="#000" stroke-width="5" stroke-linecap="round"/>
<line x1="733.5" y1="2112.0" x2="805.5" y2="2112.0" stroke="#000" stroke-width="5" stroke-linecap="butt"/>
<line x1="769.5" y1="2101.8" x2="769.5" y2="2122.8" stroke="#000" stroke-width="5" stroke-linecap="butt"/>
<line x1="762.0" y1="2101.8" x2="777.0" y2="2101.8" stroke="#000" stroke-width="5" stroke-linecap="round"/>
<line x1="762.0" y1="2122.8" x2="777.0" y2="2122.8" stroke="#000" stroke-width="5" stroke-linecap="round"/>
<rect x="854.0" y="2030.5" width="69.8" height="81.0" fill="#c1c2c2" stroke="#000" stroke-width="5.2" stroke-linejoin="round"/>
<line x1="888.9" y1="2017.8" x2="888.9" y2="2040.5" stroke="#000" stroke-width="5" stroke-linecap="butt"/>
<line x1="881.4" y1="2017.8" x2="896.4" y2="2017.8" stroke="#000" stroke-width="5" stroke-linecap="round"/>
<line x1="881.4" y1="2040.5" x2="896.4" y2="2040.5" stroke="#000" stroke-width="5" stroke-linecap="round"/>
<g fill="rgba(126,126,126,0.5)" stroke="rgba(70,70,70,0.55)" stroke-width="1">
<circle cx="241.9" cy="1614.3" r="6.9"/>
<circle cx="243.1" cy="1654.2" r="6.9"/>
<circle cx="233.6" cy="1789.2" r="6.9"/>
<circle cx="242.5" cy="1804.7" r="6.9"/>
<circle cx="252.4" cy="1820.5" r="6.9"/>
<circle cx="267.6" cy="1823.3" r="6.9"/>
<circle cx="229.8" cy="1828.8" r="6.9"/>
<circle cx="262.1" cy="1834.5" r="6.9"/>
<circle cx="234.3" cy="1846.3" r="6.9"/>
<circle cx="268.5" cy="1851.0" r="6.9"/>
<circle cx="236.2" cy="1863.6" r="6.9"/>
<circle cx="210.6" cy="1868.7" r="6.9"/>
<circle cx="213.3" cy="1869.3" r="6.9"/>
<circle cx="228.8" cy="1878.8" r="6.9"/>
<circle cx="216.1" cy="1896.3" r="6.9"/>
<circle cx="227.8" cy="1900.4" r="6.9"/>
<circle cx="246.3" cy="1898.7" r="6.9"/>
<circle cx="249.1" cy="1907.5" r="6.9"/>
<circle cx="278.2" cy="1893.2" r="6.9"/>
<circle cx="279.3" cy="1902.0" r="6.9"/>
<circle cx="202.3" cy="1926.8" r="6.9"/>
<circle cx="202.3" cy="1937.2" r="6.9"/>
<circle cx="228.7" cy="1929.5" r="6.9"/>
<circle cx="233.1" cy="1927.9" r="6.9"/>
<circle cx="263.9" cy="1920.7" r="6.9"/>
<circle cx="265.6" cy="1930.6" r="6.9"/>
<circle cx="206.2" cy="1950.4" r="6.9"/>
<circle cx="261.2" cy="1944.4" r="6.9"/>
<circle cx="265.0" cy="1948.8" r="6.9"/>
<circle cx="288.7" cy="1945.5" r="6.9"/>
<circle cx="211.1" cy="1959.8" r="6.9"/>
<circle cx="240.3" cy="1957.0" r="6.9"/>
<circle cx="233.1" cy="1979.0" r="6.9"/>
<circle cx="243.6" cy="1981.8" r="6.9"/>
<circle cx="266.1" cy="1982.3" r="6.9"/>
<circle cx="283.7" cy="1985.6" r="6.9"/>
<circle cx="206.7" cy="1989.5" r="6.9"/>
<circle cx="232.6" cy="1993.3" r="6.9"/>
<circle cx="239.2" cy="1998.8" r="6.9"/>
<circle cx="282.6" cy="1998.3" r="6.9"/>
<circle cx="260.6" cy="2006.5" r="6.9"/>
<circle cx="286.5" cy="2013.7" r="6.9"/>
<circle cx="262.3" cy="2023.0" r="6.9"/>
<circle cx="217.7" cy="2029.1" r="6.9"/>
<circle cx="232.0" cy="2034.6" r="6.9"/>
<circle cx="209.5" cy="2040.6" r="6.9"/>
<circle cx="215.0" cy="2041.7" r="6.9"/>
<circle cx="271.6" cy="2042.3" r="6.9"/>
<circle cx="277.1" cy="2040.6" r="6.9"/>
<circle cx="260.0" cy="2053.3" r="6.9"/>
<circle cx="269.4" cy="2061.0" r="6.9"/>
<circle cx="282.1" cy="2061.5" r="6.9"/>
<circle cx="278.8" cy="2067.6" r="6.9"/>
<circle cx="214.4" cy="2077.5" r="6.9"/>
<circle cx="221.0" cy="2077.5" r="6.9"/>
<circle cx="223.2" cy="2087.4" r="6.9"/>
<circle cx="253.5" cy="2090.1" r="6.9"/>
<circle cx="241.9" cy="2098.4" r="6.9"/>
<circle cx="252.4" cy="2109.4" r="6.9"/>
<circle cx="243.0" cy="2115.4" r="6.9"/>
<circle cx="255.3" cy="2122.0" r="6.9"/>
<circle cx="246.6" cy="2208.9" r="6.9"/>
<circle cx="356.1" cy="1917.6" r="6.9"/>
<circle cx="366.5" cy="1939.6" r="6.9"/>
<circle cx="374.2" cy="1941.8" r="6.9"/>
<circle cx="355.3" cy="1965.8" r="6.9"/>
<circle cx="369.6" cy="1970.4" r="6.9"/>
<circle cx="351.7" cy="1979.2" r="6.9"/>
<circle cx="338.5" cy="1991.9" r="6.9"/>
<circle cx="342.9" cy="1992.4" r="6.9"/>
<circle cx="385.0" cy="1994.6" r="6.9"/>
<circle cx="394.0" cy="2002.3" r="6.9"/>
<circle cx="349.5" cy="2005.6" r="6.9"/>
<circle cx="355.0" cy="2008.9" r="6.9"/>
<circle cx="364.9" cy="2012.8" r="6.9"/>
<circle cx="375.9" cy="2007.3" r="6.9"/>
<circle cx="386.3" cy="2017.7" r="6.9"/>
<circle cx="391.3" cy="2020.5" r="6.9"/>
<circle cx="380.8" cy="2026.0" r="6.9"/>
<circle cx="385.2" cy="2030.9" r="6.9"/>
<circle cx="395.7" cy="2035.9" r="6.9"/>
<circle cx="403.9" cy="2040.3" r="6.9"/>
<circle cx="359.9" cy="2039.2" r="6.9"/>
<circle cx="328.6" cy="2039.7" r="6.9"/>
<circle cx="327.5" cy="2057.3" r="6.9"/>
<circle cx="347.8" cy="2058.4" r="6.9"/>
<circle cx="381.4" cy="2057.3" r="6.9"/>
<circle cx="394.6" cy="2065.0" r="6.9"/>
<circle cx="400.6" cy="2066.7" r="6.9"/>
<circle cx="352.8" cy="2068.3" r="6.9"/>
<circle cx="336.8" cy="2074.9" r="6.9"/>
<circle cx="351.7" cy="2074.9" r="6.9"/>
<circle cx="381.4" cy="2071.6" r="6.9"/>
<circle cx="320.3" cy="2083.2" r="6.9"/>
<circle cx="324.7" cy="2088.7" r="6.9"/>
<circle cx="322.5" cy="2095.8" r="6.9"/>
<circle cx="347.8" cy="2097.5" r="6.9"/>
<circle cx="351.1" cy="2095.8" r="6.9"/>
<circle cx="402.8" cy="2092.0" r="6.9"/>
<circle cx="402.3" cy="2096.4" r="6.9"/>
<circle cx="331.9" cy="2102.4" r="6.9"/>
<circle cx="361.0" cy="2103.5" r="6.9"/>
<circle cx="379.7" cy="2101.3" r="6.9"/>
<circle cx="381.9" cy="2099.7" r="6.9"/>
<circle cx="333.0" cy="2110.1" r="6.9"/>
<circle cx="383.0" cy="2107.9" r="6.9"/>
<circle cx="329.1" cy="2121.5" r="6.9"/>
<circle cx="376.2" cy="2120.9" r="6.9"/>
<circle cx="390.5" cy="2120.4" r="6.9"/>
<circle cx="402.8" cy="2115.4" r="6.9"/>
<circle cx="362.1" cy="2136.3" r="6.9"/>
<circle cx="352.8" cy="2144.6" r="6.9"/>
<circle cx="344.0" cy="2145.1" r="6.9"/>
<circle cx="342.9" cy="2150.1" r="6.9"/>
<circle cx="359.9" cy="2147.9" r="6.9"/>
<circle cx="365.2" cy="2155.9" r="6.9"/>
<circle cx="384.7" cy="2159.2" r="6.9"/>
<circle cx="361.0" cy="2167.3" r="6.9"/>
<circle cx="372.6" cy="2197.9" r="6.9"/>
<circle cx="365.2" cy="2207.3" r="6.9"/>
<circle cx="365.4" cy="2215.3" r="6.9"/>
<circle cx="479.8" cy="1758.0" r="6.9"/>
<circle cx="482.0" cy="1885.0" r="6.9"/>
<circle cx="467.1" cy="1935.3" r="6.9"/>
<circle cx="475.9" cy="1948.8" r="6.9"/>
<circle cx="500.9" cy="1950.2" r="6.9"/>
<circle cx="492.3" cy="1963.4" r="6.9"/>
<circle cx="504.2" cy="1969.4" r="6.9"/>
<circle cx="511.4" cy="1970.0" r="6.9"/>
<circle cx="462.2" cy="1968.7" r="6.9"/>
<circle cx="453.8" cy="1979.3" r="6.9"/>
<circle cx="479.7" cy="1977.7" r="6.9"/>
<circle cx="495.4" cy="1988.2" r="6.9"/>
<circle cx="509.7" cy="1989.3" r="6.9"/>
<circle cx="469.6" cy="1997.0" r="6.9"/>
<circle cx="480.6" cy="1996.4" r="6.9"/>
<circle cx="494.3" cy="1999.7" r="6.9"/>
<circle cx="497.6" cy="2004.1" r="6.9"/>
<circle cx="511.7" cy="2003.6" r="6.9"/>
<circle cx="455.8" cy="2004.7" r="6.9"/>
<circle cx="462.4" cy="2010.7" r="6.9"/>
<circle cx="477.8" cy="2010.2" r="6.9"/>
<circle cx="472.3" cy="2019.5" r="6.9"/>
<circle cx="456.4" cy="2023.9" r="6.9"/>
<circle cx="511.9" cy="2023.9" r="6.9"/>
<circle cx="497.6" cy="2033.6" r="6.9"/>
<circle cx="496.3" cy="2043.2" r="6.9"/>
<circle cx="446.5" cy="2057.8" r="6.9"/>
<circle cx="458.6" cy="2064.1" r="6.9"/>
<circle cx="496.5" cy="2063.5" r="6.9"/>
<circle cx="493.2" cy="2064.6" r="6.9"/>
<circle cx="478.9" cy="2064.6" r="6.9"/>
<circle cx="472.3" cy="2069.0" r="6.9"/>
<circle cx="465.7" cy="2071.2" r="6.9"/>
<circle cx="466.8" cy="2074.5" r="6.9"/>
<circle cx="486.1" cy="2078.4" r="6.9"/>
<circle cx="516.9" cy="2078.4" r="6.9"/>
<circle cx="441.5" cy="2086.6" r="6.9"/>
<circle cx="450.3" cy="2088.8" r="6.9"/>
<circle cx="504.2" cy="2097.1" r="6.9"/>
<circle cx="529.5" cy="2099.8" r="6.9"/>
<circle cx="448.7" cy="2104.8" r="6.9"/>
<circle cx="443.7" cy="2107.0" r="6.9"/>
<circle cx="471.2" cy="2104.8" r="6.9"/>
<circle cx="476.7" cy="2103.1" r="6.9"/>
<circle cx="478.9" cy="2109.2" r="6.9"/>
<circle cx="499.8" cy="2109.7" r="6.9"/>
<circle cx="509.2" cy="2111.4" r="6.9"/>
<circle cx="520.7" cy="2114.1" r="6.9"/>
<circle cx="468.5" cy="2116.3" r="6.9"/>
<circle cx="481.1" cy="2120.7" r="6.9"/>
<circle cx="445.4" cy="2122.9" r="6.9"/>
<circle cx="454.7" cy="2123.5" r="6.9"/>
<circle cx="448.1" cy="2127.9" r="6.9"/>
<circle cx="523.5" cy="2128.4" r="6.9"/>
<circle cx="507.0" cy="2133.9" r="6.9"/>
<circle cx="516.3" cy="2136.7" r="6.9"/>
<circle cx="513.6" cy="2142.2" r="6.9"/>
<circle cx="499.8" cy="2152.1" r="6.9"/>
<circle cx="471.8" cy="2179.0" r="6.9"/>
<circle cx="650.3" cy="1756.3" r="6.9"/>
<circle cx="658.6" cy="1884.9" r="6.9"/>
<circle cx="655.5" cy="1893.0" r="6.9"/>
<circle cx="668.5" cy="1895.7" r="6.9"/>
<circle cx="630.8" cy="1902.3" r="6.9"/>
<circle cx="636.8" cy="1905.1" r="6.9"/>
<circle cx="642.9" cy="1904.5" r="6.9"/>
<circle cx="665.4" cy="1918.3" r="6.9"/>
<circle cx="661.9" cy="1928.7" r="6.9"/>
<circle cx="628.0" cy="1923.2" r="6.9"/>
<circle cx="625.8" cy="1943.0" r="6.9"/>
<circle cx="647.6" cy="1956.8" r="6.9"/>
<circle cx="677.0" cy="1959.0" r="6.9"/>
<circle cx="679.7" cy="1959.5" r="6.9"/>
<circle cx="639.0" cy="1968.3" r="6.9"/>
<circle cx="620.3" cy="1975.5" r="6.9"/>
<circle cx="646.2" cy="1971.6" r="6.9"/>
<circle cx="658.3" cy="1974.4" r="6.9"/>
<circle cx="639.6" cy="1980.4" r="6.9"/>
<circle cx="678.6" cy="1996.4" r="6.9"/>
<circle cx="600.5" cy="2006.3" r="6.9"/>
<circle cx="609.1" cy="2006.3" r="6.9"/>
<circle cx="609.3" cy="2015.6" r="6.9"/>
<circle cx="609.3" cy="2021.7" r="6.9"/>
<circle cx="627.1" cy="2027.2" r="6.9"/>
<circle cx="649.8" cy="2025.0" r="6.9"/>
<circle cx="664.5" cy="2031.6" r="6.9"/>
<circle cx="664.1" cy="2035.4" r="6.9"/>
<circle cx="689.1" cy="2032.7" r="6.9"/>
<circle cx="688.0" cy="2038.2" r="6.9"/>
<circle cx="696.2" cy="2046.4" r="6.9"/>
<circle cx="618.1" cy="2047.0" r="6.9"/>
<circle cx="625.8" cy="2047.5" r="6.9"/>
<circle cx="644.0" cy="2043.7" r="6.9"/>
<circle cx="646.7" cy="2053.6" r="6.9"/>
<circle cx="662.3" cy="2054.7" r="6.9"/>
<circle cx="650.0" cy="2065.7" r="6.9"/>
<circle cx="603.8" cy="2070.6" r="6.9"/>
<circle cx="629.1" cy="2077.8" r="6.9"/>
<circle cx="664.1" cy="2075.6" r="6.9"/>
<circle cx="683.0" cy="2075.6" r="6.9"/>
<circle cx="630.2" cy="2086.0" r="6.9"/>
<circle cx="615.4" cy="2091.0" r="6.9"/>
<circle cx="661.6" cy="2092.6" r="6.9"/>
<circle cx="634.1" cy="2097.6" r="6.9"/>
<circle cx="670.7" cy="2101.4" r="6.9"/>
<circle cx="635.7" cy="2117.9" r="6.9"/>
<circle cx="639.6" cy="2119.6" r="6.9"/>
<circle cx="669.6" cy="2135.0" r="6.9"/>
<circle cx="632.4" cy="2169.1" r="6.9"/>
<circle cx="638.5" cy="2168.5" r="6.9"/>
<circle cx="649.1" cy="2170.7" r="6.9"/>
<circle cx="656.8" cy="2187.8" r="6.9"/>
<circle cx="775.5" cy="1942.4" r="6.9"/>
<circle cx="786.7" cy="1979.2" r="6.9"/>
<circle cx="752.1" cy="1987.5" r="6.9"/>
<circle cx="750.0" cy="1999.0" r="6.9"/>
<circle cx="751.9" cy="2010.6" r="6.9"/>
<circle cx="780.1" cy="2011.7" r="6.9"/>
<circle cx="785.4" cy="2008.9" r="6.9"/>
<circle cx="793.3" cy="2009.5" r="6.9"/>
<circle cx="795.5" cy="2021.0" r="6.9"/>
<circle cx="748.0" cy="2028.9" r="6.9"/>
<circle cx="760.1" cy="2031.8" r="6.9"/>
<circle cx="769.7" cy="2036.2" r="6.9"/>
<circle cx="800.6" cy="2037.0" r="6.9"/>
<circle cx="754.8" cy="2045.4" r="6.9"/>
<circle cx="745.6" cy="2055.1" r="6.9"/>
<circle cx="793.1" cy="2056.8" r="6.9"/>
<circle cx="762.1" cy="2062.6" r="6.9"/>
<circle cx="796.2" cy="2077.3" r="6.9"/>
<circle cx="772.0" cy="2092.0" r="6.9"/>
<circle cx="783.4" cy="2094.7" r="6.9"/>
<circle cx="786.5" cy="2096.9" r="6.9"/>
<circle cx="804.7" cy="2095.6" r="6.9"/>
<circle cx="722.9" cy="2104.6" r="6.9"/>
<circle cx="749.7" cy="2104.6" r="6.9"/>
<circle cx="753.0" cy="2105.7" r="6.9"/>
<circle cx="790.9" cy="2106.3" r="6.9"/>
<circle cx="729.3" cy="2112.9" r="6.9"/>
<circle cx="749.1" cy="2114.5" r="6.9"/>
<circle cx="760.1" cy="2120.4" r="6.9"/>
<circle cx="782.7" cy="2120.4" r="6.9"/>
<circle cx="768.9" cy="2129.2" r="6.9"/>
<circle cx="723.8" cy="2146.8" r="6.9"/>
<circle cx="748.0" cy="2145.3" r="6.9"/>
<circle cx="733.2" cy="2156.1" r="6.9"/>
<circle cx="740.9" cy="2158.9" r="6.9"/>
<circle cx="743.8" cy="2161.1" r="6.9"/>
<circle cx="775.3" cy="2150.1" r="6.9"/>
<circle cx="786.3" cy="2146.8" r="6.9"/>
<circle cx="799.7" cy="2142.7" r="6.9"/>
<circle cx="770.0" cy="2162.2" r="6.9"/>
<circle cx="773.1" cy="2164.4" r="6.9"/>
<circle cx="786.5" cy="2158.9" r="6.9"/>
<circle cx="784.9" cy="2161.6" r="6.9"/>
<circle cx="812.9" cy="2164.4" r="6.9"/>
<circle cx="801.0" cy="2177.6" r="6.9"/>
<circle cx="750.2" cy="2201.2" r="6.9"/>
<circle cx="764.0" cy="2205.4" r="6.9"/>
<circle cx="792.6" cy="2202.9" r="6.9"/>
<circle cx="791.2" cy="2210.2" r="6.9"/>
<circle cx="749.7" cy="2226.0" r="6.9"/>
<circle cx="761.8" cy="2224.9" r="6.9"/>
<circle cx="770.0" cy="2256.8" r="6.9"/>
<circle cx="774.4" cy="2290.9" r="6.9"/>
<circle cx="769.2" cy="2301.3" r="6.9"/>
<circle cx="890.0" cy="1826.6" r="6.9"/>
<circle cx="893.6" cy="1841.4" r="6.9"/>
<circle cx="880.9" cy="1862.1" r="6.9"/>
<circle cx="895.0" cy="1865.8" r="6.9"/>
<circle cx="896.1" cy="1907.6" r="6.9"/>
<circle cx="903.2" cy="1930.3" r="6.9"/>
<circle cx="905.1" cy="1939.9" r="6.9"/>
<circle cx="883.7" cy="1947.0" r="6.9"/>
<circle cx="872.1" cy="1952.7" r="6.9"/>
<circle cx="897.2" cy="1950.9" r="6.9"/>
<circle cx="901.0" cy="1958.0" r="6.9"/>
<circle cx="864.7" cy="1979.7" r="6.9"/>
<circle cx="875.9" cy="1978.4" r="6.9"/>
<circle cx="857.0" cy="1992.7" r="6.9"/>
<circle cx="869.1" cy="1993.2" r="6.9"/>
<circle cx="883.4" cy="1999.8" r="6.9"/>
<circle cx="925.2" cy="2000.9" r="6.9"/>
<circle cx="844.4" cy="2004.2" r="6.9"/>
<circle cx="860.9" cy="2006.0" r="6.9"/>
<circle cx="880.1" cy="1998.8" r="6.9"/>
<circle cx="906.0" cy="2014.4" r="6.9"/>
<circle cx="866.9" cy="2021.9" r="6.9"/>
<circle cx="848.8" cy="2026.3" r="6.9"/>
<circle cx="893.9" cy="2025.2" r="6.9"/>
<circle cx="888.9" cy="2027.4" r="6.9"/>
<circle cx="905.4" cy="2031.3" r="6.9"/>
<circle cx="855.4" cy="2034.6" r="6.9"/>
<circle cx="867.5" cy="2039.0" r="6.9"/>
<circle cx="877.9" cy="2044.5" r="6.9"/>
<circle cx="888.4" cy="2045.6" r="6.9"/>
<circle cx="888.9" cy="2048.3" r="6.9"/>
<circle cx="839.2" cy="2052.2" r="6.9"/>
<circle cx="919.7" cy="2053.3" r="6.9"/>
<circle cx="892.2" cy="2061.0" r="6.9"/>
<circle cx="861.2" cy="2068.3" r="6.9"/>
<circle cx="852.1" cy="2073.1" r="6.9"/>
<circle cx="931.8" cy="2068.3" r="6.9"/>
<circle cx="904.9" cy="2083.0" r="6.9"/>
<circle cx="901.6" cy="2084.6" r="6.9"/>
<circle cx="925.8" cy="2080.8" r="6.9"/>
<circle cx="924.1" cy="2091.2" r="6.9"/>
<circle cx="922.5" cy="2092.9" r="6.9"/>
<circle cx="913.7" cy="2098.4" r="6.9"/>
<circle cx="872.2" cy="2105.5" r="6.9"/>
<circle cx="902.1" cy="2112.1" r="6.9"/>
<circle cx="855.9" cy="2120.4" r="6.9"/>
<circle cx="874.6" cy="2119.3" r="6.9"/>
<circle cx="923.6" cy="2116.5" r="6.9"/>
<circle cx="868.0" cy="2129.7" r="6.9"/>
<circle cx="913.7" cy="2127.5" r="6.9"/>
<circle cx="916.2" cy="2131.4" r="6.9"/>
<circle cx="877.4" cy="2136.9" r="6.9"/>
<circle cx="881.8" cy="2146.2" r="6.9"/>
<circle cx="889.1" cy="2169.3" r="6.9"/>
</g>
<polyline points="362.4,1795.9 362.4,1718.8 770.3,1718.8 770.3,1848.0" fill="none" stroke="#000" stroke-width="4" stroke-linecap="round"/>
<polyline points="243.8,1840.7 482.8,1840.7" fill="none" stroke="#000" stroke-width="4" stroke-linecap="round"/>
<polyline points="243.8,1887.4 365.0,1887.4" fill="none" stroke="#000" stroke-width="4" stroke-linecap="round"/>
<polyline points="647.8,1890.0 887.5,1890.0" fill="none" stroke="#000" stroke-width="4" stroke-linecap="round"/>
<polyline points="646.0,1938.0 760.5,1938.0" fill="none" stroke="#000" stroke-width="4" stroke-linecap="round"/>
<polyline points="771.3,1938.0 887.5,1938.0" fill="none" stroke="#000" stroke-width="4" stroke-linecap="round"/>
<text transform="translate(329.12,1832.00) scale(1.0419,1)" font-size="26" fill="#000">.0000</text>
<text transform="translate(269.94,1878.30) scale(1.0290,1)" font-size="26" fill="#000">.0000</text>
<text transform="translate(748.88,1881.30) scale(1.0606,1)" font-size="26" fill="#000">.15</text>
<text transform="translate(672.58,1928.50) scale(1.0613,1)" font-size="26" fill="#000">.0000</text>
<text transform="translate(790.85,1928.50) scale(1.0726,1)" font-size="26" fill="#000">.0000</text>
<text transform="translate(208.90,1921.00) scale(1.0484,1)" font-size="26" fill="#000">.0000</text>
<text transform="translate(327.90,2038.00) scale(1.0484,1)" font-size="26" fill="#000">.0000</text>
<text transform="translate(446.90,2023.00) scale(1.0484,1)" font-size="26" fill="#000">.0000</text>
<text transform="translate(612.38,1979.00) scale(1.0613,1)" font-size="26" fill="#000">.0000</text>
<text transform="translate(745.74,2080.80) scale(1.0581,1)" font-size="26" fill="#000">-.86</text>
<text transform="translate(853.19,2003.00) scale(1.0565,1)" font-size="26" fill="#000">.0000</text>
<text transform="translate(468.89,1710.70) scale(1.0552,1)" font-size="26" fill="#000">.0001 (<tspan font-style="italic">d</tspan> = 0.91)</text>
<text transform="translate(220.65,2299.40) scale(1.0150,1)" font-size="39.7" fill="#000">LL</text>
<text transform="translate(343.73,2299.40) scale(1.0889,1)" font-size="39.7" fill="#000">M</text>
<text transform="translate(455.54,2299.40) scale(0.9872,1)" font-size="39.7" fill="#000">RL</text>
<text transform="translate(624.92,2301.30) scale(1.0250,1)" font-size="39.7" fill="#000">LL</text>
<text transform="translate(740.61,2299.40) scale(1.0963,1)" font-size="39.7" fill="#000">M</text>
<text transform="translate(852.24,2299.40) scale(0.9851,1)" font-size="39.7" fill="#000">RL</text>
<line x1="205.0" y1="2311.2" x2="526.0" y2="2311.2" stroke="#000" stroke-width="4.2" stroke-linecap="round"/>
<line x1="611.5" y1="2311.2" x2="913.5" y2="2311.2" stroke="#000" stroke-width="4.2" stroke-linecap="round"/>
<text transform="translate(303.33,2354.50) scale(1.0364,1)" font-size="38.4" fill="#000">Stroop</text>
<text transform="translate(683.65,2354.50) scale(1.0259,1)" font-size="38.4" fill="#000">Swimmy</text>
</svg>
</body></html>
